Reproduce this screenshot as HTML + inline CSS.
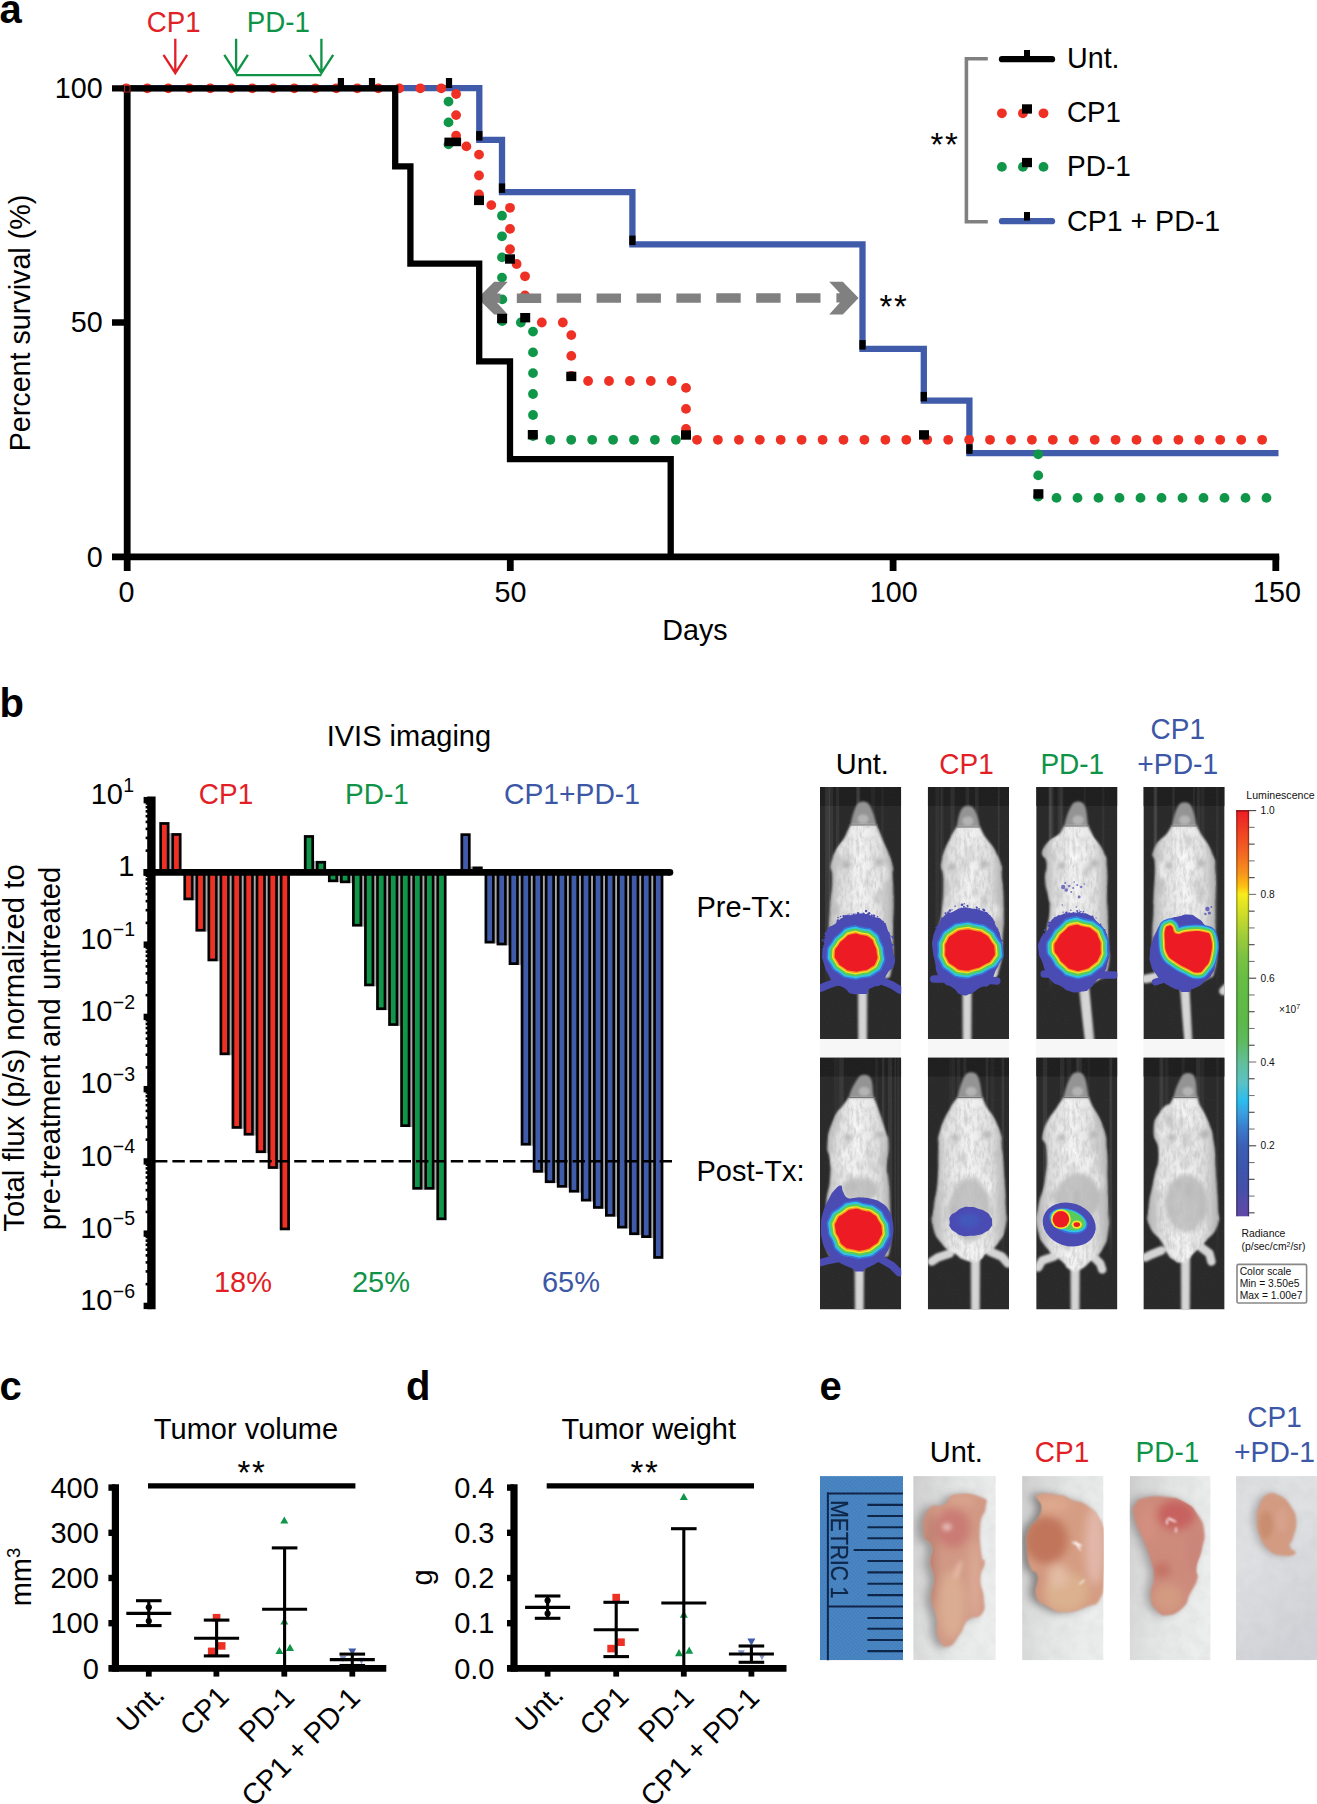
<!DOCTYPE html>
<html lang="en"><head><meta charset="utf-8"><title>Figure</title>
<style>
html,body{margin:0;padding:0;background:#fff;}
body{width:1317px;height:1804px;overflow:hidden;}
svg{display:block;font-family:"Liberation Sans",Arial,Helvetica,sans-serif;}
text{white-space:pre;}
</style></head><body>
<svg width="1317" height="1804" viewBox="0 0 1317 1804">
<defs>

<filter id="mblur" x="-10%" y="-10%" width="120%" height="120%"><feGaussianBlur stdDeviation="0.9"/></filter>
<filter id="mblur2" x="-20%" y="-20%" width="140%" height="140%"><feGaussianBlur stdDeviation="2.2"/></filter>
<filter id="lblur" x="-10%" y="-10%" width="120%" height="120%"><feGaussianBlur stdDeviation="0.5"/></filter>
<linearGradient id="bodyg" x1="0" y1="0" x2="1" y2="0"><stop offset="0" stop-color="#b0b0b0"/><stop offset="0.2" stop-color="#dedede"/><stop offset="0.5" stop-color="#f4f4f4"/><stop offset="0.8" stop-color="#dedede"/><stop offset="1" stop-color="#adadad"/></linearGradient>
<linearGradient id="stripe" x1="0" y1="0" x2="0" y2="1"><stop offset="0" stop-color="#fff"/><stop offset="0.8" stop-color="#fff"/><stop offset="1" stop-color="#fff" stop-opacity="0"/></linearGradient>
<filter id="fur" x="0" y="0" width="100%" height="100%"><feTurbulence type="fractalNoise" baseFrequency="0.3 0.12" numOctaves="3" seed="4" result="n"/><feColorMatrix type="matrix" values="0 0 0 0 0.5  0 0 0 0 0.5  0 0 0 0 0.5  3 0 0 0 -1.2"/></filter>
<filter id="noise" x="0" y="0" width="100%" height="100%"><feTurbulence type="fractalNoise" baseFrequency="0.5" numOctaves="2" seed="9"/><feColorMatrix type="matrix" values="0 0 0 0 1  0 0 0 0 1  0 0 0 0 1  0.5 0 0 0 -0.2"/></filter>
<linearGradient id="tailg" x1="0" y1="0" x2="1" y2="0"><stop offset="0" stop-color="#b4b4b4"/><stop offset="0.3" stop-color="#d6d6d6"/><stop offset="0.7" stop-color="#d6d6d6"/><stop offset="1" stop-color="#b4b4b4"/></linearGradient>
<linearGradient id="cbar" x1="0" y1="0" x2="0" y2="1"><stop offset="0" stop-color="#ed1c24"/><stop offset="0.104" stop-color="#f26522"/><stop offset="0.155" stop-color="#f7941d"/><stop offset="0.187" stop-color="#fdc010"/><stop offset="0.207" stop-color="#f8ec1c"/><stop offset="0.26" stop-color="#cadb2a"/><stop offset="0.31" stop-color="#a0cc3a"/><stop offset="0.36" stop-color="#7cc242"/><stop offset="0.4145" stop-color="#67bd45"/><stop offset="0.518" stop-color="#5cb848"/><stop offset="0.57" stop-color="#5dba60"/><stop offset="0.622" stop-color="#62bf9a"/><stop offset="0.67" stop-color="#5cc1c4"/><stop offset="0.715" stop-color="#2bbdee"/><stop offset="0.745" stop-color="#3aa0e0"/><stop offset="0.783" stop-color="#3a7ccc"/><stop offset="0.827" stop-color="#3c5fb4"/><stop offset="0.88" stop-color="#3c56ac"/><stop offset="0.93" stop-color="#4450a8"/><stop offset="0.98" stop-color="#5a4aa8"/><stop offset="1" stop-color="#5e48a6"/></linearGradient>

<filter id="eblur" x="-10%" y="-10%" width="120%" height="120%"><feGaussianBlur stdDeviation="1.0"/></filter>
<filter id="eblur2" x="-30%" y="-30%" width="160%" height="160%"><feGaussianBlur stdDeviation="2"/></filter>
<filter id="eblur3" x="-30%" y="-30%" width="160%" height="160%"><feGaussianBlur stdDeviation="4"/></filter>
<filter id="rblur" x="-5%" y="-5%" width="110%" height="110%"><feGaussianBlur stdDeviation="0.45"/></filter>
<linearGradient id="paper" x1="0" y1="0" x2="1" y2="0.3"><stop offset="0" stop-color="#cecece"/><stop offset="0.45" stop-color="#e2e3e3"/><stop offset="1" stop-color="#eceded"/></linearGradient>
<linearGradient id="paper4" x1="0" y1="0" x2="0.4" y2="1"><stop offset="0" stop-color="#dedfe1"/><stop offset="0.4" stop-color="#e0e1e3"/><stop offset="1" stop-color="#d2d3d8"/></linearGradient>
<pattern id="weave" width="2.6" height="2.6" patternUnits="userSpaceOnUse" patternTransform="rotate(38)"><rect width="2.6" height="2.6" fill="#4784c1"/><rect width="2.6" height="1.1" fill="#3f7ab8"/><rect width="1.1" height="2.6" fill="#5590ca" opacity="0.5"/></pattern>
<filter id="pnoise" x="0" y="0" width="100%" height="100%"><feTurbulence type="fractalNoise" baseFrequency="0.08" numOctaves="3" seed="3"/><feColorMatrix type="matrix" values="0 0 0 0 0.5  0 0 0 0 0.5  0 0 0 0 0.5  1.6 0 0 0 -0.6"/></filter>

</defs>
<rect width="1317" height="1804" fill="#ffffff"/>
<g id="pa">
<text x="-0.5" y="22.8" font-size="40" fill="#000" text-anchor="start" font-weight="bold">a</text>
<path d="M127,88.2 H479.3 V139.9 H502 V192.2 H632.4 V244.4 H862.5 V348.9 H923.8 V400.7 H969.4 V453.1 H1278.5" fill="none" stroke="#3f5ba9" stroke-width="6.3" stroke-linejoin="miter"/>
<circle cx="448.5" cy="101.6" r="4.9" fill="#0f9648"/>
<circle cx="448.5" cy="122.4" r="4.9" fill="#0f9648"/>
<circle cx="448.5" cy="144.4" r="4.9" fill="#0f9648"/>
<circle cx="502.0" cy="215.7" r="4.9" fill="#0f9648"/>
<circle cx="502.0" cy="236.3" r="4.9" fill="#0f9648"/>
<circle cx="502.0" cy="257.4" r="4.9" fill="#0f9648"/>
<circle cx="502.0" cy="277.6" r="4.9" fill="#0f9648"/>
<circle cx="502.3" cy="299.4" r="4.9" fill="#0f9648"/>
<circle cx="502.2" cy="321.0" r="4.9" fill="#0f9648"/>
<circle cx="520.9" cy="322.5" r="4.9" fill="#0f9648"/>
<circle cx="533.0" cy="331.6" r="4.9" fill="#0f9648"/>
<circle cx="533.0" cy="352.4" r="4.9" fill="#0f9648"/>
<circle cx="533.0" cy="373.1" r="4.9" fill="#0f9648"/>
<circle cx="533.0" cy="394.0" r="4.9" fill="#0f9648"/>
<circle cx="533.0" cy="415.0" r="4.9" fill="#0f9648"/>
<circle cx="533.0" cy="436.0" r="4.9" fill="#0f9648"/>
<circle cx="550.3" cy="439.8" r="4.9" fill="#0f9648"/>
<circle cx="571.2" cy="439.8" r="4.9" fill="#0f9648"/>
<circle cx="592.2" cy="439.8" r="4.9" fill="#0f9648"/>
<circle cx="613.1" cy="439.8" r="4.9" fill="#0f9648"/>
<circle cx="634.0" cy="439.8" r="4.9" fill="#0f9648"/>
<circle cx="654.9" cy="439.8" r="4.9" fill="#0f9648"/>
<circle cx="675.9" cy="439.8" r="4.9" fill="#0f9648"/>
<circle cx="1038.2" cy="454.3" r="4.9" fill="#0f9648"/>
<circle cx="1038.2" cy="475.4" r="4.9" fill="#0f9648"/>
<circle cx="1038.2" cy="496.5" r="4.9" fill="#0f9648"/>
<circle cx="1056.5" cy="497.9" r="4.9" fill="#0f9648"/>
<circle cx="1077.5" cy="497.9" r="4.9" fill="#0f9648"/>
<circle cx="1098.5" cy="497.9" r="4.9" fill="#0f9648"/>
<circle cx="1119.5" cy="497.9" r="4.9" fill="#0f9648"/>
<circle cx="1140.5" cy="497.9" r="4.9" fill="#0f9648"/>
<circle cx="1161.5" cy="497.9" r="4.9" fill="#0f9648"/>
<circle cx="1182.5" cy="497.9" r="4.9" fill="#0f9648"/>
<circle cx="1203.5" cy="497.9" r="4.9" fill="#0f9648"/>
<circle cx="1224.5" cy="497.9" r="4.9" fill="#0f9648"/>
<circle cx="1245.5" cy="497.9" r="4.9" fill="#0f9648"/>
<circle cx="1266.5" cy="497.9" r="4.9" fill="#0f9648"/>
<circle cx="126.3" cy="88.3" r="4.9" fill="#ee3124"/>
<circle cx="147.3" cy="88.3" r="4.9" fill="#ee3124"/>
<circle cx="168.3" cy="88.3" r="4.9" fill="#ee3124"/>
<circle cx="189.3" cy="88.3" r="4.9" fill="#ee3124"/>
<circle cx="210.3" cy="88.3" r="4.9" fill="#ee3124"/>
<circle cx="231.3" cy="88.3" r="4.9" fill="#ee3124"/>
<circle cx="252.3" cy="88.3" r="4.9" fill="#ee3124"/>
<circle cx="273.3" cy="88.3" r="4.9" fill="#ee3124"/>
<circle cx="294.3" cy="88.3" r="4.9" fill="#ee3124"/>
<circle cx="315.3" cy="88.3" r="4.9" fill="#ee3124"/>
<circle cx="336.3" cy="88.3" r="4.9" fill="#ee3124"/>
<circle cx="357.3" cy="88.3" r="4.9" fill="#ee3124"/>
<circle cx="378.3" cy="88.3" r="4.9" fill="#ee3124"/>
<circle cx="399.3" cy="88.3" r="4.9" fill="#ee3124"/>
<circle cx="420.3" cy="88.3" r="4.9" fill="#ee3124"/>
<circle cx="441.3" cy="88.3" r="4.9" fill="#ee3124"/>
<circle cx="456.1" cy="94.0" r="4.9" fill="#ee3124"/>
<circle cx="456.1" cy="115.1" r="4.9" fill="#ee3124"/>
<circle cx="456.1" cy="135.6" r="4.9" fill="#ee3124"/>
<circle cx="466.4" cy="146.4" r="4.9" fill="#ee3124"/>
<circle cx="479.0" cy="154.6" r="4.9" fill="#ee3124"/>
<circle cx="479.0" cy="175.5" r="4.9" fill="#ee3124"/>
<circle cx="479.0" cy="194.4" r="4.9" fill="#ee3124"/>
<circle cx="491.3" cy="205.1" r="4.9" fill="#ee3124"/>
<circle cx="510.0" cy="207.8" r="4.9" fill="#ee3124"/>
<circle cx="510.0" cy="228.9" r="4.9" fill="#ee3124"/>
<circle cx="510.0" cy="249.2" r="4.9" fill="#ee3124"/>
<circle cx="516.6" cy="264.0" r="4.9" fill="#ee3124"/>
<circle cx="525.0" cy="276.3" r="4.9" fill="#ee3124"/>
<circle cx="525.0" cy="295.4" r="4.9" fill="#ee3124"/>
<circle cx="541.8" cy="322.5" r="4.9" fill="#ee3124"/>
<circle cx="562.8" cy="322.5" r="4.9" fill="#ee3124"/>
<circle cx="571.3" cy="335.1" r="4.9" fill="#ee3124"/>
<circle cx="571.3" cy="355.9" r="4.9" fill="#ee3124"/>
<circle cx="571.3" cy="376.0" r="4.9" fill="#ee3124"/>
<circle cx="588.1" cy="381.0" r="4.9" fill="#ee3124"/>
<circle cx="609.0" cy="381.0" r="4.9" fill="#ee3124"/>
<circle cx="629.9" cy="381.0" r="4.9" fill="#ee3124"/>
<circle cx="650.8" cy="381.0" r="4.9" fill="#ee3124"/>
<circle cx="671.7" cy="381.0" r="4.9" fill="#ee3124"/>
<circle cx="686.0" cy="387.9" r="4.9" fill="#ee3124"/>
<circle cx="686.0" cy="408.9" r="4.9" fill="#ee3124"/>
<circle cx="686.0" cy="429.0" r="4.9" fill="#ee3124"/>
<circle cx="697.0" cy="439.8" r="4.9" fill="#ee3124"/>
<circle cx="717.9" cy="439.8" r="4.9" fill="#ee3124"/>
<circle cx="738.9" cy="439.8" r="4.9" fill="#ee3124"/>
<circle cx="759.8" cy="439.8" r="4.9" fill="#ee3124"/>
<circle cx="780.7" cy="439.8" r="4.9" fill="#ee3124"/>
<circle cx="801.6" cy="439.8" r="4.9" fill="#ee3124"/>
<circle cx="822.6" cy="439.8" r="4.9" fill="#ee3124"/>
<circle cx="843.5" cy="439.8" r="4.9" fill="#ee3124"/>
<circle cx="864.4" cy="439.8" r="4.9" fill="#ee3124"/>
<circle cx="885.4" cy="439.8" r="4.9" fill="#ee3124"/>
<circle cx="906.3" cy="439.8" r="4.9" fill="#ee3124"/>
<circle cx="927.2" cy="439.8" r="4.9" fill="#ee3124"/>
<circle cx="948.2" cy="439.8" r="4.9" fill="#ee3124"/>
<circle cx="969.1" cy="439.8" r="4.9" fill="#ee3124"/>
<circle cx="990.0" cy="439.8" r="4.9" fill="#ee3124"/>
<circle cx="1011.0" cy="439.8" r="4.9" fill="#ee3124"/>
<circle cx="1031.9" cy="439.8" r="4.9" fill="#ee3124"/>
<circle cx="1052.8" cy="439.8" r="4.9" fill="#ee3124"/>
<circle cx="1073.7" cy="439.8" r="4.9" fill="#ee3124"/>
<circle cx="1094.7" cy="439.8" r="4.9" fill="#ee3124"/>
<circle cx="1115.6" cy="439.8" r="4.9" fill="#ee3124"/>
<circle cx="1136.5" cy="439.8" r="4.9" fill="#ee3124"/>
<circle cx="1157.5" cy="439.8" r="4.9" fill="#ee3124"/>
<circle cx="1178.4" cy="439.8" r="4.9" fill="#ee3124"/>
<circle cx="1199.3" cy="439.8" r="4.9" fill="#ee3124"/>
<circle cx="1220.2" cy="439.8" r="4.9" fill="#ee3124"/>
<circle cx="1241.2" cy="439.8" r="4.9" fill="#ee3124"/>
<circle cx="1262.1" cy="439.8" r="4.9" fill="#ee3124"/>
<line x1="516.8" y1="298.2" x2="822" y2="298" stroke="#808080" stroke-width="9.4" stroke-dasharray="24.4 15.5"/>
<polygon points="477.6,298.2 494.2,281.8 507.8,281.8 497,293.5 500.5,293.5 500.5,302.8 497,302.8 507.8,314.6 494.2,314.6" fill="#808080"/>
<polygon points="858.6,298 842.8,281.8 829.2,281.8 840,293.3 836.4,293.3 836.4,302.6 840,302.6 829.2,314.6 842.8,314.6" fill="#808080"/>
<path d="M112,88.3 H395.2 V166.4 H410.4 V263.7 H479.2 V361.4 H510 V459.2 H670.7 V556.8" fill="none" stroke="#000" stroke-width="6.3" stroke-linejoin="miter"/>
<line x1="127.2" y1="85.1" x2="127.2" y2="571" stroke="#000" stroke-width="6.8" stroke-linecap="butt"/>
<line x1="112" y1="556.8" x2="1279.2" y2="556.8" stroke="#000" stroke-width="6.8" stroke-linecap="butt"/>
<line x1="112" y1="322.5" x2="127" y2="322.5" stroke="#000" stroke-width="6.5" stroke-linecap="butt"/>
<line x1="510.3" y1="556" x2="510.3" y2="571" stroke="#000" stroke-width="6.8" stroke-linecap="butt"/>
<line x1="893.1" y1="556" x2="893.1" y2="571" stroke="#000" stroke-width="6.8" stroke-linecap="butt"/>
<line x1="1275.8" y1="556" x2="1275.8" y2="571" stroke="#000" stroke-width="6.8" stroke-linecap="butt"/>
<rect x="337.80" y="78.00" width="6.20" height="10.00" fill="#000"/>
<rect x="368.90" y="78.00" width="6.20" height="10.00" fill="#000"/>
<rect x="445.90" y="78.00" width="6.20" height="10.00" fill="#000"/>
<rect x="476.15" y="131.10" width="6.30" height="9.50" fill="#000"/>
<rect x="498.85" y="183.40" width="6.30" height="9.50" fill="#000"/>
<rect x="629.25" y="235.60" width="6.30" height="9.50" fill="#000"/>
<rect x="859.35" y="340.10" width="6.30" height="9.50" fill="#000"/>
<rect x="920.65" y="391.90" width="6.30" height="9.50" fill="#000"/>
<rect x="966.25" y="444.30" width="6.30" height="9.50" fill="#000"/>
<rect x="444.40" y="137.60" width="16.70" height="8.60" fill="#000"/>
<rect x="474.00" y="195.70" width="10.00" height="9.40" fill="#000"/>
<rect x="505.00" y="254.30" width="10.00" height="9.40" fill="#000"/>
<rect x="497.10" y="313.80" width="10.00" height="9.40" fill="#000"/>
<rect x="520.20" y="313.00" width="10.00" height="9.40" fill="#000"/>
<rect x="566.30" y="371.70" width="10.00" height="9.40" fill="#000"/>
<rect x="527.80" y="430.00" width="10.00" height="9.40" fill="#000"/>
<rect x="681.00" y="430.30" width="10.00" height="9.40" fill="#000"/>
<rect x="919.00" y="430.20" width="10.00" height="9.40" fill="#000"/>
<rect x="1033.40" y="489.20" width="10.00" height="9.40" fill="#000"/>
<text x="102.6" y="98.2" font-size="28.7" fill="#000" text-anchor="end">100</text>
<text x="102.6" y="332.4" font-size="28.7" fill="#000" text-anchor="end">50</text>
<text x="102.6" y="566.6999999999999" font-size="28.7" fill="#000" text-anchor="end">0</text>
<text x="126.5" y="601.6" font-size="28.7" fill="#000" text-anchor="middle">0</text>
<text x="510.5" y="601.6" font-size="28.7" fill="#000" text-anchor="middle">50</text>
<text x="893.8" y="601.6" font-size="28.7" fill="#000" text-anchor="middle">100</text>
<text x="1277" y="601.6" font-size="28.7" fill="#000" text-anchor="middle">150</text>
<text x="695" y="640" font-size="28.7" fill="#000" text-anchor="middle">Days</text>
<text x="0" y="0" font-size="28.7" fill="#000" text-anchor="middle" transform="translate(29.5,323) rotate(-90)">Percent survival (%)</text>
<text x="146.8" y="31.8" font-size="28.7" fill="#e21f26" text-anchor="start" textLength="53.9" lengthAdjust="spacingAndGlyphs">CP1</text>
<text x="246.8" y="31.8" font-size="28.7" fill="#0f9347" text-anchor="start" textLength="63.1" lengthAdjust="spacingAndGlyphs">PD-1</text>
<path d="M175.3,38.8 V72.5 M163.5,54.8 L175.3,73.2 L187.10000000000002,54.8" fill="none" stroke="#e21f26" stroke-width="2.3"/>
<path d="M236.1,38.8 V72.5 M224.29999999999998,54.8 L236.1,73.2 L247.9,54.8" fill="none" stroke="#0f9347" stroke-width="2.3"/>
<path d="M321.4,38.8 V72.5 M309.59999999999997,54.8 L321.4,73.2 L333.2,54.8" fill="none" stroke="#0f9347" stroke-width="2.3"/>
<line x1="236.1" y1="75.2" x2="321.4" y2="75.2" stroke="#0f9347" stroke-width="2.3" stroke-linecap="butt"/>
<path d="M987.8,58.8 H966.4 V221.8 H987.8" fill="none" stroke="#808080" stroke-width="3.6"/>
<line x1="1002" y1="59.2" x2="1052" y2="59.2" stroke="#000" stroke-width="6.3" stroke-linecap="round"/>
<rect x="1024.00" y="50.00" width="6.00" height="8.00" fill="#000"/>
<circle cx="1001.9" cy="113.3" r="4.9" fill="#ee3124"/>
<circle cx="1001.9" cy="166.9" r="4.9" fill="#0f9648"/>
<circle cx="1022.9" cy="113.3" r="4.9" fill="#ee3124"/>
<circle cx="1022.9" cy="166.9" r="4.9" fill="#0f9648"/>
<circle cx="1043.5" cy="113.3" r="4.9" fill="#ee3124"/>
<circle cx="1043.5" cy="166.9" r="4.9" fill="#0f9648"/>
<rect x="1022.00" y="104.30" width="10.00" height="9.30" fill="#000"/>
<rect x="1022.00" y="157.90" width="10.00" height="9.30" fill="#000"/>
<line x1="1002" y1="221.2" x2="1052" y2="221.2" stroke="#3f5ba9" stroke-width="6.3" stroke-linecap="round"/>
<rect x="1024.00" y="212.00" width="6.00" height="8.60" fill="#000"/>
<text x="1067" y="67.9" font-size="28.7" fill="#000" text-anchor="start" textLength="52.6" lengthAdjust="spacingAndGlyphs">Unt.</text>
<text x="1067" y="122.2" font-size="28.7" fill="#000" text-anchor="start" textLength="53.9" lengthAdjust="spacingAndGlyphs">CP1</text>
<text x="1067" y="175.9" font-size="28.7" fill="#000" text-anchor="start" textLength="63.8" lengthAdjust="spacingAndGlyphs">PD-1</text>
<text x="1067" y="230.9" font-size="28.7" fill="#000" text-anchor="start" textLength="153.2" lengthAdjust="spacingAndGlyphs">CP1 + PD-1</text>
<text x="930.5" y="155.8" font-size="33" fill="#000" text-anchor="start" letter-spacing="1.6">**</text>
<text x="879.5" y="318.2" font-size="33" fill="#000" text-anchor="start" letter-spacing="1.6">**</text>
<rect x="124.6" y="85.6" width="5.4" height="6.4" fill="none" stroke="#ee3124" stroke-width="0.7"/>
</g><g id="pb">
<text x="-0.5" y="717.4" font-size="40" fill="#000" text-anchor="start" font-weight="bold">b</text>
<text x="408.9" y="745.8" font-size="29" fill="#000" text-anchor="middle">IVIS imaging</text>
<text x="226" y="804.2" font-size="29" fill="#e21f26" text-anchor="middle" textLength="54.4" lengthAdjust="spacingAndGlyphs">CP1</text>
<text x="377" y="804.2" font-size="29" fill="#0f9347" text-anchor="middle" textLength="63.8" lengthAdjust="spacingAndGlyphs">PD-1</text>
<text x="572" y="804.2" font-size="29" fill="#3c57a6" text-anchor="middle" textLength="135.9" lengthAdjust="spacingAndGlyphs">CP1+PD-1</text>
<text x="243" y="1291.5" font-size="29" fill="#e21f26" text-anchor="middle">18%</text>
<text x="381" y="1291.5" font-size="29" fill="#0f9347" text-anchor="middle">25%</text>
<text x="571" y="1291.5" font-size="29" fill="#3c57a6" text-anchor="middle">65%</text>
<rect x="169.20" y="833.10" width="2.45" height="39.30" fill="#a8a8a8"/>
<rect x="193.29" y="872.40" width="2.45" height="27.90" fill="#a8a8a8"/>
<rect x="205.34" y="872.40" width="2.45" height="59.20" fill="#a8a8a8"/>
<rect x="217.38" y="872.40" width="2.45" height="88.90" fill="#a8a8a8"/>
<rect x="229.43" y="872.40" width="2.45" height="182.80" fill="#a8a8a8"/>
<rect x="241.48" y="872.40" width="2.45" height="256.40" fill="#a8a8a8"/>
<rect x="253.52" y="872.40" width="2.45" height="263.20" fill="#a8a8a8"/>
<rect x="265.57" y="872.40" width="2.45" height="280.70" fill="#a8a8a8"/>
<rect x="277.61" y="872.40" width="2.45" height="296.50" fill="#a8a8a8"/>
<rect x="313.75" y="860.90" width="2.45" height="11.50" fill="#a8a8a8"/>
<rect x="337.84" y="872.40" width="2.45" height="9.80" fill="#a8a8a8"/>
<rect x="349.89" y="872.40" width="2.45" height="10.80" fill="#a8a8a8"/>
<rect x="361.94" y="872.40" width="2.45" height="54.20" fill="#a8a8a8"/>
<rect x="373.98" y="872.40" width="2.45" height="113.90" fill="#a8a8a8"/>
<rect x="386.03" y="872.40" width="2.45" height="137.70" fill="#a8a8a8"/>
<rect x="398.07" y="872.40" width="2.45" height="153.50" fill="#a8a8a8"/>
<rect x="410.12" y="872.40" width="2.45" height="254.60" fill="#a8a8a8"/>
<rect x="422.17" y="872.40" width="2.45" height="317.30" fill="#a8a8a8"/>
<rect x="434.21" y="872.40" width="2.45" height="317.30" fill="#a8a8a8"/>
<rect x="470.35" y="866.50" width="2.45" height="5.90" fill="#a8a8a8"/>
<rect x="494.44" y="872.40" width="2.45" height="71.10" fill="#a8a8a8"/>
<rect x="506.49" y="872.40" width="2.45" height="73.00" fill="#a8a8a8"/>
<rect x="518.53" y="872.40" width="2.45" height="92.60" fill="#a8a8a8"/>
<rect x="530.58" y="872.40" width="2.45" height="273.20" fill="#a8a8a8"/>
<rect x="542.63" y="872.40" width="2.45" height="300.30" fill="#a8a8a8"/>
<rect x="554.67" y="872.40" width="2.45" height="310.70" fill="#a8a8a8"/>
<rect x="566.72" y="872.40" width="2.45" height="315.30" fill="#a8a8a8"/>
<rect x="578.76" y="872.40" width="2.45" height="320.20" fill="#a8a8a8"/>
<rect x="590.81" y="872.40" width="2.45" height="329.10" fill="#a8a8a8"/>
<rect x="602.86" y="872.40" width="2.45" height="336.40" fill="#a8a8a8"/>
<rect x="614.90" y="872.40" width="2.45" height="344.30" fill="#a8a8a8"/>
<rect x="626.95" y="872.40" width="2.45" height="356.10" fill="#a8a8a8"/>
<rect x="638.99" y="872.40" width="2.45" height="362.70" fill="#a8a8a8"/>
<rect x="651.04" y="872.40" width="2.45" height="365.60" fill="#a8a8a8"/>
<rect x="160.65" y="823.45" width="7.50" height="48.95" fill="#ee3124" stroke="#000" stroke-width="2.7"/>
<rect x="172.70" y="834.45" width="7.50" height="37.95" fill="#ee3124" stroke="#000" stroke-width="2.7"/>
<rect x="184.74" y="872.40" width="7.50" height="26.55" fill="#ee3124" stroke="#000" stroke-width="2.7"/>
<rect x="196.79" y="872.40" width="7.50" height="57.85" fill="#ee3124" stroke="#000" stroke-width="2.7"/>
<rect x="208.83" y="872.40" width="7.50" height="87.55" fill="#ee3124" stroke="#000" stroke-width="2.7"/>
<rect x="220.88" y="872.40" width="7.50" height="181.45" fill="#ee3124" stroke="#000" stroke-width="2.7"/>
<rect x="232.93" y="872.40" width="7.50" height="255.05" fill="#ee3124" stroke="#000" stroke-width="2.7"/>
<rect x="244.97" y="872.40" width="7.50" height="261.85" fill="#ee3124" stroke="#000" stroke-width="2.7"/>
<rect x="257.02" y="872.40" width="7.50" height="279.35" fill="#ee3124" stroke="#000" stroke-width="2.7"/>
<rect x="269.06" y="872.40" width="7.50" height="295.15" fill="#ee3124" stroke="#000" stroke-width="2.7"/>
<rect x="281.11" y="872.40" width="7.50" height="356.55" fill="#ee3124" stroke="#000" stroke-width="2.7"/>
<rect x="305.20" y="836.45" width="7.50" height="35.95" fill="#0f9648" stroke="#000" stroke-width="2.7"/>
<rect x="317.25" y="862.25" width="7.50" height="10.15" fill="#0f9648" stroke="#000" stroke-width="2.7"/>
<rect x="329.29" y="872.40" width="7.50" height="8.45" fill="#0f9648" stroke="#000" stroke-width="2.7"/>
<rect x="341.34" y="872.40" width="7.50" height="9.45" fill="#0f9648" stroke="#000" stroke-width="2.7"/>
<rect x="353.39" y="872.40" width="7.50" height="52.85" fill="#0f9648" stroke="#000" stroke-width="2.7"/>
<rect x="365.43" y="872.40" width="7.50" height="112.55" fill="#0f9648" stroke="#000" stroke-width="2.7"/>
<rect x="377.48" y="872.40" width="7.50" height="136.35" fill="#0f9648" stroke="#000" stroke-width="2.7"/>
<rect x="389.52" y="872.40" width="7.50" height="152.15" fill="#0f9648" stroke="#000" stroke-width="2.7"/>
<rect x="401.57" y="872.40" width="7.50" height="253.25" fill="#0f9648" stroke="#000" stroke-width="2.7"/>
<rect x="413.62" y="872.40" width="7.50" height="315.95" fill="#0f9648" stroke="#000" stroke-width="2.7"/>
<rect x="425.66" y="872.40" width="7.50" height="315.95" fill="#0f9648" stroke="#000" stroke-width="2.7"/>
<rect x="437.71" y="872.40" width="7.50" height="346.45" fill="#0f9648" stroke="#000" stroke-width="2.7"/>
<rect x="461.80" y="834.65" width="7.50" height="37.75" fill="#3f5ba9" stroke="#000" stroke-width="2.7"/>
<rect x="473.85" y="867.85" width="7.50" height="4.55" fill="#3f5ba9" stroke="#000" stroke-width="2.7"/>
<rect x="485.89" y="872.40" width="7.50" height="69.75" fill="#3f5ba9" stroke="#000" stroke-width="2.7"/>
<rect x="497.94" y="872.40" width="7.50" height="71.65" fill="#3f5ba9" stroke="#000" stroke-width="2.7"/>
<rect x="509.98" y="872.40" width="7.50" height="91.25" fill="#3f5ba9" stroke="#000" stroke-width="2.7"/>
<rect x="522.03" y="872.40" width="7.50" height="271.85" fill="#3f5ba9" stroke="#000" stroke-width="2.7"/>
<rect x="534.08" y="872.40" width="7.50" height="298.95" fill="#3f5ba9" stroke="#000" stroke-width="2.7"/>
<rect x="546.12" y="872.40" width="7.50" height="309.35" fill="#3f5ba9" stroke="#000" stroke-width="2.7"/>
<rect x="558.17" y="872.40" width="7.50" height="313.95" fill="#3f5ba9" stroke="#000" stroke-width="2.7"/>
<rect x="570.21" y="872.40" width="7.50" height="318.85" fill="#3f5ba9" stroke="#000" stroke-width="2.7"/>
<rect x="582.26" y="872.40" width="7.50" height="327.75" fill="#3f5ba9" stroke="#000" stroke-width="2.7"/>
<rect x="594.31" y="872.40" width="7.50" height="335.05" fill="#3f5ba9" stroke="#000" stroke-width="2.7"/>
<rect x="606.35" y="872.40" width="7.50" height="342.95" fill="#3f5ba9" stroke="#000" stroke-width="2.7"/>
<rect x="618.40" y="872.40" width="7.50" height="354.75" fill="#3f5ba9" stroke="#000" stroke-width="2.7"/>
<rect x="630.44" y="872.40" width="7.50" height="361.35" fill="#3f5ba9" stroke="#000" stroke-width="2.7"/>
<rect x="642.49" y="872.40" width="7.50" height="364.25" fill="#3f5ba9" stroke="#000" stroke-width="2.7"/>
<rect x="654.54" y="872.40" width="7.50" height="385.05" fill="#3f5ba9" stroke="#000" stroke-width="2.7"/>
<line x1="155" y1="1161.2" x2="672" y2="1161.2" stroke="#000" stroke-width="2.6" stroke-dasharray="12.4 5" />
<line x1="143.6" y1="872.4" x2="670" y2="872.4" stroke="#000" stroke-width="6.6" stroke-linecap="butt"/>
<circle cx="670.0" cy="872.4" r="3.3" fill="#000"/>
<line x1="151.4" y1="796.6" x2="151.4" y2="1309.2" stroke="#000" stroke-width="8.4" stroke-linecap="butt"/>
<line x1="143.6" y1="800.15" x2="152" y2="800.15" stroke="#000" stroke-width="6.4" stroke-linecap="butt"/>
<line x1="145.6" y1="850.6505828132773" x2="152" y2="850.6505828132773" stroke="#000" stroke-width="2.6" stroke-linecap="butt"/>
<line x1="145.6" y1="837.9279893465043" x2="152" y2="837.9279893465043" stroke="#000" stroke-width="2.6" stroke-linecap="butt"/>
<line x1="145.6" y1="828.9011656265546" x2="152" y2="828.9011656265546" stroke="#000" stroke-width="2.6" stroke-linecap="butt"/>
<line x1="145.6" y1="821.8994171867226" x2="152" y2="821.8994171867226" stroke="#000" stroke-width="2.6" stroke-linecap="butt"/>
<line x1="145.6" y1="816.1785721597818" x2="152" y2="816.1785721597818" stroke="#000" stroke-width="2.6" stroke-linecap="butt"/>
<line x1="145.6" y1="811.34166660897" x2="152" y2="811.34166660897" stroke="#000" stroke-width="2.6" stroke-linecap="butt"/>
<line x1="145.6" y1="807.1517484398321" x2="152" y2="807.1517484398321" stroke="#000" stroke-width="2.6" stroke-linecap="butt"/>
<line x1="145.6" y1="803.4559786930088" x2="152" y2="803.4559786930088" stroke="#000" stroke-width="2.6" stroke-linecap="butt"/>
<line x1="143.6" y1="872.4" x2="152" y2="872.4" stroke="#000" stroke-width="6.4" stroke-linecap="butt"/>
<line x1="145.6" y1="922.9005828132773" x2="152" y2="922.9005828132773" stroke="#000" stroke-width="2.6" stroke-linecap="butt"/>
<line x1="145.6" y1="910.1779893465043" x2="152" y2="910.1779893465043" stroke="#000" stroke-width="2.6" stroke-linecap="butt"/>
<line x1="145.6" y1="901.1511656265546" x2="152" y2="901.1511656265546" stroke="#000" stroke-width="2.6" stroke-linecap="butt"/>
<line x1="145.6" y1="894.1494171867226" x2="152" y2="894.1494171867226" stroke="#000" stroke-width="2.6" stroke-linecap="butt"/>
<line x1="145.6" y1="888.4285721597818" x2="152" y2="888.4285721597818" stroke="#000" stroke-width="2.6" stroke-linecap="butt"/>
<line x1="145.6" y1="883.59166660897" x2="152" y2="883.59166660897" stroke="#000" stroke-width="2.6" stroke-linecap="butt"/>
<line x1="145.6" y1="879.4017484398321" x2="152" y2="879.4017484398321" stroke="#000" stroke-width="2.6" stroke-linecap="butt"/>
<line x1="145.6" y1="875.7059786930088" x2="152" y2="875.7059786930088" stroke="#000" stroke-width="2.6" stroke-linecap="butt"/>
<line x1="143.6" y1="944.65" x2="152" y2="944.65" stroke="#000" stroke-width="6.4" stroke-linecap="butt"/>
<line x1="145.6" y1="995.1505828132773" x2="152" y2="995.1505828132773" stroke="#000" stroke-width="2.6" stroke-linecap="butt"/>
<line x1="145.6" y1="982.4279893465043" x2="152" y2="982.4279893465043" stroke="#000" stroke-width="2.6" stroke-linecap="butt"/>
<line x1="145.6" y1="973.4011656265546" x2="152" y2="973.4011656265546" stroke="#000" stroke-width="2.6" stroke-linecap="butt"/>
<line x1="145.6" y1="966.3994171867226" x2="152" y2="966.3994171867226" stroke="#000" stroke-width="2.6" stroke-linecap="butt"/>
<line x1="145.6" y1="960.6785721597818" x2="152" y2="960.6785721597818" stroke="#000" stroke-width="2.6" stroke-linecap="butt"/>
<line x1="145.6" y1="955.84166660897" x2="152" y2="955.84166660897" stroke="#000" stroke-width="2.6" stroke-linecap="butt"/>
<line x1="145.6" y1="951.6517484398321" x2="152" y2="951.6517484398321" stroke="#000" stroke-width="2.6" stroke-linecap="butt"/>
<line x1="145.6" y1="947.9559786930088" x2="152" y2="947.9559786930088" stroke="#000" stroke-width="2.6" stroke-linecap="butt"/>
<line x1="143.6" y1="1016.9" x2="152" y2="1016.9" stroke="#000" stroke-width="6.4" stroke-linecap="butt"/>
<line x1="145.6" y1="1067.4005828132774" x2="152" y2="1067.4005828132774" stroke="#000" stroke-width="2.6" stroke-linecap="butt"/>
<line x1="145.6" y1="1054.6779893465043" x2="152" y2="1054.6779893465043" stroke="#000" stroke-width="2.6" stroke-linecap="butt"/>
<line x1="145.6" y1="1045.6511656265548" x2="152" y2="1045.6511656265548" stroke="#000" stroke-width="2.6" stroke-linecap="butt"/>
<line x1="145.6" y1="1038.6494171867225" x2="152" y2="1038.6494171867225" stroke="#000" stroke-width="2.6" stroke-linecap="butt"/>
<line x1="145.6" y1="1032.9285721597817" x2="152" y2="1032.9285721597817" stroke="#000" stroke-width="2.6" stroke-linecap="butt"/>
<line x1="145.6" y1="1028.09166660897" x2="152" y2="1028.09166660897" stroke="#000" stroke-width="2.6" stroke-linecap="butt"/>
<line x1="145.6" y1="1023.9017484398321" x2="152" y2="1023.9017484398321" stroke="#000" stroke-width="2.6" stroke-linecap="butt"/>
<line x1="145.6" y1="1020.2059786930088" x2="152" y2="1020.2059786930088" stroke="#000" stroke-width="2.6" stroke-linecap="butt"/>
<line x1="143.6" y1="1089.15" x2="152" y2="1089.15" stroke="#000" stroke-width="6.4" stroke-linecap="butt"/>
<line x1="145.6" y1="1139.6505828132772" x2="152" y2="1139.6505828132772" stroke="#000" stroke-width="2.6" stroke-linecap="butt"/>
<line x1="145.6" y1="1126.9279893465043" x2="152" y2="1126.9279893465043" stroke="#000" stroke-width="2.6" stroke-linecap="butt"/>
<line x1="145.6" y1="1117.9011656265548" x2="152" y2="1117.9011656265548" stroke="#000" stroke-width="2.6" stroke-linecap="butt"/>
<line x1="145.6" y1="1110.8994171867225" x2="152" y2="1110.8994171867225" stroke="#000" stroke-width="2.6" stroke-linecap="butt"/>
<line x1="145.6" y1="1105.1785721597817" x2="152" y2="1105.1785721597817" stroke="#000" stroke-width="2.6" stroke-linecap="butt"/>
<line x1="145.6" y1="1100.34166660897" x2="152" y2="1100.34166660897" stroke="#000" stroke-width="2.6" stroke-linecap="butt"/>
<line x1="145.6" y1="1096.151748439832" x2="152" y2="1096.151748439832" stroke="#000" stroke-width="2.6" stroke-linecap="butt"/>
<line x1="145.6" y1="1092.4559786930088" x2="152" y2="1092.4559786930088" stroke="#000" stroke-width="2.6" stroke-linecap="butt"/>
<line x1="143.6" y1="1161.4" x2="152" y2="1161.4" stroke="#000" stroke-width="6.4" stroke-linecap="butt"/>
<line x1="145.6" y1="1211.9005828132772" x2="152" y2="1211.9005828132772" stroke="#000" stroke-width="2.6" stroke-linecap="butt"/>
<line x1="145.6" y1="1199.1779893465043" x2="152" y2="1199.1779893465043" stroke="#000" stroke-width="2.6" stroke-linecap="butt"/>
<line x1="145.6" y1="1190.1511656265548" x2="152" y2="1190.1511656265548" stroke="#000" stroke-width="2.6" stroke-linecap="butt"/>
<line x1="145.6" y1="1183.1494171867225" x2="152" y2="1183.1494171867225" stroke="#000" stroke-width="2.6" stroke-linecap="butt"/>
<line x1="145.6" y1="1177.4285721597817" x2="152" y2="1177.4285721597817" stroke="#000" stroke-width="2.6" stroke-linecap="butt"/>
<line x1="145.6" y1="1172.59166660897" x2="152" y2="1172.59166660897" stroke="#000" stroke-width="2.6" stroke-linecap="butt"/>
<line x1="145.6" y1="1168.401748439832" x2="152" y2="1168.401748439832" stroke="#000" stroke-width="2.6" stroke-linecap="butt"/>
<line x1="145.6" y1="1164.7059786930088" x2="152" y2="1164.7059786930088" stroke="#000" stroke-width="2.6" stroke-linecap="butt"/>
<line x1="143.6" y1="1233.65" x2="152" y2="1233.65" stroke="#000" stroke-width="6.4" stroke-linecap="butt"/>
<line x1="145.6" y1="1284.1505828132772" x2="152" y2="1284.1505828132772" stroke="#000" stroke-width="2.6" stroke-linecap="butt"/>
<line x1="145.6" y1="1271.4279893465043" x2="152" y2="1271.4279893465043" stroke="#000" stroke-width="2.6" stroke-linecap="butt"/>
<line x1="145.6" y1="1262.4011656265548" x2="152" y2="1262.4011656265548" stroke="#000" stroke-width="2.6" stroke-linecap="butt"/>
<line x1="145.6" y1="1255.3994171867225" x2="152" y2="1255.3994171867225" stroke="#000" stroke-width="2.6" stroke-linecap="butt"/>
<line x1="145.6" y1="1249.6785721597817" x2="152" y2="1249.6785721597817" stroke="#000" stroke-width="2.6" stroke-linecap="butt"/>
<line x1="145.6" y1="1244.84166660897" x2="152" y2="1244.84166660897" stroke="#000" stroke-width="2.6" stroke-linecap="butt"/>
<line x1="145.6" y1="1240.651748439832" x2="152" y2="1240.651748439832" stroke="#000" stroke-width="2.6" stroke-linecap="butt"/>
<line x1="145.6" y1="1236.9559786930088" x2="152" y2="1236.9559786930088" stroke="#000" stroke-width="2.6" stroke-linecap="butt"/>
<line x1="143.6" y1="1305.9" x2="152" y2="1305.9" stroke="#000" stroke-width="6.4" stroke-linecap="butt"/>
<text x="123" y="804.4" font-size="29" text-anchor="end">10</text>
<text x="123.3" y="791.8" font-size="19.5" text-anchor="start">1</text>
<text x="134.5" y="876.2" font-size="29" fill="#000" text-anchor="end">1</text>
<text x="112.5" y="948.9" font-size="29" text-anchor="end">10</text>
<text x="112.8" y="936.2" font-size="19.5" text-anchor="start">−1</text>
<text x="112.5" y="1021.1" font-size="29" text-anchor="end">10</text>
<text x="112.8" y="1008.5" font-size="19.5" text-anchor="start">−2</text>
<text x="112.5" y="1093.4" font-size="29" text-anchor="end">10</text>
<text x="112.8" y="1080.8" font-size="19.5" text-anchor="start">−3</text>
<text x="112.5" y="1165.6" font-size="29" text-anchor="end">10</text>
<text x="112.8" y="1153.0" font-size="19.5" text-anchor="start">−4</text>
<text x="112.5" y="1237.9" font-size="29" text-anchor="end">10</text>
<text x="112.8" y="1225.3" font-size="19.5" text-anchor="start">−5</text>
<text x="112.5" y="1310.1" font-size="29" text-anchor="end">10</text>
<text x="112.8" y="1297.5" font-size="19.5" text-anchor="start">−6</text>
<text x="0" y="0" font-size="29.4" fill="#000" text-anchor="middle" transform="translate(24.1,1048) rotate(-90)">Total flux (p/s) normalized to</text>
<text x="0" y="0" font-size="29.2" fill="#000" text-anchor="middle" transform="translate(59.5,1048.5) rotate(-90)">pre-treatment and untreated</text>
<text x="696.5" y="916.9" font-size="29" fill="#000" text-anchor="start">Pre-Tx:</text>
<text x="696.5" y="1180.9" font-size="29" fill="#000" text-anchor="start">Post-Tx:</text>
</g><g id="pmice">
<rect x="820.00" y="1039.00" width="81.20" height="18.50" fill="#f7f7f7"/>
<rect x="927.80" y="1039.00" width="81.20" height="18.50" fill="#f7f7f7"/>
<rect x="1036.20" y="1039.00" width="81.20" height="18.50" fill="#f7f7f7"/>
<rect x="1143.40" y="1039.00" width="81.20" height="18.50" fill="#f7f7f7"/>
<clipPath id="mc820_787"><rect x="0" y="0" width="81.2" height="252"/></clipPath>
<clipPath id="mc820_787b"><path d="M25.0,50.0 C21.1,56.9 15.8,60.1 12.0,73.0 C8.2,85.9 13.1,78.0 12.5,93.0 C11.9,108.0 11.1,105.9 10.0,123.0 C8.9,140.1 9.0,132.9 9.0,150.0 C9.0,167.1 6.1,167.1 10.0,180.0 C13.9,192.9 12.4,187.9 22.0,193.0 C31.6,198.1 30.0,197.0 42.0,197.0 C54.0,197.0 53.0,198.1 62.0,193.0 C71.0,187.9 68.7,195.9 72.0,180.0 C75.3,164.1 72.5,161.0 73.0,140.0 C73.5,119.0 73.7,125.0 73.5,110.0 C73.3,95.0 73.0,100.0 72.5,90.0 C72.0,80.0 74.7,87.0 72.0,76.5 C69.3,66.0 66.0,61.5 63.5,55.0 L56.5,38 L30.5,38 Z"/></clipPath>
<g transform="translate(820,787)" clip-path="url(#mc820_787)">
<rect x="0" y="0" width="81.2" height="252" fill="#2a2a2a"/>
<rect x="0" y="0" width="81.2" height="19" fill="#1f1f1f"/>
<rect x="0" y="0" width="81.2" height="252" filter="url(#noise)" opacity="0.10"/>
<rect x="36.0" y="0" width="3.5" height="205" fill="url(#stripe)" opacity="0.076"/>
<rect x="37.0" y="0" width="3.3" height="205" fill="url(#stripe)" opacity="0.059"/>
<rect x="15.9" y="0" width="3.3" height="205" fill="url(#stripe)" opacity="0.061"/>
<rect x="61.6" y="0" width="1.8" height="205" fill="url(#stripe)" opacity="0.045"/>
<rect x="8.8" y="0" width="4.3" height="205" fill="url(#stripe)" opacity="0.065"/>
<rect x="5.1" y="0" width="4.9" height="205" fill="url(#stripe)" opacity="0.078"/>
<rect x="51.2" y="0" width="3.7" height="205" fill="url(#stripe)" opacity="0.038"/>
<g filter="url(#mblur)">
<polygon points="37.8,200 47.4,200 47.099999999999994,254 38.1,254" fill="url(#tailg)"/>
<path d="M25.0,50.0 C21.1,56.9 15.8,60.1 12.0,73.0 C8.2,85.9 13.1,78.0 12.5,93.0 C11.9,108.0 11.1,105.9 10.0,123.0 C8.9,140.1 9.0,132.9 9.0,150.0 C9.0,167.1 6.1,167.1 10.0,180.0 C13.9,192.9 12.4,187.9 22.0,193.0 C31.6,198.1 30.0,197.0 42.0,197.0 C54.0,197.0 53.0,198.1 62.0,193.0 C71.0,187.9 68.7,195.9 72.0,180.0 C75.3,164.1 72.5,161.0 73.0,140.0 C73.5,119.0 73.7,125.0 73.5,110.0 C73.3,95.0 73.0,100.0 72.5,90.0 C72.0,80.0 74.7,87.0 72.0,76.5 C69.3,66.0 66.0,61.5 63.5,55.0 L56.5,38 L30.5,38 Z" fill="url(#bodyg)"/>
<path d="M30.5,38 C32,30 34.1,21.9 37.1,17.4 C39.1,13.4 47.1,13.4 49.1,17.4 C52.1,21.9 55,30 56.5,38 Z" fill="#949494"/>
<ellipse cx="43.1" cy="32" rx="5.5" ry="4.5" fill="#b4b4b4"/>
</g>
<line x1="29" y1="38" x2="58" y2="38" stroke="#6a6a6a" stroke-width="0.9"/>
<g filter="url(#mblur2)" clip-path="url(#mc820_787b)">
<ellipse cx="15.8" cy="131.9" rx="2.2" ry="4.1" fill="#ffffff" opacity="0.31"/>
<ellipse cx="16.6" cy="121.9" rx="3.2" ry="6.1" fill="#a8a8a8" opacity="0.38"/>
<ellipse cx="48.6" cy="127.5" rx="3.9" ry="7.2" fill="#ffffff" opacity="0.32"/>
<ellipse cx="67.4" cy="204.3" rx="4.4" ry="8.2" fill="#a8a8a8" opacity="0.33"/>
<ellipse cx="27.1" cy="94.8" rx="2.2" ry="4.1" fill="#a8a8a8" opacity="0.35"/>
<ellipse cx="59.4" cy="109.9" rx="4.7" ry="8.8" fill="#a8a8a8" opacity="0.25"/>
<ellipse cx="26.0" cy="191.1" rx="3.3" ry="6.2" fill="#a8a8a8" opacity="0.35"/>
<ellipse cx="18.8" cy="147.6" rx="4.2" ry="7.8" fill="#ffffff" opacity="0.27"/>
<ellipse cx="32.5" cy="199.4" rx="4.1" ry="7.7" fill="#ffffff" opacity="0.31"/>
<ellipse cx="20.3" cy="59.3" rx="4.2" ry="7.9" fill="#ffffff" opacity="0.39"/>
<ellipse cx="38.5" cy="79.6" rx="4.0" ry="7.6" fill="#ffffff" opacity="0.41"/>
<ellipse cx="21.1" cy="115.2" rx="2.6" ry="4.9" fill="#ffffff" opacity="0.49"/>
<ellipse cx="57.2" cy="97.1" rx="4.5" ry="8.4" fill="#ffffff" opacity="0.35"/>
<ellipse cx="59.9" cy="149.5" rx="2.3" ry="4.3" fill="#a8a8a8" opacity="0.30"/>
<ellipse cx="28.6" cy="169.8" rx="2.9" ry="5.5" fill="#ffffff" opacity="0.27"/>
<ellipse cx="19.7" cy="140.3" rx="2.7" ry="5.0" fill="#a8a8a8" opacity="0.34"/>
<ellipse cx="38.8" cy="198.7" rx="3.4" ry="6.3" fill="#a8a8a8" opacity="0.47"/>
<ellipse cx="24.6" cy="73.9" rx="4.5" ry="8.5" fill="#a8a8a8" opacity="0.31"/>
<ellipse cx="25.0" cy="164.6" rx="4.6" ry="8.7" fill="#ffffff" opacity="0.49"/>
<ellipse cx="61.3" cy="143.5" rx="3.2" ry="6.0" fill="#ffffff" opacity="0.26"/>
<ellipse cx="65.5" cy="87.0" rx="4.0" ry="7.4" fill="#ffffff" opacity="0.46"/>
<ellipse cx="46.3" cy="95.5" rx="2.5" ry="4.7" fill="#a8a8a8" opacity="0.27"/>
<ellipse cx="27.0" cy="136.7" rx="4.4" ry="8.2" fill="#a8a8a8" opacity="0.32"/>
<ellipse cx="63.2" cy="81.6" rx="2.0" ry="3.8" fill="#ffffff" opacity="0.36"/>
<ellipse cx="18.2" cy="77.3" rx="3.0" ry="5.7" fill="#a8a8a8" opacity="0.28"/>
<ellipse cx="34.0" cy="188.1" rx="4.7" ry="8.9" fill="#a8a8a8" opacity="0.42"/>
<ellipse cx="27.1" cy="78" rx="4" ry="3.4" fill="#9c9c9c" opacity="0.7"/>
<ellipse cx="59.1" cy="75" rx="4" ry="3.4" fill="#9c9c9c" opacity="0.7"/>
</g>
<g clip-path="url(#mc820_787b)"><rect x="0" y="0" width="81.2" height="252" filter="url(#fur)" opacity="0.5"/></g>
<path d="M73.3,165.5 C74.3,173.0 76.4,170.4 74.4,177.3 C72.5,184.2 71.5,180.0 67.5,186.3 C63.4,192.7 67.3,191.7 62.4,196.3 C57.4,201.0 59.0,197.8 52.6,200.4 C46.3,203.0 49.9,201.9 43.3,204.1 C36.7,206.3 39.4,208.2 32.9,207.1 C26.4,206.0 30.0,204.5 23.8,200.8 C17.6,197.2 19.6,200.8 14.4,196.2 C9.2,191.6 11.6,193.5 8.1,187.0 C4.6,180.6 5.9,183.9 3.9,176.7 C2.0,169.5 2.0,172.9 2.3,165.5 C2.6,158.1 3.3,162.0 4.8,154.6 C6.4,147.1 3.4,149.2 7.0,143.2 C10.6,137.1 10.1,140.9 15.7,136.5 C21.3,132.2 17.8,133.0 23.7,130.1 C29.7,127.2 26.9,128.9 33.4,127.8 C39.9,126.7 36.7,126.3 43.3,126.8 C49.9,127.4 46.6,127.0 53.1,129.5 C59.6,131.9 57.8,129.2 62.8,134.1 C67.9,138.9 65.3,137.3 68.2,144.1 C71.1,151.0 69.8,147.5 71.5,154.7 C73.2,161.8 72.3,158.0 73.3,165.5Z" fill="#4b4bb4"/>
<path d="M20.5,185 Q36.5,199 38.0,207 L47.0,207 Q48.5,199 64.5,185 Z" fill="#4b4bb4"/>
<circle cx="46.0" cy="124.0" r="1.2" fill="#4b4bb4"/>
<circle cx="35.0" cy="127.0" r="0.7" fill="#4b4bb4"/>
<circle cx="18.0" cy="133.5" r="1.3" fill="#4b4bb4"/>
<circle cx="6.5" cy="152.2" r="1.1" fill="#4b4bb4"/>
<circle cx="25.3" cy="129.0" r="1.0" fill="#4b4bb4"/>
<circle cx="29.2" cy="127.1" r="0.7" fill="#4b4bb4"/>
<circle cx="5.6" cy="146.9" r="1.0" fill="#4b4bb4"/>
<circle cx="69.0" cy="146.9" r="0.8" fill="#4b4bb4"/>
<circle cx="28.7" cy="129.2" r="0.9" fill="#4b4bb4"/>
<circle cx="41.7" cy="128.0" r="1.1" fill="#4b4bb4"/>
<circle cx="3.3" cy="158.5" r="0.5" fill="#4b4bb4"/>
<circle cx="12.1" cy="141.7" r="1.0" fill="#4b4bb4"/>
<circle cx="59.2" cy="132.8" r="0.9" fill="#4b4bb4"/>
<circle cx="38.1" cy="126.3" r="1.2" fill="#4b4bb4"/>
<circle cx="56.9" cy="133.2" r="0.6" fill="#4b4bb4"/>
<circle cx="4.7" cy="155.1" r="1.2" fill="#4b4bb4"/>
<circle cx="65.8" cy="141.7" r="1.1" fill="#4b4bb4"/>
<circle cx="66.3" cy="140.9" r="0.6" fill="#4b4bb4"/>
<circle cx="65.0" cy="136.9" r="0.9" fill="#4b4bb4"/>
<circle cx="68.4" cy="146.2" r="1.2" fill="#4b4bb4"/>
<circle cx="23.5" cy="129.2" r="1.1" fill="#4b4bb4"/>
<circle cx="24.6" cy="129.9" r="1.2" fill="#4b4bb4"/>
<circle cx="4.3" cy="149.9" r="0.7" fill="#4b4bb4"/>
<circle cx="5.1" cy="146.2" r="0.8" fill="#4b4bb4"/>
<circle cx="5.6" cy="148.0" r="0.5" fill="#4b4bb4"/>
<circle cx="51.8" cy="128.3" r="1.0" fill="#4b4bb4"/>
<circle cx="64.2" cy="140.1" r="1.0" fill="#4b4bb4"/>
<circle cx="43.5" cy="126.6" r="1.2" fill="#4b4bb4"/>
<circle cx="18.0" cy="130.6" r="0.8" fill="#4b4bb4"/>
<circle cx="5.9" cy="153.9" r="0.6" fill="#4b4bb4"/>
<circle cx="7.9" cy="146.6" r="0.9" fill="#4b4bb4"/>
<circle cx="54.5" cy="128.7" r="0.8" fill="#4b4bb4"/>
<circle cx="54.1" cy="131.2" r="0.9" fill="#4b4bb4"/>
<circle cx="20.6" cy="129.4" r="0.7" fill="#4b4bb4"/>
<circle cx="31.9" cy="127.0" r="0.5" fill="#4b4bb4"/>
<circle cx="2.5" cy="153.4" r="0.9" fill="#4b4bb4"/>
<circle cx="53.9" cy="128.7" r="1.3" fill="#4b4bb4"/>
<circle cx="62.8" cy="134.9" r="1.2" fill="#4b4bb4"/>
<circle cx="5.2" cy="152.9" r="0.7" fill="#4b4bb4"/>
<circle cx="49.2" cy="126.2" r="1.2" fill="#4b4bb4"/>
<circle cx="4.2" cy="152.8" r="1.0" fill="#4b4bb4"/>
<circle cx="57.5" cy="129.7" r="0.8" fill="#4b4bb4"/>
<circle cx="58.7" cy="132.6" r="0.8" fill="#4b4bb4"/>
<circle cx="17.3" cy="135.0" r="1.1" fill="#4b4bb4"/>
<circle cx="7.3" cy="149.5" r="0.6" fill="#4b4bb4"/>
<circle cx="59.9" cy="132.8" r="1.2" fill="#4b4bb4"/>
<circle cx="33.5" cy="127.3" r="0.9" fill="#4b4bb4"/>
<circle cx="59.5" cy="132.5" r="0.7" fill="#4b4bb4"/>
<circle cx="47.9" cy="127.5" r="1.2" fill="#4b4bb4"/>
<circle cx="70.7" cy="148.8" r="0.6" fill="#4b4bb4"/>
<circle cx="8.6" cy="147.1" r="1.1" fill="#4b4bb4"/>
<circle cx="73.5" cy="158.0" r="0.8" fill="#4b4bb4"/>
<circle cx="9.6" cy="145.5" r="0.9" fill="#4b4bb4"/>
<circle cx="72.0" cy="157.9" r="1.1" fill="#4b4bb4"/>
<circle cx="27.3" cy="129.0" r="1.2" fill="#4b4bb4"/>
<circle cx="72.0" cy="149.5" r="0.8" fill="#4b4bb4"/>
<circle cx="4.9" cy="155.1" r="0.9" fill="#4b4bb4"/>
<circle cx="13.0" cy="140.0" r="0.9" fill="#4b4bb4"/>
<circle cx="72.8" cy="150.6" r="1.1" fill="#4b4bb4"/>
<circle cx="10.3" cy="140.6" r="0.9" fill="#4b4bb4"/>
<polyline points="20,194 8,198 1,201" fill="none" stroke="#4b4bb4" stroke-width="7.5" stroke-linecap="round" stroke-linejoin="round"/>
<polyline points="62,194 72,198 80,203" fill="none" stroke="#4b4bb4" stroke-width="7.5" stroke-linecap="round" stroke-linejoin="round"/>

<path d="M64.6,166.0 C65.4,173.7 66.9,170.9 63.7,178.0 C60.6,185.2 62.1,183.0 55.2,187.5 C48.2,192.0 51.2,190.0 42.8,191.5 C34.4,193.0 38.2,193.7 30.0,192.1 C21.9,190.6 25.1,191.6 18.4,186.8 C11.6,182.1 13.8,184.8 9.8,177.8 C5.8,170.9 6.0,173.7 6.5,166.0 C6.9,158.3 7.0,161.5 11.3,154.8 C15.5,148.2 13.0,151.3 19.2,146.0 C25.3,140.8 21.9,141.0 29.8,139.0 C37.7,137.0 34.5,138.2 43.0,140.0 C51.4,141.9 49.0,139.5 55.2,144.5 C61.4,149.5 58.3,147.8 61.5,155.0 C64.6,162.1 63.9,158.3 64.6,166.0Z" fill="#3b6fd6"/>
<path d="M63.1,166.0 C63.8,173.2 65.2,170.6 62.2,177.3 C59.3,184.1 60.7,182.0 54.2,186.2 C47.6,190.4 50.4,188.5 42.5,190.0 C34.6,191.4 38.1,192.0 30.4,190.6 C22.7,189.1 25.7,190.1 19.4,185.6 C13.0,181.1 15.0,183.6 11.3,177.1 C7.5,170.6 7.6,173.2 8.1,166.0 C8.6,158.8 8.6,161.8 12.6,155.5 C16.6,149.3 14.3,152.2 20.1,147.2 C25.9,142.3 22.7,142.5 30.2,140.6 C37.7,138.7 34.6,139.9 42.6,141.6 C50.6,143.3 48.3,141.1 54.2,145.8 C60.0,150.5 57.2,148.9 60.1,155.6 C63.1,162.4 62.4,158.8 63.1,166.0Z" fill="#30c4e4"/>
<path d="M61.4,166.0 C62.0,172.7 63.3,170.2 60.6,176.5 C57.8,182.8 59.2,180.9 53.0,184.8 C46.9,188.7 49.5,186.9 42.1,188.3 C34.7,189.6 38.0,190.2 30.8,188.8 C23.6,187.5 26.4,188.4 20.5,184.2 C14.5,180.0 16.4,182.4 12.9,176.3 C9.4,170.2 9.5,172.7 10.0,166.0 C10.4,159.3 10.5,162.1 14.2,156.3 C17.9,150.4 15.7,153.2 21.2,148.6 C26.6,144.0 23.6,144.2 30.6,142.4 C37.6,140.7 34.7,141.7 42.2,143.3 C49.7,144.9 47.5,142.9 53.0,147.2 C58.5,151.6 55.8,150.1 58.6,156.4 C61.4,162.6 60.7,159.3 61.4,166.0Z" fill="#58cc5a"/>
<path d="M59.2,166.0 C59.8,172.1 61.0,169.8 58.5,175.5 C56.0,181.2 57.2,179.5 51.6,183.0 C46.0,186.6 48.4,184.9 41.6,186.2 C34.8,187.4 37.8,187.9 31.3,186.7 C24.7,185.4 27.3,186.3 21.9,182.5 C16.4,178.7 18.1,180.8 14.9,175.3 C11.7,169.8 11.8,172.1 12.2,166.0 C12.6,159.9 12.7,162.4 16.1,157.2 C19.5,151.9 17.5,154.4 22.5,150.2 C27.5,146.0 24.7,146.2 31.1,144.6 C37.5,143.1 34.9,144.0 41.7,145.5 C48.6,146.9 46.6,145.1 51.6,149.0 C56.6,152.9 54.2,151.6 56.7,157.3 C59.2,162.9 58.6,159.9 59.2,166.0Z" fill="#f2e526"/>
<path d="M58.0,166.0 C58.6,171.7 59.7,169.6 57.3,174.9 C54.9,180.3 56.1,178.6 50.8,182.0 C45.5,185.3 47.8,183.8 41.3,184.9 C34.9,186.1 37.8,186.5 31.5,185.4 C25.3,184.2 27.8,185.0 22.7,181.5 C17.5,177.9 19.1,179.9 16.1,174.8 C13.1,169.6 13.2,171.7 13.6,166.0 C13.9,160.3 14.0,162.7 17.2,157.7 C20.5,152.8 18.5,155.1 23.3,151.2 C28.0,147.3 25.3,147.4 31.4,145.9 C37.4,144.5 35.0,145.4 41.4,146.7 C47.9,148.1 46.0,146.3 50.8,150.0 C55.5,153.7 53.2,152.5 55.6,157.8 C58.0,163.1 57.4,160.3 58.0,166.0Z" fill="#f7941d"/>
<path d="M56.7,166.0 C57.3,171.3 58.3,169.4 56.1,174.4 C53.8,179.3 54.9,177.8 49.9,180.9 C44.9,184.0 47.1,182.6 41.1,183.7 C35.0,184.8 37.7,185.2 31.8,184.1 C26.0,183.1 28.3,183.8 23.5,180.5 C18.6,177.2 20.2,179.0 17.3,174.2 C14.4,169.4 14.5,171.3 14.9,166.0 C15.2,160.7 15.3,162.9 18.3,158.3 C21.4,153.6 19.6,155.8 24.0,152.1 C28.5,148.5 26.0,148.6 31.7,147.3 C37.4,145.9 35.1,146.7 41.1,148.0 C47.2,149.3 45.5,147.6 49.9,151.1 C54.4,154.5 52.2,153.4 54.5,158.3 C56.7,163.3 56.2,160.7 56.7,166.0Z" fill="#ed1c24"/>
</g>
<clipPath id="mc927_787"><rect x="0" y="0" width="81.2" height="252"/></clipPath>
<clipPath id="mc927_787b"><path d="M24.0,48.0 C21.1,55.5 16.7,59.5 14.2,73.0 C11.7,86.5 15.8,78.0 15.8,93.0 C15.8,108.0 15.9,105.9 14.2,123.0 C12.5,140.1 11.3,132.9 10.0,150.0 C8.7,167.1 6.4,167.1 10.0,180.0 C13.6,192.9 12.4,187.9 22.0,193.0 C31.6,198.1 30.0,197.0 42.0,197.0 C54.0,197.0 53.0,198.1 62.0,193.0 C71.0,187.9 68.1,192.9 72.0,180.0 C75.9,167.1 73.8,167.1 75.0,150.0 C76.2,132.9 76.2,140.1 76.0,123.0 C75.8,105.9 75.8,108.5 74.3,93.0 C72.8,77.5 76.5,85.0 71.0,71.5 C65.5,58.0 60.5,55.0 56.0,48.0 L52.1,40 L28.9,40 Z"/></clipPath>
<g transform="translate(927.8,787)" clip-path="url(#mc927_787)">
<rect x="0" y="0" width="81.2" height="252" fill="#2a2a2a"/>
<rect x="0" y="0" width="81.2" height="19" fill="#1f1f1f"/>
<rect x="0" y="0" width="81.2" height="252" filter="url(#noise)" opacity="0.10"/>
<rect x="37.7" y="0" width="3.8" height="205" fill="url(#stripe)" opacity="0.063"/>
<rect x="12.7" y="0" width="1.5" height="205" fill="url(#stripe)" opacity="0.049"/>
<rect x="22.6" y="0" width="4.3" height="205" fill="url(#stripe)" opacity="0.065"/>
<rect x="47.2" y="0" width="3.5" height="205" fill="url(#stripe)" opacity="0.063"/>
<rect x="12.9" y="0" width="3.0" height="205" fill="url(#stripe)" opacity="0.038"/>
<rect x="70.1" y="0" width="1.7" height="205" fill="url(#stripe)" opacity="0.071"/>
<rect x="7.6" y="0" width="3.9" height="205" fill="url(#stripe)" opacity="0.047"/>
<g filter="url(#mblur)">
<polygon points="34.5,200 44.0,200 43.699999999999996,254 34.800000000000004,254" fill="url(#tailg)"/>
<path d="M24.0,48.0 C21.1,55.5 16.7,59.5 14.2,73.0 C11.7,86.5 15.8,78.0 15.8,93.0 C15.8,108.0 15.9,105.9 14.2,123.0 C12.5,140.1 11.3,132.9 10.0,150.0 C8.7,167.1 6.4,167.1 10.0,180.0 C13.6,192.9 12.4,187.9 22.0,193.0 C31.6,198.1 30.0,197.0 42.0,197.0 C54.0,197.0 53.0,198.1 62.0,193.0 C71.0,187.9 68.1,192.9 72.0,180.0 C75.9,167.1 73.8,167.1 75.0,150.0 C76.2,132.9 76.2,140.1 76.0,123.0 C75.8,105.9 75.8,108.5 74.3,93.0 C72.8,77.5 76.5,85.0 71.0,71.5 C65.5,58.0 60.5,55.0 56.0,48.0 L52.1,40 L28.9,40 Z" fill="url(#bodyg)"/>
<path d="M28.9,40 C30.4,32 31.1,26.3 34.1,21.8 C36.1,17.8 44.1,17.8 46.1,21.8 C49.1,26.3 50.6,32 52.1,40 Z" fill="#949494"/>
<ellipse cx="40.1" cy="34" rx="5.5" ry="4.5" fill="#b4b4b4"/>
</g>
<line x1="27.4" y1="40" x2="53.6" y2="40" stroke="#6a6a6a" stroke-width="0.9"/>
<g filter="url(#mblur2)" clip-path="url(#mc927_787b)">
<ellipse cx="37.8" cy="180.9" rx="2.1" ry="3.8" fill="#ffffff" opacity="0.48"/>
<ellipse cx="43.5" cy="65.9" rx="4.8" ry="8.9" fill="#a8a8a8" opacity="0.28"/>
<ellipse cx="38.9" cy="72.7" rx="2.9" ry="5.4" fill="#a8a8a8" opacity="0.29"/>
<ellipse cx="53.6" cy="59.9" rx="2.5" ry="4.6" fill="#a8a8a8" opacity="0.35"/>
<ellipse cx="38.6" cy="143.2" rx="3.3" ry="6.3" fill="#ffffff" opacity="0.26"/>
<ellipse cx="55.2" cy="200.0" rx="4.7" ry="8.9" fill="#a8a8a8" opacity="0.34"/>
<ellipse cx="35.6" cy="157.6" rx="3.9" ry="7.3" fill="#ffffff" opacity="0.31"/>
<ellipse cx="35.6" cy="130.2" rx="4.3" ry="8.0" fill="#ffffff" opacity="0.26"/>
<ellipse cx="60.4" cy="117.8" rx="3.5" ry="6.5" fill="#ffffff" opacity="0.36"/>
<ellipse cx="37.0" cy="170.1" rx="2.3" ry="4.3" fill="#ffffff" opacity="0.29"/>
<ellipse cx="53.6" cy="57.6" rx="2.8" ry="5.2" fill="#ffffff" opacity="0.41"/>
<ellipse cx="18.8" cy="122.3" rx="2.6" ry="4.8" fill="#ffffff" opacity="0.37"/>
<ellipse cx="67.8" cy="125.6" rx="4.7" ry="8.8" fill="#ffffff" opacity="0.48"/>
<ellipse cx="35.7" cy="81.0" rx="4.1" ry="7.7" fill="#a8a8a8" opacity="0.25"/>
<ellipse cx="30.5" cy="169.9" rx="3.0" ry="5.5" fill="#ffffff" opacity="0.25"/>
<ellipse cx="18.2" cy="146.7" rx="4.8" ry="8.9" fill="#a8a8a8" opacity="0.38"/>
<ellipse cx="17.3" cy="101.3" rx="4.2" ry="7.9" fill="#a8a8a8" opacity="0.41"/>
<ellipse cx="28.4" cy="132.7" rx="3.3" ry="6.3" fill="#a8a8a8" opacity="0.32"/>
<ellipse cx="67.1" cy="188.8" rx="2.5" ry="4.6" fill="#ffffff" opacity="0.47"/>
<ellipse cx="31.0" cy="196.4" rx="3.4" ry="6.5" fill="#a8a8a8" opacity="0.43"/>
<ellipse cx="27.6" cy="95.6" rx="2.7" ry="5.1" fill="#a8a8a8" opacity="0.42"/>
<ellipse cx="23.1" cy="187.6" rx="3.2" ry="6.0" fill="#ffffff" opacity="0.36"/>
<ellipse cx="68.9" cy="137.7" rx="3.7" ry="7.0" fill="#a8a8a8" opacity="0.49"/>
<ellipse cx="57.1" cy="115.9" rx="3.6" ry="6.8" fill="#a8a8a8" opacity="0.45"/>
<ellipse cx="47.3" cy="105.2" rx="3.0" ry="5.7" fill="#a8a8a8" opacity="0.39"/>
<ellipse cx="16.9" cy="160.7" rx="4.5" ry="8.5" fill="#a8a8a8" opacity="0.47"/>
<ellipse cx="24.1" cy="80" rx="4" ry="3.4" fill="#9c9c9c" opacity="0.7"/>
<ellipse cx="56.1" cy="77" rx="4" ry="3.4" fill="#9c9c9c" opacity="0.7"/>
</g>
<g clip-path="url(#mc927_787b)"><rect x="0" y="0" width="81.2" height="252" filter="url(#fur)" opacity="0.5"/></g>
<path d="M73.4,163.0 C72.9,171.2 73.8,167.5 71.7,175.1 C69.6,182.7 70.1,178.3 67.0,185.7 C63.9,193.0 67.2,192.1 62.4,197.1 C57.6,202.1 58.8,197.6 52.6,200.6 C46.5,203.6 50.2,203.7 43.9,206.1 C37.7,208.5 40.1,209.5 33.9,207.8 C27.7,206.1 31.1,204.8 25.3,200.9 C19.4,197.0 21.5,200.8 16.3,196.1 C11.1,191.3 12.6,193.9 9.6,186.8 C6.7,179.7 9.0,182.6 7.4,174.7 C5.8,166.8 5.6,171.1 4.9,163.0 C4.2,154.9 3.5,158.3 5.2,150.5 C7.0,142.7 6.6,146.6 10.1,139.6 C13.7,132.6 10.9,134.3 15.9,129.4 C20.9,124.4 19.1,127.6 25.2,124.8 C31.3,122.0 28.0,122.1 34.2,121.1 C40.4,120.0 37.3,120.8 43.7,121.6 C50.1,122.4 47.1,121.0 53.3,123.4 C59.6,125.8 57.6,123.4 62.6,128.7 C67.5,134.0 64.8,132.0 68.3,139.3 C71.8,146.5 71.3,142.5 73.0,150.4 C74.7,158.3 73.8,154.8 73.4,163.0Z" fill="#4b4bb4"/>
<path d="M17.200000000000003,185 Q33.2,199 34.7,207 L43.7,207 Q45.2,199 61.2,185 Z" fill="#4b4bb4"/>
<circle cx="10.2" cy="140.2" r="1.1" fill="#4b4bb4"/>
<circle cx="49.0" cy="120.7" r="1.0" fill="#4b4bb4"/>
<circle cx="6.4" cy="150.8" r="0.9" fill="#4b4bb4"/>
<circle cx="69.6" cy="142.5" r="0.7" fill="#4b4bb4"/>
<circle cx="8.5" cy="140.8" r="1.0" fill="#4b4bb4"/>
<circle cx="33.5" cy="121.4" r="0.9" fill="#4b4bb4"/>
<circle cx="10.1" cy="139.1" r="1.0" fill="#4b4bb4"/>
<circle cx="17.9" cy="130.8" r="1.1" fill="#4b4bb4"/>
<circle cx="40.0" cy="119.7" r="0.8" fill="#4b4bb4"/>
<circle cx="68.6" cy="145.9" r="1.0" fill="#4b4bb4"/>
<circle cx="51.2" cy="122.0" r="0.9" fill="#4b4bb4"/>
<circle cx="55.3" cy="122.5" r="1.0" fill="#4b4bb4"/>
<circle cx="36.0" cy="119.7" r="1.0" fill="#4b4bb4"/>
<circle cx="68.8" cy="141.3" r="1.1" fill="#4b4bb4"/>
<circle cx="48.9" cy="120.4" r="0.9" fill="#4b4bb4"/>
<circle cx="72.0" cy="153.1" r="1.3" fill="#4b4bb4"/>
<circle cx="69.9" cy="150.2" r="1.2" fill="#4b4bb4"/>
<circle cx="68.4" cy="143.1" r="1.0" fill="#4b4bb4"/>
<circle cx="69.9" cy="149.1" r="1.0" fill="#4b4bb4"/>
<circle cx="15.2" cy="133.6" r="0.9" fill="#4b4bb4"/>
<circle cx="16.8" cy="131.9" r="0.6" fill="#4b4bb4"/>
<circle cx="10.5" cy="142.5" r="0.8" fill="#4b4bb4"/>
<circle cx="59.1" cy="129.2" r="0.7" fill="#4b4bb4"/>
<circle cx="20.1" cy="127.7" r="0.9" fill="#4b4bb4"/>
<circle cx="65.8" cy="134.9" r="1.2" fill="#4b4bb4"/>
<circle cx="51.8" cy="124.9" r="0.6" fill="#4b4bb4"/>
<circle cx="63.4" cy="131.9" r="1.3" fill="#4b4bb4"/>
<circle cx="70.2" cy="147.6" r="0.7" fill="#4b4bb4"/>
<circle cx="14.4" cy="131.6" r="1.2" fill="#4b4bb4"/>
<circle cx="58.6" cy="125.8" r="0.9" fill="#4b4bb4"/>
<circle cx="65.8" cy="136.7" r="1.1" fill="#4b4bb4"/>
<circle cx="66.5" cy="141.7" r="1.3" fill="#4b4bb4"/>
<circle cx="10.5" cy="139.5" r="0.9" fill="#4b4bb4"/>
<circle cx="70.4" cy="142.5" r="0.6" fill="#4b4bb4"/>
<circle cx="70.0" cy="146.6" r="0.6" fill="#4b4bb4"/>
<circle cx="5.4" cy="155.3" r="0.9" fill="#4b4bb4"/>
<circle cx="70.4" cy="146.2" r="0.6" fill="#4b4bb4"/>
<circle cx="62.2" cy="128.5" r="0.5" fill="#4b4bb4"/>
<circle cx="39.6" cy="118.7" r="0.9" fill="#4b4bb4"/>
<circle cx="17.8" cy="126.3" r="1.1" fill="#4b4bb4"/>
<circle cx="71.8" cy="151.9" r="1.1" fill="#4b4bb4"/>
<circle cx="7.7" cy="143.5" r="0.7" fill="#4b4bb4"/>
<circle cx="12.4" cy="139.8" r="1.3" fill="#4b4bb4"/>
<circle cx="14.4" cy="133.1" r="0.8" fill="#4b4bb4"/>
<circle cx="36.4" cy="116.8" r="0.7" fill="#4b4bb4"/>
<circle cx="37.5" cy="121.5" r="1.1" fill="#4b4bb4"/>
<circle cx="24.2" cy="122.7" r="0.6" fill="#4b4bb4"/>
<circle cx="6.1" cy="148.8" r="0.5" fill="#4b4bb4"/>
<circle cx="34.2" cy="117.8" r="1.3" fill="#4b4bb4"/>
<circle cx="41.9" cy="121.9" r="0.9" fill="#4b4bb4"/>
<circle cx="66.8" cy="139.0" r="0.9" fill="#4b4bb4"/>
<circle cx="27.3" cy="119.3" r="0.7" fill="#4b4bb4"/>
<circle cx="22.1" cy="123.5" r="1.2" fill="#4b4bb4"/>
<circle cx="56.5" cy="123.2" r="1.0" fill="#4b4bb4"/>
<circle cx="20.6" cy="125.5" r="1.2" fill="#4b4bb4"/>
<circle cx="68.4" cy="142.8" r="1.2" fill="#4b4bb4"/>
<circle cx="15.5" cy="134.7" r="0.7" fill="#4b4bb4"/>
<circle cx="56.1" cy="123.2" r="1.1" fill="#4b4bb4"/>
<circle cx="73.9" cy="153.6" r="1.2" fill="#4b4bb4"/>
<circle cx="58.0" cy="127.0" r="0.6" fill="#4b4bb4"/>
<polyline points="22,192 6,192" fill="none" stroke="#4b4bb4" stroke-width="7.5" stroke-linecap="round" stroke-linejoin="round"/>
<polyline points="58,193 69,194" fill="none" stroke="#4b4bb4" stroke-width="7.5" stroke-linecap="round" stroke-linejoin="round"/>

<path d="M75.4,162.8 C75.9,171.2 76.9,168.6 72.0,175.7 C67.1,182.7 68.7,179.5 60.8,184.0 C52.9,188.6 57.3,186.9 48.3,189.3 C39.4,191.8 43.1,192.7 33.9,191.4 C24.7,190.1 28.1,190.9 20.7,185.5 C13.2,180.2 15.3,182.9 11.6,175.3 C7.9,167.8 9.5,171.1 9.5,162.8 C9.6,154.5 8.0,157.8 11.8,150.3 C15.6,142.9 13.5,145.5 20.9,140.4 C28.4,135.2 25.0,136.3 34.1,134.9 C43.3,133.5 39.2,134.1 48.4,136.1 C57.5,138.0 54.2,135.9 61.5,140.7 C68.9,145.6 65.8,143.3 70.4,150.6 C75.0,158.0 74.8,154.4 75.4,162.8Z" fill="#3b6fd6"/>
<path d="M73.7,162.8 C74.2,170.7 75.1,168.3 70.5,174.9 C65.9,181.6 67.3,178.5 59.8,182.8 C52.3,187.1 56.5,185.5 48.0,187.8 C39.5,190.2 43.1,191.0 34.3,189.8 C25.5,188.6 28.7,189.3 21.7,184.2 C14.6,179.2 16.6,181.8 13.1,174.6 C9.6,167.5 11.0,170.7 11.1,162.8 C11.2,154.9 9.7,158.1 13.3,151.0 C16.9,144.0 14.9,146.5 21.9,141.6 C29.0,136.8 25.8,137.8 34.5,136.5 C43.2,135.1 39.4,135.7 48.0,137.6 C56.7,139.4 53.6,137.4 60.5,142.0 C67.5,146.6 64.6,144.4 68.9,151.3 C73.3,158.2 73.2,154.9 73.7,162.8Z" fill="#30c4e4"/>
<path d="M71.8,162.8 C72.3,170.2 73.2,167.9 68.8,174.1 C64.4,180.4 65.8,177.5 58.7,181.5 C51.7,185.5 55.6,184.0 47.6,186.2 C39.6,188.3 43.0,189.1 34.7,188.0 C26.4,186.9 29.5,187.5 22.8,182.8 C16.2,178.1 18.1,180.5 14.7,173.8 C11.4,167.2 12.8,170.1 12.9,162.8 C12.9,155.5 11.5,158.4 14.9,151.8 C18.3,145.3 16.4,147.6 23.1,143.0 C29.7,138.5 26.7,139.5 34.9,138.2 C43.1,137.0 39.5,137.5 47.7,139.3 C55.8,141.0 52.9,139.1 59.4,143.4 C66.0,147.7 63.2,145.6 67.3,152.1 C71.5,158.5 71.3,155.4 71.8,162.8Z" fill="#58cc5a"/>
<path d="M69.5,162.8 C70.0,169.5 70.8,167.5 66.7,173.1 C62.7,178.8 64.0,176.2 57.4,179.8 C50.9,183.5 54.5,182.1 47.1,184.1 C39.7,186.1 42.8,186.8 35.2,185.8 C27.6,184.8 30.4,185.4 24.2,181.0 C18.1,176.7 19.8,178.9 16.8,172.9 C13.7,166.8 15.0,169.5 15.0,162.8 C15.1,156.1 13.8,158.8 16.9,152.8 C20.1,146.8 18.3,148.9 24.4,144.8 C30.6,140.6 27.8,141.5 35.4,140.4 C42.9,139.2 39.6,139.8 47.2,141.3 C54.7,142.9 52.0,141.2 58.1,145.1 C64.1,149.0 61.6,147.1 65.4,153.0 C69.2,158.9 69.1,156.1 69.5,162.8Z" fill="#f2e526"/>
<path d="M68.2,162.8 C68.6,169.1 69.3,167.2 65.5,172.5 C61.7,177.9 62.9,175.4 56.7,178.9 C50.4,182.3 53.9,181.0 46.9,182.9 C39.8,184.8 42.8,185.4 35.5,184.5 C28.2,183.5 30.9,184.1 25.1,180.0 C19.2,175.9 20.9,178.0 17.9,172.3 C15.0,166.6 16.2,169.1 16.3,162.8 C16.3,156.5 15.1,159.0 18.1,153.4 C21.1,147.7 19.4,149.7 25.3,145.8 C31.1,141.9 28.4,142.8 35.7,141.7 C42.9,140.6 39.7,141.1 46.9,142.6 C54.1,144.0 51.5,142.4 57.3,146.1 C63.0,149.8 60.6,148.0 64.2,153.6 C67.9,159.1 67.7,156.5 68.2,162.8Z" fill="#f7941d"/>
<path d="M66.8,162.8 C67.2,168.7 67.9,166.9 64.3,172.0 C60.6,177.0 61.8,174.7 55.9,177.9 C50.0,181.1 53.3,179.9 46.6,181.7 C39.9,183.4 42.7,184.1 35.8,183.2 C28.9,182.3 31.5,182.8 25.9,179.0 C20.3,175.2 21.9,177.1 19.1,171.7 C16.4,166.3 17.5,168.7 17.6,162.8 C17.6,156.9 16.4,159.3 19.3,153.9 C22.1,148.6 20.5,150.5 26.1,146.8 C31.6,143.2 29.1,144.0 35.9,142.9 C42.8,141.9 39.8,142.4 46.6,143.8 C53.5,145.2 51.0,143.7 56.4,147.1 C61.9,150.6 59.6,148.9 63.1,154.1 C66.5,159.4 66.4,156.9 66.8,162.8Z" fill="#ed1c24"/>
</g>
<clipPath id="mc1036_787"><rect x="0" y="0" width="81.2" height="252"/></clipPath>
<clipPath id="mc1036_787b"><path d="M23.9,46.5 C18.8,51.1 11.0,53.0 7.0,62.0 C3.0,71.0 9.9,67.2 10.5,76.5 C11.1,85.8 8.4,83.0 8.9,93.0 C9.4,103.0 10.7,101.0 12.2,110.0 C13.7,119.0 14.6,111.0 13.9,123.0 C13.2,135.0 11.2,132.9 10.0,150.0 C8.8,167.1 6.4,167.1 10.0,180.0 C13.6,192.9 12.4,187.9 22.0,193.0 C31.6,198.1 30.0,197.0 42.0,197.0 C54.0,197.0 53.0,198.1 62.0,193.0 C71.0,187.9 69.0,192.9 72.0,180.0 C75.0,167.1 72.2,167.1 72.0,150.0 C71.8,132.9 71.9,135.0 71.5,123.0 C71.1,111.0 70.9,122.9 70.7,110.0 C70.5,97.1 71.7,93.5 70.7,80.0 C69.7,66.5 71.3,74.0 67.3,65.0 C63.3,56.0 60.3,54.5 57.3,50.0 L52.1,39 L28.1,39 Z"/></clipPath>
<g transform="translate(1036.2,787)" clip-path="url(#mc1036_787)">
<rect x="0" y="0" width="81.2" height="252" fill="#2a2a2a"/>
<rect x="0" y="0" width="81.2" height="19" fill="#1f1f1f"/>
<rect x="0" y="0" width="81.2" height="252" filter="url(#noise)" opacity="0.10"/>
<rect x="21.5" y="0" width="3.9" height="205" fill="url(#stripe)" opacity="0.064"/>
<rect x="65.9" y="0" width="2.2" height="205" fill="url(#stripe)" opacity="0.042"/>
<rect x="13.1" y="0" width="2.3" height="205" fill="url(#stripe)" opacity="0.067"/>
<rect x="11.8" y="0" width="3.4" height="205" fill="url(#stripe)" opacity="0.041"/>
<rect x="24.2" y="0" width="3.0" height="205" fill="url(#stripe)" opacity="0.072"/>
<rect x="47.8" y="0" width="1.6" height="205" fill="url(#stripe)" opacity="0.044"/>
<rect x="13.0" y="0" width="4.5" height="205" fill="url(#stripe)" opacity="0.070"/>
<g filter="url(#mblur)">
<polygon points="42.5,200 52.9,200 58.3,254 48.7,254" fill="url(#tailg)"/>
<path d="M23.9,46.5 C18.8,51.1 11.0,53.0 7.0,62.0 C3.0,71.0 9.9,67.2 10.5,76.5 C11.1,85.8 8.4,83.0 8.9,93.0 C9.4,103.0 10.7,101.0 12.2,110.0 C13.7,119.0 14.6,111.0 13.9,123.0 C13.2,135.0 11.2,132.9 10.0,150.0 C8.8,167.1 6.4,167.1 10.0,180.0 C13.6,192.9 12.4,187.9 22.0,193.0 C31.6,198.1 30.0,197.0 42.0,197.0 C54.0,197.0 53.0,198.1 62.0,193.0 C71.0,187.9 69.0,192.9 72.0,180.0 C75.0,167.1 72.2,167.1 72.0,150.0 C71.8,132.9 71.9,135.0 71.5,123.0 C71.1,111.0 70.9,122.9 70.7,110.0 C70.5,97.1 71.7,93.5 70.7,80.0 C69.7,66.5 71.3,74.0 67.3,65.0 C63.3,56.0 60.3,54.5 57.3,50.0 L52.1,39 L28.1,39 Z" fill="url(#bodyg)"/>
<path d="M28.1,39 C29.6,31 32.9,21.9 35.9,17.4 C37.9,13.4 45.9,13.4 47.9,17.4 C50.9,21.9 50.6,31 52.1,39 Z" fill="#949494"/>
<ellipse cx="41.9" cy="33" rx="5.5" ry="4.5" fill="#b4b4b4"/>
</g>
<line x1="26.6" y1="39" x2="53.6" y2="39" stroke="#6a6a6a" stroke-width="0.9"/>
<g filter="url(#mblur2)" clip-path="url(#mc1036_787b)">
<ellipse cx="55.7" cy="178.3" rx="4.1" ry="7.7" fill="#a8a8a8" opacity="0.45"/>
<ellipse cx="26.6" cy="181.9" rx="3.4" ry="6.3" fill="#a8a8a8" opacity="0.39"/>
<ellipse cx="35.8" cy="107.1" rx="3.2" ry="6.0" fill="#ffffff" opacity="0.28"/>
<ellipse cx="56.4" cy="173.9" rx="4.8" ry="8.9" fill="#a8a8a8" opacity="0.39"/>
<ellipse cx="52.7" cy="71.8" rx="3.9" ry="7.3" fill="#ffffff" opacity="0.29"/>
<ellipse cx="23.7" cy="131.5" rx="2.7" ry="5.1" fill="#ffffff" opacity="0.40"/>
<ellipse cx="34.0" cy="71.1" rx="3.4" ry="6.3" fill="#ffffff" opacity="0.31"/>
<ellipse cx="23.3" cy="107.4" rx="2.2" ry="4.1" fill="#a8a8a8" opacity="0.49"/>
<ellipse cx="33.7" cy="161.7" rx="4.6" ry="8.6" fill="#ffffff" opacity="0.29"/>
<ellipse cx="55.7" cy="180.1" rx="3.8" ry="7.1" fill="#ffffff" opacity="0.35"/>
<ellipse cx="59.0" cy="187.5" rx="4.2" ry="8.0" fill="#ffffff" opacity="0.46"/>
<ellipse cx="32.9" cy="161.3" rx="2.4" ry="4.5" fill="#a8a8a8" opacity="0.40"/>
<ellipse cx="51.3" cy="83.6" rx="3.7" ry="7.0" fill="#a8a8a8" opacity="0.40"/>
<ellipse cx="32.0" cy="163.1" rx="3.0" ry="5.5" fill="#ffffff" opacity="0.29"/>
<ellipse cx="49.3" cy="68.3" rx="2.6" ry="4.9" fill="#ffffff" opacity="0.41"/>
<ellipse cx="42.5" cy="134.7" rx="2.1" ry="4.0" fill="#ffffff" opacity="0.34"/>
<ellipse cx="17.9" cy="51.5" rx="4.8" ry="9.0" fill="#ffffff" opacity="0.33"/>
<ellipse cx="27.3" cy="143.0" rx="2.2" ry="4.2" fill="#ffffff" opacity="0.34"/>
<ellipse cx="57.2" cy="51.9" rx="2.9" ry="5.5" fill="#ffffff" opacity="0.49"/>
<ellipse cx="40.4" cy="124.0" rx="3.9" ry="7.3" fill="#ffffff" opacity="0.26"/>
<ellipse cx="39.6" cy="191.2" rx="4.1" ry="7.6" fill="#ffffff" opacity="0.42"/>
<ellipse cx="58.0" cy="90.8" rx="3.6" ry="6.8" fill="#ffffff" opacity="0.31"/>
<ellipse cx="28.2" cy="82.4" rx="3.0" ry="5.6" fill="#ffffff" opacity="0.35"/>
<ellipse cx="17.6" cy="167.8" rx="3.7" ry="6.9" fill="#ffffff" opacity="0.44"/>
<ellipse cx="23.1" cy="125.0" rx="3.6" ry="6.7" fill="#ffffff" opacity="0.32"/>
<ellipse cx="36.1" cy="72.1" rx="4.4" ry="8.3" fill="#ffffff" opacity="0.46"/>
<ellipse cx="25.9" cy="79" rx="4" ry="3.4" fill="#9c9c9c" opacity="0.7"/>
<ellipse cx="57.9" cy="76" rx="4" ry="3.4" fill="#9c9c9c" opacity="0.7"/>
</g>
<g clip-path="url(#mc1036_787b)"><rect x="0" y="0" width="81.2" height="252" filter="url(#fur)" opacity="0.5"/></g>
<circle cx="27" cy="100" r="2.2" fill="#5a55b8" opacity="0.8"/><circle cx="30" cy="103" r="1.8" fill="#5a55b8" opacity="0.8"/><circle cx="33" cy="99" r="1.2" fill="#5a55b8" opacity="0.8"/><circle cx="37" cy="101" r="1" fill="#5a55b8" opacity="0.8"/><circle cx="41" cy="98" r="1" fill="#5a55b8" opacity="0.8"/><circle cx="45" cy="100" r="1.2" fill="#5a55b8" opacity="0.8"/><circle cx="43" cy="110" r="1.4" fill="#5a55b8" opacity="0.8"/><circle cx="38" cy="95" r="0.8" fill="#5a55b8" opacity="0.8"/><circle cx="48" cy="97" r="0.8" fill="#5a55b8" opacity="0.8"/><circle cx="29" cy="96" r="1" fill="#5a55b8" opacity="0.8"/><circle cx="35" cy="105" r="0.9" fill="#5a55b8" opacity="0.8"/><circle cx="26" cy="118" r="0.8" fill="#5a55b8" opacity="0.8"/><circle cx="40" cy="120" r="0.8" fill="#5a55b8" opacity="0.8"/><path d="M73.2,164.5 C73.0,172.0 73.2,168.4 71.4,175.5 C69.5,182.7 71.4,180.0 67.7,186.0 C64.1,192.0 65.3,188.3 60.4,193.5 C55.6,198.7 58.9,197.8 53.3,201.6 C47.7,205.4 50.2,204.0 43.6,204.9 C37.0,205.7 39.8,206.1 33.5,204.2 C27.2,202.3 30.5,202.5 24.7,199.2 C18.8,195.9 20.8,199.0 15.9,194.4 C11.0,189.8 13.2,191.8 10.0,185.5 C6.8,179.1 8.7,182.3 6.2,175.4 C3.7,168.4 3.3,172.0 2.4,164.5 C1.6,157.0 1.0,159.6 3.8,152.8 C6.5,146.0 7.0,150.5 10.8,144.1 C14.6,137.7 10.7,138.9 15.1,133.6 C19.5,128.3 17.8,130.8 24.0,128.2 C30.2,125.6 27.2,126.5 33.6,125.9 C40.1,125.2 36.8,125.6 43.3,126.2 C49.8,126.9 47.2,125.1 53.1,127.9 C59.0,130.8 56.0,129.8 61.0,134.8 C66.0,139.7 64.3,136.6 68.1,142.7 C71.8,148.9 70.4,145.9 72.1,153.2 C73.9,160.4 73.5,157.0 73.2,164.5Z" fill="#4b4bb4"/>
<path d="M24.5,182 Q40.5,196 42.0,204 L51.0,204 Q52.5,196 68.5,182 Z" fill="#4b4bb4"/>
<circle cx="71.3" cy="155.7" r="1.1" fill="#4b4bb4"/>
<circle cx="15.4" cy="136.7" r="0.6" fill="#4b4bb4"/>
<circle cx="26.9" cy="125.2" r="0.6" fill="#4b4bb4"/>
<circle cx="8.3" cy="148.8" r="0.5" fill="#4b4bb4"/>
<circle cx="15.9" cy="137.6" r="0.9" fill="#4b4bb4"/>
<circle cx="12.4" cy="138.9" r="1.1" fill="#4b4bb4"/>
<circle cx="30.2" cy="125.6" r="1.2" fill="#4b4bb4"/>
<circle cx="16.8" cy="134.1" r="1.3" fill="#4b4bb4"/>
<circle cx="49.6" cy="128.2" r="0.7" fill="#4b4bb4"/>
<circle cx="12.7" cy="135.6" r="1.2" fill="#4b4bb4"/>
<circle cx="41.3" cy="126.0" r="0.9" fill="#4b4bb4"/>
<circle cx="10.3" cy="143.8" r="0.6" fill="#4b4bb4"/>
<circle cx="68.3" cy="149.0" r="1.1" fill="#4b4bb4"/>
<circle cx="7.6" cy="147.6" r="1.3" fill="#4b4bb4"/>
<circle cx="44.7" cy="124.4" r="0.7" fill="#4b4bb4"/>
<circle cx="43.3" cy="125.7" r="1.2" fill="#4b4bb4"/>
<circle cx="33.0" cy="127.5" r="0.9" fill="#4b4bb4"/>
<circle cx="5.4" cy="152.9" r="0.9" fill="#4b4bb4"/>
<circle cx="44.8" cy="126.8" r="0.8" fill="#4b4bb4"/>
<circle cx="46.1" cy="126.4" r="0.9" fill="#4b4bb4"/>
<circle cx="22.8" cy="128.5" r="0.8" fill="#4b4bb4"/>
<circle cx="56.1" cy="129.9" r="1.3" fill="#4b4bb4"/>
<circle cx="20.3" cy="131.8" r="0.8" fill="#4b4bb4"/>
<circle cx="63.4" cy="139.3" r="1.2" fill="#4b4bb4"/>
<circle cx="71.4" cy="152.4" r="0.8" fill="#4b4bb4"/>
<circle cx="50.1" cy="129.8" r="1.2" fill="#4b4bb4"/>
<circle cx="49.9" cy="127.7" r="0.7" fill="#4b4bb4"/>
<circle cx="67.0" cy="144.0" r="1.1" fill="#4b4bb4"/>
<circle cx="22.4" cy="129.8" r="0.8" fill="#4b4bb4"/>
<circle cx="47.2" cy="124.7" r="0.8" fill="#4b4bb4"/>
<circle cx="8.6" cy="143.0" r="1.0" fill="#4b4bb4"/>
<circle cx="43.1" cy="122.9" r="0.5" fill="#4b4bb4"/>
<circle cx="37.4" cy="125.7" r="0.7" fill="#4b4bb4"/>
<circle cx="34.7" cy="123.2" r="0.7" fill="#4b4bb4"/>
<circle cx="3.3" cy="156.7" r="0.9" fill="#4b4bb4"/>
<circle cx="10.1" cy="145.3" r="0.9" fill="#4b4bb4"/>
<circle cx="68.3" cy="143.0" r="1.1" fill="#4b4bb4"/>
<circle cx="17.5" cy="134.3" r="1.1" fill="#4b4bb4"/>
<circle cx="64.3" cy="137.5" r="0.9" fill="#4b4bb4"/>
<circle cx="12.3" cy="138.2" r="0.9" fill="#4b4bb4"/>
<circle cx="59.9" cy="130.9" r="0.6" fill="#4b4bb4"/>
<circle cx="19.1" cy="131.0" r="0.7" fill="#4b4bb4"/>
<circle cx="70.1" cy="150.3" r="0.5" fill="#4b4bb4"/>
<circle cx="19.9" cy="131.1" r="0.9" fill="#4b4bb4"/>
<circle cx="71.3" cy="153.4" r="0.8" fill="#4b4bb4"/>
<circle cx="27.2" cy="129.1" r="1.0" fill="#4b4bb4"/>
<circle cx="21.6" cy="129.2" r="0.7" fill="#4b4bb4"/>
<circle cx="32.9" cy="126.3" r="1.0" fill="#4b4bb4"/>
<circle cx="8.2" cy="148.6" r="1.0" fill="#4b4bb4"/>
<circle cx="19.2" cy="131.2" r="1.0" fill="#4b4bb4"/>
<circle cx="40.9" cy="123.9" r="1.0" fill="#4b4bb4"/>
<circle cx="7.2" cy="154.5" r="0.8" fill="#4b4bb4"/>
<circle cx="72.0" cy="155.2" r="1.1" fill="#4b4bb4"/>
<circle cx="71.8" cy="153.7" r="0.8" fill="#4b4bb4"/>
<circle cx="18.8" cy="134.1" r="1.2" fill="#4b4bb4"/>
<circle cx="52.3" cy="130.9" r="0.9" fill="#4b4bb4"/>
<circle cx="42.7" cy="127.6" r="0.7" fill="#4b4bb4"/>
<circle cx="68.9" cy="144.5" r="0.7" fill="#4b4bb4"/>
<circle cx="53.4" cy="130.1" r="1.3" fill="#4b4bb4"/>
<circle cx="14.6" cy="138.1" r="1.2" fill="#4b4bb4"/>
<polyline points="20,187 8,187" fill="none" stroke="#4b4bb4" stroke-width="7.5" stroke-linecap="round" stroke-linejoin="round"/>
<polyline points="62,188 78,188" fill="none" stroke="#4b4bb4" stroke-width="7.5" stroke-linecap="round" stroke-linejoin="round"/>

<path d="M72.4,161.0 C72.4,169.7 74.0,166.4 70.2,174.2 C66.5,181.9 68.3,178.8 61.2,184.3 C54.1,189.8 57.8,188.6 49.0,190.7 C40.3,192.9 43.5,193.2 35.0,190.8 C26.4,188.4 30.0,189.4 23.4,183.6 C16.8,177.8 19.8,181.0 15.3,173.5 C10.7,165.9 10.0,169.4 9.7,161.0 C9.5,152.6 10.1,155.9 14.6,148.2 C19.0,140.6 16.3,144.1 23.1,138.0 C29.8,132.0 26.1,132.2 34.7,130.1 C43.3,128.0 39.8,129.5 48.9,131.6 C58.1,133.8 55.1,131.2 62.1,136.6 C69.1,142.0 66.6,139.8 70.0,147.9 C73.5,156.1 72.3,152.3 72.4,161.0Z" fill="#3b6fd6"/>
<path d="M70.8,161.0 C70.9,169.3 72.3,166.1 68.8,173.5 C65.3,180.8 66.9,177.8 60.2,183.1 C53.5,188.3 56.9,187.1 48.7,189.2 C40.4,191.2 43.4,191.5 35.3,189.2 C27.2,187.0 30.6,187.9 24.3,182.4 C18.1,176.9 20.9,179.9 16.6,172.8 C12.3,165.7 11.6,169.0 11.4,161.0 C11.2,153.0 11.8,156.1 16.0,148.9 C20.2,141.6 17.7,145.0 24.0,139.2 C30.4,133.5 26.9,133.7 35.1,131.7 C43.3,129.7 39.9,131.1 48.6,133.2 C57.2,135.3 54.4,132.7 61.1,137.9 C67.8,143.0 65.4,140.9 68.6,148.6 C71.9,156.3 70.8,152.7 70.8,161.0Z" fill="#30c4e4"/>
<path d="M69.1,161.0 C69.1,168.8 70.5,165.8 67.2,172.7 C63.8,179.6 65.4,176.8 59.1,181.7 C52.8,186.6 56.0,185.5 48.3,187.4 C40.5,189.3 43.3,189.6 35.7,187.5 C28.1,185.3 31.3,186.2 25.4,181.0 C19.6,175.9 22.2,178.7 18.2,172.1 C14.1,165.4 13.5,168.5 13.3,161.0 C13.1,153.5 13.6,156.5 17.6,149.7 C21.5,142.9 19.1,146.0 25.1,140.6 C31.1,135.2 27.8,135.5 35.5,133.6 C43.2,131.7 40.0,133.0 48.2,134.9 C56.3,136.9 53.6,134.5 59.9,139.3 C66.2,144.2 63.9,142.2 67.0,149.4 C70.0,156.6 69.0,153.2 69.1,161.0Z" fill="#58cc5a"/>
<path d="M66.9,161.0 C67.0,168.1 68.2,165.4 65.2,171.7 C62.1,178.0 63.6,175.5 57.8,180.0 C52.0,184.5 54.9,183.5 47.8,185.2 C40.6,187.0 43.2,187.2 36.2,185.3 C29.2,183.3 32.1,184.1 26.7,179.4 C21.3,174.7 23.8,177.3 20.1,171.2 C16.3,165.0 15.7,167.9 15.5,161.0 C15.3,154.1 15.8,156.8 19.5,150.6 C23.1,144.3 21.0,147.2 26.5,142.3 C32.0,137.4 28.9,137.6 36.0,135.8 C43.1,134.1 40.2,135.3 47.7,137.1 C55.2,138.9 52.7,136.7 58.5,141.1 C64.3,145.5 62.2,143.7 65.0,150.4 C67.8,157.0 66.9,153.9 66.9,161.0Z" fill="#f2e526"/>
<path d="M65.7,161.0 C65.7,167.7 66.9,165.2 64.0,171.2 C61.1,177.1 62.5,174.7 57.0,179.0 C51.4,183.2 54.3,182.3 47.5,184.0 C40.7,185.6 43.2,185.8 36.5,184.0 C29.9,182.2 32.6,182.9 27.5,178.4 C22.4,174.0 24.7,176.4 21.2,170.6 C17.6,164.8 17.1,167.5 16.9,161.0 C16.7,154.5 17.2,157.0 20.6,151.1 C24.1,145.2 22.0,147.9 27.3,143.3 C32.5,138.6 29.6,138.8 36.3,137.2 C43.0,135.5 40.3,136.7 47.4,138.4 C54.5,140.0 52.2,138.0 57.7,142.2 C63.1,146.4 61.2,144.6 63.8,150.9 C66.5,157.2 65.6,154.3 65.7,161.0Z" fill="#f7941d"/>
<path d="M64.4,161.0 C64.4,167.4 65.6,164.9 62.8,170.6 C60.1,176.2 61.4,173.9 56.2,178.0 C50.9,182.0 53.6,181.1 47.2,182.7 C40.7,184.3 43.1,184.5 36.8,182.7 C30.5,181.0 33.1,181.7 28.3,177.5 C23.4,173.2 25.6,175.6 22.3,170.1 C18.9,164.6 18.4,167.1 18.2,161.0 C18.1,154.9 18.5,157.3 21.8,151.7 C25.0,146.1 23.1,148.7 28.0,144.3 C33.0,139.9 30.3,140.0 36.6,138.5 C43.0,136.9 40.4,138.0 47.1,139.6 C53.8,141.2 51.6,139.3 56.8,143.2 C62.0,147.2 60.1,145.6 62.7,151.5 C65.2,157.4 64.4,154.6 64.4,161.0Z" fill="#ed1c24"/>
</g>
<clipPath id="mc1143_787"><rect x="0" y="0" width="81.2" height="252"/></clipPath>
<clipPath id="mc1143_787b"><path d="M23.7,46.5 C19.7,51.5 13.8,53.0 10.3,63.0 C6.8,73.0 12.0,65.9 12.0,80.0 C12.0,94.1 10.8,97.1 10.3,110.0 C9.8,122.9 10.7,111.0 10.3,123.0 C9.9,135.0 9.1,132.9 9.0,150.0 C8.9,167.1 6.1,167.1 10.0,180.0 C13.9,192.9 12.4,187.9 22.0,193.0 C31.6,198.1 30.0,197.0 42.0,197.0 C54.0,197.0 53.0,198.1 62.0,193.0 C71.0,187.9 69.0,192.9 72.0,180.0 C75.0,167.1 71.9,167.1 72.0,150.0 C72.1,132.9 72.1,142.1 72.2,123.0 C72.3,104.0 73.2,103.5 72.2,86.5 C71.2,69.5 73.3,78.5 68.8,66.5 C64.3,54.5 60.6,52.5 57.1,46.5 L53.3,39 L28.4,39 Z"/></clipPath>
<g transform="translate(1143.4,787)" clip-path="url(#mc1143_787)">
<rect x="0" y="0" width="81.2" height="252" fill="#2a2a2a"/>
<rect x="0" y="0" width="81.2" height="19" fill="#1f1f1f"/>
<rect x="0" y="0" width="81.2" height="252" filter="url(#noise)" opacity="0.10"/>
<rect x="10.0" y="0" width="4.0" height="205" fill="url(#stripe)" opacity="0.063"/>
<rect x="72.7" y="0" width="2.4" height="205" fill="url(#stripe)" opacity="0.043"/>
<rect x="57.2" y="0" width="3.8" height="205" fill="url(#stripe)" opacity="0.045"/>
<rect x="53.5" y="0" width="2.9" height="205" fill="url(#stripe)" opacity="0.069"/>
<rect x="10.9" y="0" width="2.3" height="205" fill="url(#stripe)" opacity="0.075"/>
<rect x="28.9" y="0" width="2.4" height="205" fill="url(#stripe)" opacity="0.070"/>
<rect x="49.5" y="0" width="2.0" height="205" fill="url(#stripe)" opacity="0.058"/>
<g filter="url(#mblur)">
<polygon points="36.4,200 46.0,200 49.099999999999994,254 40.900000000000006,254" fill="url(#tailg)"/>
<polyline points="2,192 12,190" fill="none" stroke="#d4d4d4" stroke-width="8.5" stroke-linecap="round" stroke-linejoin="round"/>
<polyline points="80,204 84,200" fill="none" stroke="#d4d4d4" stroke-width="8.5" stroke-linecap="round" stroke-linejoin="round"/>
<path d="M23.7,46.5 C19.7,51.5 13.8,53.0 10.3,63.0 C6.8,73.0 12.0,65.9 12.0,80.0 C12.0,94.1 10.8,97.1 10.3,110.0 C9.8,122.9 10.7,111.0 10.3,123.0 C9.9,135.0 9.1,132.9 9.0,150.0 C8.9,167.1 6.1,167.1 10.0,180.0 C13.9,192.9 12.4,187.9 22.0,193.0 C31.6,198.1 30.0,197.0 42.0,197.0 C54.0,197.0 53.0,198.1 62.0,193.0 C71.0,187.9 69.0,192.9 72.0,180.0 C75.0,167.1 71.9,167.1 72.0,150.0 C72.1,132.9 72.1,142.1 72.2,123.0 C72.3,104.0 73.2,103.5 72.2,86.5 C71.2,69.5 73.3,78.5 68.8,66.5 C64.3,54.5 60.6,52.5 57.1,46.5 L53.3,39 L28.4,39 Z" fill="url(#bodyg)"/>
<path d="M28.4,39 C29.9,31 32.3,22.7 35.3,18.2 C37.3,14.2 45.3,14.2 47.3,18.2 C50.3,22.7 51.8,31 53.3,39 Z" fill="#949494"/>
<ellipse cx="41.3" cy="33" rx="5.5" ry="4.5" fill="#b4b4b4"/>
</g>
<line x1="26.9" y1="39" x2="54.8" y2="39" stroke="#6a6a6a" stroke-width="0.9"/>
<g filter="url(#mblur2)" clip-path="url(#mc1143_787b)">
<ellipse cx="49.0" cy="76.4" rx="3.8" ry="7.2" fill="#ffffff" opacity="0.33"/>
<ellipse cx="19.3" cy="82.5" rx="4.7" ry="8.9" fill="#ffffff" opacity="0.50"/>
<ellipse cx="37.5" cy="144.6" rx="4.4" ry="8.3" fill="#a8a8a8" opacity="0.28"/>
<ellipse cx="45.2" cy="148.6" rx="2.5" ry="4.7" fill="#ffffff" opacity="0.47"/>
<ellipse cx="41.3" cy="80.9" rx="3.3" ry="6.1" fill="#ffffff" opacity="0.45"/>
<ellipse cx="40.6" cy="66.8" rx="4.3" ry="8.0" fill="#ffffff" opacity="0.32"/>
<ellipse cx="16.4" cy="165.0" rx="2.3" ry="4.3" fill="#ffffff" opacity="0.27"/>
<ellipse cx="39.6" cy="156.5" rx="3.5" ry="6.6" fill="#ffffff" opacity="0.37"/>
<ellipse cx="37.4" cy="142.7" rx="2.3" ry="4.2" fill="#ffffff" opacity="0.31"/>
<ellipse cx="59.3" cy="195.6" rx="2.2" ry="4.1" fill="#ffffff" opacity="0.43"/>
<ellipse cx="44.3" cy="53.9" rx="4.0" ry="7.5" fill="#a8a8a8" opacity="0.36"/>
<ellipse cx="32.8" cy="138.7" rx="4.6" ry="8.7" fill="#ffffff" opacity="0.33"/>
<ellipse cx="24.7" cy="147.8" rx="3.3" ry="6.2" fill="#ffffff" opacity="0.35"/>
<ellipse cx="16.8" cy="99.1" rx="4.8" ry="8.9" fill="#a8a8a8" opacity="0.32"/>
<ellipse cx="62.9" cy="106.2" rx="2.7" ry="5.1" fill="#ffffff" opacity="0.29"/>
<ellipse cx="25.2" cy="86.4" rx="4.4" ry="8.3" fill="#ffffff" opacity="0.31"/>
<ellipse cx="45.9" cy="192.2" rx="2.8" ry="5.3" fill="#a8a8a8" opacity="0.34"/>
<ellipse cx="43.7" cy="142.8" rx="4.6" ry="8.7" fill="#a8a8a8" opacity="0.38"/>
<ellipse cx="58.1" cy="107.4" rx="3.1" ry="5.8" fill="#a8a8a8" opacity="0.39"/>
<ellipse cx="54.6" cy="99.4" rx="4.6" ry="8.6" fill="#a8a8a8" opacity="0.31"/>
<ellipse cx="62.8" cy="123.2" rx="3.0" ry="5.5" fill="#ffffff" opacity="0.28"/>
<ellipse cx="25.3" cy="157.6" rx="2.4" ry="4.5" fill="#ffffff" opacity="0.36"/>
<ellipse cx="42.9" cy="109.6" rx="4.2" ry="7.9" fill="#ffffff" opacity="0.34"/>
<ellipse cx="36.8" cy="70.8" rx="2.6" ry="4.9" fill="#ffffff" opacity="0.43"/>
<ellipse cx="22.5" cy="153.9" rx="2.6" ry="4.9" fill="#a8a8a8" opacity="0.41"/>
<ellipse cx="33.1" cy="194.7" rx="3.8" ry="7.2" fill="#a8a8a8" opacity="0.26"/>
<ellipse cx="25.299999999999997" cy="79" rx="4" ry="3.4" fill="#9c9c9c" opacity="0.7"/>
<ellipse cx="57.3" cy="76" rx="4" ry="3.4" fill="#9c9c9c" opacity="0.7"/>
</g>
<g clip-path="url(#mc1143_787b)"><rect x="0" y="0" width="81.2" height="252" filter="url(#fur)" opacity="0.5"/></g>
<circle cx="64" cy="122" r="2.2" fill="#5a55b8" opacity="0.85"/><circle cx="66" cy="126" r="1.6" fill="#5a55b8" opacity="0.85"/><circle cx="62" cy="127" r="1.2" fill="#5a55b8" opacity="0.85"/><circle cx="68" cy="120" r="1" fill="#5a55b8" opacity="0.85"/><path d="M73.2,166.0 C73.5,173.1 73.6,169.7 72.1,176.7 C70.6,183.7 72.3,181.2 68.7,187.0 C65.2,192.8 66.5,189.8 61.5,194.2 C56.5,198.5 59.3,197.2 53.8,200.0 C48.2,202.8 50.9,201.6 44.8,202.6 C38.7,203.5 41.6,203.7 35.6,202.7 C29.6,201.7 32.4,202.4 26.8,199.5 C21.3,196.7 23.8,198.5 18.9,194.1 C14.1,189.8 16.1,192.3 12.2,186.6 C8.4,180.9 9.3,183.9 7.4,177.0 C5.5,170.2 6.2,173.2 6.6,166.0 C7.0,158.8 6.6,162.2 8.6,155.4 C10.5,148.6 9.2,151.7 12.4,145.6 C15.6,139.4 13.5,141.5 18.2,137.0 C22.9,132.4 20.8,134.3 26.6,131.8 C32.3,129.3 29.4,130.7 35.6,129.3 C41.8,128.0 38.9,127.0 45.0,127.6 C51.2,128.2 48.6,127.7 54.1,131.2 C59.6,134.6 57.0,133.0 61.4,138.0 C65.9,142.9 64.1,140.1 67.4,146.0 C70.7,151.9 69.3,148.9 71.3,155.6 C73.2,162.2 72.9,158.9 73.2,166.0Z" fill="#4b4bb4"/><path d="M20,183 Q36,197 37.5,205 L46.5,205 Q48,197 64,183 Z" fill="#4b4bb4"/><polyline points="22,192 12,195" fill="none" stroke="#4b4bb4" stroke-width="7" stroke-linecap="round"/><path d="M21.9,142.5 C22.8,138.7 23.2,139.8 25.0,139.0 C26.8,138.2 26.4,137.4 28.5,139.5 C30.6,141.6 28.9,145.3 33.0,146.8 C37.1,148.3 36.5,145.5 43.7,145.0 C50.9,144.5 53.7,143.3 60.0,145.0 C66.3,146.7 65.6,144.8 67.5,151.4 C69.4,158.0 68.7,161.9 67.0,169.8 C65.3,177.7 64.5,176.8 61.0,181.0 C57.5,185.2 58.6,185.4 54.0,185.5 C49.4,185.6 49.6,184.4 43.7,181.5 C37.8,178.6 37.4,178.8 32.0,174.8 C26.6,170.8 26.4,172.3 23.6,166.5 C20.8,160.7 22.1,159.5 21.6,153.1 C21.1,146.7 21.0,146.3 21.9,142.5Z" fill="#3b6fd6" stroke="#3b6fd6" stroke-width="14" stroke-linejoin="round"/><path d="M21.9,142.5 C22.8,138.7 23.2,139.8 25.0,139.0 C26.8,138.2 26.4,137.4 28.5,139.5 C30.6,141.6 28.9,145.3 33.0,146.8 C37.1,148.3 36.5,145.5 43.7,145.0 C50.9,144.5 53.7,143.3 60.0,145.0 C66.3,146.7 65.6,144.8 67.5,151.4 C69.4,158.0 68.7,161.9 67.0,169.8 C65.3,177.7 64.5,176.8 61.0,181.0 C57.5,185.2 58.6,185.4 54.0,185.5 C49.4,185.6 49.6,184.4 43.7,181.5 C37.8,178.6 37.4,178.8 32.0,174.8 C26.6,170.8 26.4,172.3 23.6,166.5 C20.8,160.7 22.1,159.5 21.6,153.1 C21.1,146.7 21.0,146.3 21.9,142.5Z" fill="#30c4e4" stroke="#30c4e4" stroke-width="11.4" stroke-linejoin="round"/><path d="M21.9,142.5 C22.8,138.7 23.2,139.8 25.0,139.0 C26.8,138.2 26.4,137.4 28.5,139.5 C30.6,141.6 28.9,145.3 33.0,146.8 C37.1,148.3 36.5,145.5 43.7,145.0 C50.9,144.5 53.7,143.3 60.0,145.0 C66.3,146.7 65.6,144.8 67.5,151.4 C69.4,158.0 68.7,161.9 67.0,169.8 C65.3,177.7 64.5,176.8 61.0,181.0 C57.5,185.2 58.6,185.4 54.0,185.5 C49.4,185.6 49.6,184.4 43.7,181.5 C37.8,178.6 37.4,178.8 32.0,174.8 C26.6,170.8 26.4,172.3 23.6,166.5 C20.8,160.7 22.1,159.5 21.6,153.1 C21.1,146.7 21.0,146.3 21.9,142.5Z" fill="#58cc5a" stroke="#58cc5a" stroke-width="8.4" stroke-linejoin="round"/><path d="M21.9,142.5 C22.8,138.7 23.2,139.8 25.0,139.0 C26.8,138.2 26.4,137.4 28.5,139.5 C30.6,141.6 28.9,145.3 33.0,146.8 C37.1,148.3 36.5,145.5 43.7,145.0 C50.9,144.5 53.7,143.3 60.0,145.0 C66.3,146.7 65.6,144.8 67.5,151.4 C69.4,158.0 68.7,161.9 67.0,169.8 C65.3,177.7 64.5,176.8 61.0,181.0 C57.5,185.2 58.6,185.4 54.0,185.5 C49.4,185.6 49.6,184.4 43.7,181.5 C37.8,178.6 37.4,178.8 32.0,174.8 C26.6,170.8 26.4,172.3 23.6,166.5 C20.8,160.7 22.1,159.5 21.6,153.1 C21.1,146.7 21.0,146.3 21.9,142.5Z" fill="#f2e526" stroke="#f2e526" stroke-width="4.4" stroke-linejoin="round"/><path d="M21.9,142.5 C22.8,138.7 23.2,139.8 25.0,139.0 C26.8,138.2 26.4,137.4 28.5,139.5 C30.6,141.6 28.9,145.3 33.0,146.8 C37.1,148.3 36.5,145.5 43.7,145.0 C50.9,144.5 53.7,143.3 60.0,145.0 C66.3,146.7 65.6,144.8 67.5,151.4 C69.4,158.0 68.7,161.9 67.0,169.8 C65.3,177.7 64.5,176.8 61.0,181.0 C57.5,185.2 58.6,185.4 54.0,185.5 C49.4,185.6 49.6,184.4 43.7,181.5 C37.8,178.6 37.4,178.8 32.0,174.8 C26.6,170.8 26.4,172.3 23.6,166.5 C20.8,160.7 22.1,159.5 21.6,153.1 C21.1,146.7 21.0,146.3 21.9,142.5Z" fill="#f7941d" stroke="#f7941d" stroke-width="2.2" stroke-linejoin="round"/><path d="M21.9,142.5 C22.8,138.7 23.2,139.8 25.0,139.0 C26.8,138.2 26.4,137.4 28.5,139.5 C30.6,141.6 28.9,145.3 33.0,146.8 C37.1,148.3 36.5,145.5 43.7,145.0 C50.9,144.5 53.7,143.3 60.0,145.0 C66.3,146.7 65.6,144.8 67.5,151.4 C69.4,158.0 68.7,161.9 67.0,169.8 C65.3,177.7 64.5,176.8 61.0,181.0 C57.5,185.2 58.6,185.4 54.0,185.5 C49.4,185.6 49.6,184.4 43.7,181.5 C37.8,178.6 37.4,178.8 32.0,174.8 C26.6,170.8 26.4,172.3 23.6,166.5 C20.8,160.7 22.1,159.5 21.6,153.1 C21.1,146.7 21.0,146.3 21.9,142.5Z" fill="#ed1c24"/>
</g>
<clipPath id="mc820_1057"><rect x="0" y="0" width="81.2" height="252"/></clipPath>
<clipPath id="mc820_1057b"><path d="M23.4,47.6 C20.4,52.1 18.2,51.2 13.4,62.7 C8.6,74.2 8.5,74.0 7.5,86.0 C6.5,98.0 9.2,91.8 10.0,102.8 C10.8,113.8 11.2,108.3 10.0,122.5 C8.8,136.7 7.2,129.8 6.0,150.0 C4.8,170.2 1.2,175.0 6.0,190.0 C10.8,205.0 11.8,195.8 22.0,200.0 C32.2,204.2 28.6,204.0 40.0,204.0 C51.4,204.0 51.0,204.2 60.0,200.0 C69.0,195.8 67.0,205.0 70.0,190.0 C73.0,175.0 70.5,170.2 70.0,150.0 C69.5,129.8 69.5,134.7 68.5,122.5 C67.5,110.3 66.8,120.4 66.8,109.4 C66.8,98.5 69.0,97.0 68.5,86.0 C68.0,75.0 68.7,84.2 65.2,72.7 C61.7,61.2 59.3,55.1 56.8,47.6 L53.8,40 L28.9,40 Z"/></clipPath>
<g transform="translate(820,1057.5)" clip-path="url(#mc820_1057)">
<rect x="0" y="0" width="81.2" height="252" fill="#2a2a2a"/>
<rect x="0" y="0" width="81.2" height="19" fill="#1f1f1f"/>
<rect x="0" y="0" width="81.2" height="252" filter="url(#noise)" opacity="0.10"/>
<rect x="74.6" y="0" width="1.5" height="205" fill="url(#stripe)" opacity="0.067"/>
<rect x="13.9" y="0" width="5.0" height="205" fill="url(#stripe)" opacity="0.031"/>
<rect x="68.1" y="0" width="3.9" height="205" fill="url(#stripe)" opacity="0.073"/>
<rect x="77.2" y="0" width="2.3" height="205" fill="url(#stripe)" opacity="0.047"/>
<rect x="55.3" y="0" width="2.5" height="205" fill="url(#stripe)" opacity="0.043"/>
<rect x="19.2" y="0" width="4.5" height="205" fill="url(#stripe)" opacity="0.074"/>
<rect x="62.0" y="0" width="2.3" height="205" fill="url(#stripe)" opacity="0.076"/>
<g filter="url(#mblur)">
<polygon points="34.5,206 44.1,206 43.8,254 34.800000000000004,254" fill="url(#tailg)"/>
<path d="M23.4,47.6 C20.4,52.1 18.2,51.2 13.4,62.7 C8.6,74.2 8.5,74.0 7.5,86.0 C6.5,98.0 9.2,91.8 10.0,102.8 C10.8,113.8 11.2,108.3 10.0,122.5 C8.8,136.7 7.2,129.8 6.0,150.0 C4.8,170.2 1.2,175.0 6.0,190.0 C10.8,205.0 11.8,195.8 22.0,200.0 C32.2,204.2 28.6,204.0 40.0,204.0 C51.4,204.0 51.0,204.2 60.0,200.0 C69.0,195.8 67.0,205.0 70.0,190.0 C73.0,175.0 70.5,170.2 70.0,150.0 C69.5,129.8 69.5,134.7 68.5,122.5 C67.5,110.3 66.8,120.4 66.8,109.4 C66.8,98.5 69.0,97.0 68.5,86.0 C68.0,75.0 68.7,84.2 65.2,72.7 C61.7,61.2 59.3,55.1 56.8,47.6 L53.8,40 L28.9,40 Z" fill="url(#bodyg)"/>
<path d="M28.9,40 C30.4,32 35.3,24.7 38.3,20.2 C40.3,16.2 48.3,16.2 50.3,20.2 C53.3,24.7 52.3,32 53.8,40 Z" fill="#949494"/>
<ellipse cx="44.3" cy="34" rx="5.5" ry="4.5" fill="#b4b4b4"/>
</g>
<line x1="27.4" y1="40" x2="55.3" y2="40" stroke="#6a6a6a" stroke-width="0.9"/>
<g filter="url(#mblur2)" clip-path="url(#mc820_1057b)">
<ellipse cx="38.6" cy="87.4" rx="3.3" ry="6.1" fill="#ffffff" opacity="0.27"/>
<ellipse cx="41.4" cy="107.1" rx="3.6" ry="6.7" fill="#a8a8a8" opacity="0.41"/>
<ellipse cx="33.1" cy="184.1" rx="4.8" ry="9.0" fill="#ffffff" opacity="0.49"/>
<ellipse cx="13.0" cy="73.5" rx="2.5" ry="4.7" fill="#a8a8a8" opacity="0.42"/>
<ellipse cx="49.4" cy="95.9" rx="3.4" ry="6.3" fill="#a8a8a8" opacity="0.27"/>
<ellipse cx="18.0" cy="59.3" rx="3.3" ry="6.2" fill="#a8a8a8" opacity="0.39"/>
<ellipse cx="32.9" cy="128.8" rx="2.5" ry="4.7" fill="#a8a8a8" opacity="0.34"/>
<ellipse cx="24.2" cy="99.6" rx="4.3" ry="8.1" fill="#ffffff" opacity="0.48"/>
<ellipse cx="29.5" cy="119.6" rx="2.2" ry="4.1" fill="#a8a8a8" opacity="0.45"/>
<ellipse cx="36.7" cy="69.7" rx="3.4" ry="6.3" fill="#ffffff" opacity="0.46"/>
<ellipse cx="60.3" cy="165.4" rx="2.8" ry="5.3" fill="#ffffff" opacity="0.47"/>
<ellipse cx="61.1" cy="76.2" rx="3.4" ry="6.4" fill="#ffffff" opacity="0.49"/>
<ellipse cx="14.2" cy="61.4" rx="4.4" ry="8.2" fill="#a8a8a8" opacity="0.37"/>
<ellipse cx="52.4" cy="142.8" rx="3.9" ry="7.4" fill="#ffffff" opacity="0.27"/>
<ellipse cx="12.5" cy="103.0" rx="3.8" ry="7.2" fill="#ffffff" opacity="0.34"/>
<ellipse cx="44.2" cy="159.9" rx="3.7" ry="6.9" fill="#ffffff" opacity="0.46"/>
<ellipse cx="53.6" cy="188.7" rx="4.5" ry="8.4" fill="#ffffff" opacity="0.42"/>
<ellipse cx="30.1" cy="111.4" rx="3.5" ry="6.5" fill="#ffffff" opacity="0.31"/>
<ellipse cx="63.3" cy="102.6" rx="4.6" ry="8.5" fill="#a8a8a8" opacity="0.33"/>
<ellipse cx="28.6" cy="144.5" rx="4.0" ry="7.4" fill="#ffffff" opacity="0.26"/>
<ellipse cx="21.0" cy="183.7" rx="4.0" ry="7.6" fill="#ffffff" opacity="0.46"/>
<ellipse cx="41.9" cy="103.2" rx="4.5" ry="8.4" fill="#ffffff" opacity="0.27"/>
<ellipse cx="29.9" cy="164.9" rx="3.5" ry="6.6" fill="#ffffff" opacity="0.48"/>
<ellipse cx="32.5" cy="172.6" rx="2.0" ry="3.8" fill="#a8a8a8" opacity="0.29"/>
<ellipse cx="46.1" cy="180.3" rx="3.8" ry="7.2" fill="#a8a8a8" opacity="0.39"/>
<ellipse cx="51.1" cy="108.4" rx="2.7" ry="5.0" fill="#a8a8a8" opacity="0.38"/>
<ellipse cx="28.299999999999997" cy="80" rx="4" ry="3.4" fill="#9c9c9c" opacity="0.7"/>
<ellipse cx="60.3" cy="77" rx="4" ry="3.4" fill="#9c9c9c" opacity="0.7"/>
<ellipse cx="40" cy="132" rx="18" ry="12" fill="#a8a8a8" opacity="0.62"/>
</g>
<g clip-path="url(#mc820_1057b)"><rect x="0" y="0" width="81.2" height="252" filter="url(#fur)" opacity="0.5"/></g>
<path d="M69.9,173.0 C70.2,178.7 70.7,176.1 69.2,181.6 C67.6,187.1 69.0,185.1 65.2,189.5 C61.4,193.9 62.9,191.7 57.8,194.9 C52.8,198.0 55.4,196.5 50.0,199.0 C44.6,201.4 47.5,201.3 41.6,202.3 C35.8,203.3 38.7,202.4 32.4,202.0 C26.2,201.6 28.7,203.1 22.9,201.1 C17.1,199.2 19.6,200.0 15.0,196.1 C10.3,192.2 12.2,194.3 9.0,189.4 C5.7,184.5 7.0,187.0 5.2,181.5 C3.3,176.0 3.0,178.6 3.5,173.0 C3.9,167.4 4.5,170.2 6.5,164.8 C8.4,159.5 6.2,161.5 9.4,156.9 C12.6,152.3 11.7,155.2 16.1,151.1 C20.6,147.0 17.3,146.8 22.7,144.6 C28.2,142.4 26.1,145.4 32.5,144.6 C38.9,143.9 36.0,141.6 41.8,142.4 C47.7,143.1 44.4,144.4 50.1,146.9 C55.8,149.4 54.3,146.5 59.0,149.9 C63.7,153.3 61.2,152.1 64.3,157.0 C67.4,162.0 66.5,159.3 68.4,164.6 C70.2,169.9 69.6,167.3 69.9,173.0Z" fill="#4b4bb4"/>
<path d="M17.299999999999997,192 Q33.3,206 34.8,214 L43.8,214 Q45.3,206 61.3,192 Z" fill="#4b4bb4"/>
<circle cx="64.8" cy="158.0" r="1.3" fill="#4b4bb4"/>
<circle cx="20.1" cy="147.6" r="0.6" fill="#4b4bb4"/>
<circle cx="23.1" cy="146.8" r="1.0" fill="#4b4bb4"/>
<circle cx="24.3" cy="145.7" r="0.8" fill="#4b4bb4"/>
<circle cx="33.2" cy="141.4" r="0.7" fill="#4b4bb4"/>
<circle cx="69.2" cy="166.9" r="1.2" fill="#4b4bb4"/>
<circle cx="39.3" cy="141.3" r="1.3" fill="#4b4bb4"/>
<circle cx="47.7" cy="143.5" r="1.1" fill="#4b4bb4"/>
<circle cx="67.1" cy="157.7" r="1.1" fill="#4b4bb4"/>
<circle cx="27.3" cy="144.2" r="1.1" fill="#4b4bb4"/>
<circle cx="48.8" cy="144.7" r="1.0" fill="#4b4bb4"/>
<circle cx="69.4" cy="164.8" r="1.1" fill="#4b4bb4"/>
<circle cx="9.0" cy="158.7" r="0.7" fill="#4b4bb4"/>
<circle cx="10.2" cy="158.2" r="1.1" fill="#4b4bb4"/>
<circle cx="66.5" cy="157.5" r="0.5" fill="#4b4bb4"/>
<circle cx="13.6" cy="152.7" r="0.8" fill="#4b4bb4"/>
<circle cx="56.0" cy="148.4" r="1.2" fill="#4b4bb4"/>
<circle cx="50.2" cy="145.3" r="0.8" fill="#4b4bb4"/>
<circle cx="67.6" cy="166.5" r="1.2" fill="#4b4bb4"/>
<circle cx="29.6" cy="142.6" r="1.2" fill="#4b4bb4"/>
<circle cx="36.3" cy="141.4" r="0.8" fill="#4b4bb4"/>
<circle cx="16.9" cy="149.2" r="0.7" fill="#4b4bb4"/>
<circle cx="9.1" cy="158.2" r="1.3" fill="#4b4bb4"/>
<circle cx="13.1" cy="153.0" r="1.2" fill="#4b4bb4"/>
<circle cx="35.8" cy="141.6" r="0.9" fill="#4b4bb4"/>
<circle cx="34.5" cy="144.3" r="1.1" fill="#4b4bb4"/>
<circle cx="59.0" cy="152.0" r="1.1" fill="#4b4bb4"/>
<circle cx="65.2" cy="155.8" r="1.0" fill="#4b4bb4"/>
<circle cx="23.9" cy="146.6" r="1.0" fill="#4b4bb4"/>
<circle cx="22.2" cy="146.9" r="0.7" fill="#4b4bb4"/>
<circle cx="8.0" cy="160.9" r="1.2" fill="#4b4bb4"/>
<circle cx="65.2" cy="161.2" r="0.9" fill="#4b4bb4"/>
<circle cx="22.9" cy="144.9" r="0.8" fill="#4b4bb4"/>
<circle cx="62.8" cy="155.2" r="0.9" fill="#4b4bb4"/>
<circle cx="34.9" cy="141.7" r="0.7" fill="#4b4bb4"/>
<circle cx="32.6" cy="142.9" r="0.6" fill="#4b4bb4"/>
<circle cx="6.7" cy="165.4" r="1.0" fill="#4b4bb4"/>
<circle cx="55.0" cy="148.8" r="1.1" fill="#4b4bb4"/>
<circle cx="57.5" cy="151.1" r="0.8" fill="#4b4bb4"/>
<circle cx="69.3" cy="163.9" r="0.8" fill="#4b4bb4"/>
<circle cx="46.3" cy="144.2" r="1.2" fill="#4b4bb4"/>
<circle cx="42.5" cy="142.4" r="1.1" fill="#4b4bb4"/>
<circle cx="7.7" cy="159.2" r="1.0" fill="#4b4bb4"/>
<circle cx="52.2" cy="146.7" r="1.3" fill="#4b4bb4"/>
<circle cx="18.3" cy="149.7" r="0.9" fill="#4b4bb4"/>
<circle cx="51.7" cy="144.3" r="0.7" fill="#4b4bb4"/>
<circle cx="13.7" cy="153.0" r="1.2" fill="#4b4bb4"/>
<circle cx="13.3" cy="151.2" r="0.8" fill="#4b4bb4"/>
<circle cx="33.3" cy="143.7" r="0.8" fill="#4b4bb4"/>
<circle cx="61.8" cy="156.5" r="1.1" fill="#4b4bb4"/>
<circle cx="56.0" cy="148.8" r="0.9" fill="#4b4bb4"/>
<circle cx="16.6" cy="150.2" r="1.0" fill="#4b4bb4"/>
<circle cx="22.4" cy="147.6" r="1.3" fill="#4b4bb4"/>
<circle cx="5.4" cy="167.3" r="0.6" fill="#4b4bb4"/>
<circle cx="68.3" cy="166.3" r="0.8" fill="#4b4bb4"/>
<circle cx="12.0" cy="152.5" r="1.3" fill="#4b4bb4"/>
<circle cx="14.1" cy="151.0" r="1.1" fill="#4b4bb4"/>
<circle cx="11.8" cy="156.8" r="1.2" fill="#4b4bb4"/>
<circle cx="7.9" cy="163.9" r="0.5" fill="#4b4bb4"/>
<circle cx="9.8" cy="155.5" r="1.1" fill="#4b4bb4"/>
<polyline points="18,201 8,203 1,205" fill="none" stroke="#4b4bb4" stroke-width="7.5" stroke-linecap="round" stroke-linejoin="round"/>
<polyline points="58,200 72,208 79,215" fill="none" stroke="#4b4bb4" stroke-width="7.5" stroke-linecap="round" stroke-linejoin="round"/>
<path d="M1.0,168.0 C0.8,174.3 0.6,175.9 2.0,182.0 C3.4,188.1 3.7,189.1 7.0,194.0 C10.3,198.9 10.6,199.3 16.0,203.0 C21.4,206.7 24.6,207.7 30.0,210.0 C35.4,212.3 35.1,213.0 39.3,213.0 C43.5,213.0 43.2,212.3 48.0,210.0 C52.8,207.7 55.3,207.0 60.0,203.0 C64.7,199.0 65.1,198.4 68.0,193.0 C70.9,187.6 71.3,186.3 72.5,180.0 C73.7,173.7 73.8,172.3 73.0,166.0 C72.2,159.7 71.8,157.9 69.0,153.0 C66.2,148.1 65.4,147.8 61.0,145.0 C56.6,142.2 55.4,142.2 50.0,141.0 C44.6,139.8 43.1,140.1 38.0,140.0 C32.9,139.9 31.5,141.9 28.0,140.5 C24.5,139.1 24.6,136.9 23.0,134.0 C21.4,131.1 22.9,128.5 21.0,128.0 C19.1,127.5 17.8,129.0 15.0,132.0 C12.2,135.0 11.8,135.6 9.0,141.0 C6.2,146.4 4.9,148.7 3.0,155.0 C1.1,161.3 1.2,161.7 1.0,168.0Z" fill="#4b4bb4"/>
<path d="M70.1,172.0 C70.5,180.2 71.1,177.0 67.3,184.5 C63.4,192.1 65.7,189.3 58.5,194.7 C51.3,200.1 54.8,198.9 45.7,200.7 C36.7,202.5 40.6,202.1 31.4,200.2 C22.2,198.2 24.8,200.5 18.2,195.0 C11.7,189.5 15.3,191.3 11.7,183.7 C8.1,176.0 8.3,180.1 7.4,172.0 C6.6,163.9 5.4,166.7 9.1,159.2 C12.9,151.8 11.4,154.9 18.8,149.6 C26.1,144.4 22.5,144.8 31.3,143.4 C40.1,142.1 36.3,143.4 45.2,145.6 C54.0,147.8 51.0,145.2 57.9,150.0 C64.8,154.9 61.8,152.7 65.9,160.1 C70.0,167.4 69.6,163.8 70.1,172.0Z" fill="#3b6fd6"/>
<path d="M68.5,172.0 C68.9,179.7 69.5,176.7 65.8,183.8 C62.2,191.0 64.3,188.3 57.5,193.4 C50.7,198.5 54.0,197.4 45.4,199.1 C36.8,200.8 40.5,200.4 31.8,198.6 C23.1,196.8 25.5,198.9 19.3,193.7 C13.0,188.5 16.5,190.2 13.1,183.0 C9.7,175.8 9.8,179.7 9.0,172.0 C8.2,164.3 7.1,167.0 10.6,159.9 C14.2,152.9 12.8,155.9 19.8,150.9 C26.8,145.9 23.3,146.3 31.6,145.0 C40.0,143.8 36.4,145.0 44.8,147.1 C53.2,149.2 50.3,146.7 56.9,151.3 C63.5,155.8 60.6,153.8 64.5,160.8 C68.3,167.7 68.0,164.3 68.5,172.0Z" fill="#30c4e4"/>
<path d="M66.6,172.0 C67.1,179.2 67.6,176.4 64.2,183.0 C60.7,189.7 62.7,187.2 56.3,192.0 C49.9,196.7 53.0,195.6 45.0,197.2 C36.9,198.8 40.3,198.4 32.2,196.8 C24.0,195.1 26.3,197.0 20.4,192.2 C14.6,187.4 17.8,189.0 14.6,182.3 C11.4,175.5 11.6,179.2 10.8,172.0 C10.0,164.8 9.0,167.3 12.3,160.8 C15.7,154.2 14.3,157.0 20.9,152.3 C27.5,147.7 24.2,148.0 32.1,146.9 C39.9,145.7 36.5,146.8 44.4,148.8 C52.4,150.7 49.6,148.4 55.8,152.7 C61.9,156.9 59.3,155.1 62.9,161.5 C66.5,168.0 66.2,164.8 66.6,172.0Z" fill="#58cc5a"/>
<path d="M64.4,172.0 C64.8,178.5 65.3,176.0 62.1,182.0 C59.0,188.1 60.8,185.9 54.9,190.2 C49.0,194.5 51.9,193.6 44.4,195.0 C37.0,196.5 40.2,196.1 32.7,194.6 C25.1,193.0 27.2,194.8 21.9,190.4 C16.5,186.0 19.5,187.5 16.5,181.3 C13.6,175.2 13.7,178.5 13.0,172.0 C12.3,165.5 11.3,167.7 14.4,161.8 C17.5,155.8 16.2,158.3 22.3,154.1 C28.4,149.8 25.3,150.2 32.6,149.1 C39.8,148.0 36.7,149.1 44.0,150.8 C51.3,152.6 48.7,150.5 54.4,154.4 C60.1,158.3 57.6,156.6 61.0,162.4 C64.3,168.3 64.0,165.5 64.4,172.0Z" fill="#f2e526"/>
<path d="M63.1,172.0 C63.5,178.2 63.9,175.8 60.9,181.5 C57.9,187.2 59.7,185.1 54.1,189.1 C48.5,193.2 51.2,192.3 44.1,193.7 C37.1,195.1 40.1,194.7 33.0,193.3 C25.8,191.8 27.8,193.5 22.7,189.4 C17.6,185.2 20.4,186.6 17.6,180.8 C14.8,175.0 15.0,178.2 14.3,172.0 C13.6,165.8 12.7,168.0 15.6,162.3 C18.6,156.7 17.4,159.1 23.1,155.1 C28.9,151.1 26.0,151.4 32.9,150.4 C39.7,149.4 36.8,150.4 43.7,152.0 C50.6,153.7 48.2,151.7 53.6,155.4 C59.0,159.1 56.7,157.5 59.8,163.0 C63.0,168.5 62.7,165.8 63.1,172.0Z" fill="#f7941d"/>
<path d="M61.8,172.0 C62.1,177.8 62.6,175.5 59.7,180.9 C56.9,186.3 58.6,184.3 53.3,188.1 C48.0,191.9 50.5,191.1 43.8,192.4 C37.2,193.7 40.0,193.3 33.3,192.0 C26.5,190.6 28.4,192.2 23.6,188.3 C18.7,184.4 21.4,185.7 18.8,180.3 C16.1,174.8 16.2,177.8 15.6,172.0 C14.9,166.2 14.1,168.2 16.9,162.9 C19.6,157.6 18.5,159.9 23.9,156.1 C29.4,152.4 26.7,152.7 33.2,151.7 C39.7,150.8 36.9,151.7 43.4,153.3 C50.0,154.8 47.7,153.0 52.8,156.4 C57.9,159.8 55.7,158.3 58.7,163.5 C61.7,168.7 61.4,166.2 61.8,172.0Z" fill="#ed1c24"/>
</g>
<clipPath id="mc927_1057"><rect x="0" y="0" width="81.2" height="252"/></clipPath>
<clipPath id="mc927_1057b"><path d="M24.2,47.6 C20.7,55.1 16.5,59.2 12.5,72.7 C8.5,86.2 11.6,77.8 10.8,92.7 C10.1,107.6 11.4,105.3 10.0,122.5 C8.6,139.7 7.5,136.3 6.0,150.0 C4.5,163.7 2.6,157.2 5.0,168.0 C7.4,178.8 7.4,177.6 14.0,186.0 C20.6,194.4 20.4,191.2 27.0,196.0 C33.6,200.8 29.8,199.6 36.0,202.0 C42.2,204.4 42.2,204.3 47.6,204.0 C53.0,203.7 50.9,203.4 54.0,201.0 C57.1,198.6 53.2,200.5 58.0,196.0 C62.8,191.5 64.0,194.4 70.0,186.0 C76.0,177.6 75.6,178.8 78.0,168.0 C80.4,157.2 78.4,163.7 78.0,150.0 C77.6,136.3 77.9,139.7 76.8,122.5 C75.7,105.3 76.0,108.2 74.3,92.7 C72.6,77.2 76.0,84.5 71.0,71.0 C66.0,57.5 61.6,54.6 57.6,47.6 L54.6,40 L29.7,40 Z"/></clipPath>
<g transform="translate(927.8,1057.5)" clip-path="url(#mc927_1057)">
<rect x="0" y="0" width="81.2" height="252" fill="#2a2a2a"/>
<rect x="0" y="0" width="81.2" height="19" fill="#1f1f1f"/>
<rect x="0" y="0" width="81.2" height="252" filter="url(#noise)" opacity="0.10"/>
<rect x="29.2" y="0" width="3.2" height="205" fill="url(#stripe)" opacity="0.051"/>
<rect x="35.6" y="0" width="2.9" height="205" fill="url(#stripe)" opacity="0.063"/>
<rect x="21.5" y="0" width="3.7" height="205" fill="url(#stripe)" opacity="0.031"/>
<rect x="24.7" y="0" width="2.7" height="205" fill="url(#stripe)" opacity="0.037"/>
<rect x="57.9" y="0" width="2.6" height="205" fill="url(#stripe)" opacity="0.069"/>
<rect x="73.9" y="0" width="2.4" height="205" fill="url(#stripe)" opacity="0.075"/>
<rect x="62.7" y="0" width="3.8" height="205" fill="url(#stripe)" opacity="0.031"/>
<g filter="url(#mblur)">
<polygon points="42.8,200 52.4,200 52.099999999999994,254 43.1,254" fill="url(#tailg)"/>
<polyline points="22,196 10,200 4,204" fill="none" stroke="#d4d4d4" stroke-width="8.5" stroke-linecap="round" stroke-linejoin="round"/>
<polyline points="62,194 74,199 80,206" fill="none" stroke="#d4d4d4" stroke-width="8.5" stroke-linecap="round" stroke-linejoin="round"/>
<path d="M24.2,47.6 C20.7,55.1 16.5,59.2 12.5,72.7 C8.5,86.2 11.6,77.8 10.8,92.7 C10.1,107.6 11.4,105.3 10.0,122.5 C8.6,139.7 7.5,136.3 6.0,150.0 C4.5,163.7 2.6,157.2 5.0,168.0 C7.4,178.8 7.4,177.6 14.0,186.0 C20.6,194.4 20.4,191.2 27.0,196.0 C33.6,200.8 29.8,199.6 36.0,202.0 C42.2,204.4 42.2,204.3 47.6,204.0 C53.0,203.7 50.9,203.4 54.0,201.0 C57.1,198.6 53.2,200.5 58.0,196.0 C62.8,191.5 64.0,194.4 70.0,186.0 C76.0,177.6 75.6,178.8 78.0,168.0 C80.4,157.2 78.4,163.7 78.0,150.0 C77.6,136.3 77.9,139.7 76.8,122.5 C75.7,105.3 76.0,108.2 74.3,92.7 C72.6,77.2 76.0,84.5 71.0,71.0 C66.0,57.5 61.6,54.6 57.6,47.6 L54.6,40 L29.7,40 Z" fill="url(#bodyg)"/>
<path d="M29.7,40 C31.2,32 34.4,22.2 37.4,17.7 C39.4,13.7 47.4,13.7 49.4,17.7 C52.4,22.2 53.1,32 54.6,40 Z" fill="#949494"/>
<ellipse cx="43.4" cy="34" rx="5.5" ry="4.5" fill="#b4b4b4"/>
</g>
<line x1="28.2" y1="40" x2="56.1" y2="40" stroke="#6a6a6a" stroke-width="0.9"/>
<g filter="url(#mblur2)" clip-path="url(#mc927_1057b)">
<ellipse cx="38.9" cy="147.9" rx="2.8" ry="5.3" fill="#ffffff" opacity="0.33"/>
<ellipse cx="26.8" cy="172.5" rx="3.0" ry="5.6" fill="#ffffff" opacity="0.41"/>
<ellipse cx="68.9" cy="96.8" rx="2.1" ry="4.0" fill="#a8a8a8" opacity="0.46"/>
<ellipse cx="59.2" cy="132.1" rx="2.7" ry="5.0" fill="#ffffff" opacity="0.33"/>
<ellipse cx="39.1" cy="62.1" rx="4.0" ry="7.4" fill="#a8a8a8" opacity="0.25"/>
<ellipse cx="62.4" cy="127.2" rx="4.6" ry="8.6" fill="#ffffff" opacity="0.45"/>
<ellipse cx="38.7" cy="145.8" rx="3.4" ry="6.4" fill="#ffffff" opacity="0.29"/>
<ellipse cx="25.2" cy="114.2" rx="3.0" ry="5.7" fill="#ffffff" opacity="0.41"/>
<ellipse cx="35.4" cy="100.9" rx="3.4" ry="6.4" fill="#a8a8a8" opacity="0.45"/>
<ellipse cx="51.0" cy="177.0" rx="2.6" ry="4.9" fill="#ffffff" opacity="0.27"/>
<ellipse cx="18.4" cy="53.4" rx="3.8" ry="7.0" fill="#a8a8a8" opacity="0.28"/>
<ellipse cx="52.9" cy="195.9" rx="4.1" ry="7.8" fill="#ffffff" opacity="0.41"/>
<ellipse cx="26.6" cy="79.3" rx="2.0" ry="3.8" fill="#ffffff" opacity="0.48"/>
<ellipse cx="17.3" cy="74.5" rx="3.1" ry="5.8" fill="#ffffff" opacity="0.37"/>
<ellipse cx="55.5" cy="122.5" rx="2.1" ry="4.0" fill="#ffffff" opacity="0.30"/>
<ellipse cx="51.7" cy="193.5" rx="3.4" ry="6.4" fill="#ffffff" opacity="0.30"/>
<ellipse cx="36.4" cy="68.6" rx="2.3" ry="4.4" fill="#ffffff" opacity="0.46"/>
<ellipse cx="25.5" cy="187.1" rx="4.5" ry="8.3" fill="#ffffff" opacity="0.31"/>
<ellipse cx="22.3" cy="154.1" rx="4.3" ry="8.1" fill="#a8a8a8" opacity="0.30"/>
<ellipse cx="37.0" cy="55.4" rx="2.9" ry="5.3" fill="#ffffff" opacity="0.28"/>
<ellipse cx="15.6" cy="204.0" rx="2.9" ry="5.4" fill="#ffffff" opacity="0.38"/>
<ellipse cx="39.8" cy="142.2" rx="3.4" ry="6.4" fill="#ffffff" opacity="0.27"/>
<ellipse cx="49.6" cy="154.3" rx="4.0" ry="7.6" fill="#ffffff" opacity="0.37"/>
<ellipse cx="60.2" cy="163.4" rx="2.1" ry="4.0" fill="#ffffff" opacity="0.29"/>
<ellipse cx="54.4" cy="113.6" rx="3.1" ry="5.8" fill="#ffffff" opacity="0.36"/>
<ellipse cx="54.8" cy="148.6" rx="2.6" ry="4.9" fill="#ffffff" opacity="0.41"/>
<ellipse cx="27.4" cy="80" rx="4" ry="3.4" fill="#9c9c9c" opacity="0.7"/>
<ellipse cx="59.4" cy="77" rx="4" ry="3.4" fill="#9c9c9c" opacity="0.7"/>
<ellipse cx="42" cy="152" rx="20" ry="32" fill="#a8a8a8" opacity="0.62"/>
</g>
<g clip-path="url(#mc927_1057b)"><rect x="0" y="0" width="81.2" height="252" filter="url(#fur)" opacity="0.5"/></g>
<path d="M64.3,164.5 C64.4,168.3 65.1,166.9 62.8,170.3 C60.4,173.7 61.5,172.4 57.4,174.8 C53.3,177.2 55.3,176.5 50.4,177.6 C45.5,178.7 47.9,178.0 42.6,178.2 C37.3,178.4 39.3,179.4 34.4,178.3 C29.5,177.1 31.7,177.5 27.8,174.8 C23.9,172.1 24.6,173.7 22.6,170.3 C20.6,166.8 21.9,168.3 21.9,164.5 C21.9,160.7 20.5,162.1 22.6,158.7 C24.6,155.4 24.3,157.2 28.2,154.5 C32.1,151.7 29.5,152.2 34.3,150.5 C39.1,148.9 37.2,149.3 42.6,149.5 C48.0,149.7 45.6,149.6 50.6,151.2 C55.5,152.7 53.6,151.6 57.5,154.1 C61.5,156.7 60.2,155.3 62.4,158.8 C64.7,162.2 64.2,160.7 64.3,164.5Z" fill="#4b4bb4"/><ellipse cx="41" cy="163" rx="11" ry="7" fill="#4060c0" opacity="0.6" filter="url(#mblur2)"/>
</g>
<clipPath id="mc1036_1057"><rect x="0" y="0" width="81.2" height="252"/></clipPath>
<clipPath id="mc1036_1057b"><path d="M22.2,47.6 C17.7,55.6 10.7,60.9 7.2,74.4 C3.7,87.9 10.0,78.3 10.5,92.7 C11.0,107.1 11.5,105.3 8.9,122.5 C6.3,139.7 4.2,135.2 2.0,150.0 C-0.2,164.8 -1.5,159.4 1.5,172.0 C4.5,184.6 4.6,182.4 12.0,192.0 C19.4,201.6 20.0,198.3 26.0,204.0 C32.0,209.7 28.1,208.3 32.0,211.0 C35.9,213.7 34.8,213.0 39.0,213.0 C43.2,213.0 41.5,213.7 46.0,211.0 C50.5,208.3 48.0,209.7 54.0,204.0 C60.0,198.3 60.5,201.6 66.0,192.0 C71.5,182.4 70.5,184.6 72.3,172.0 C74.1,159.4 72.2,164.8 72.0,150.0 C71.8,135.2 71.9,139.7 71.5,122.5 C71.1,105.3 72.0,108.2 70.7,92.7 C69.4,77.2 71.8,84.5 67.3,71.0 C62.8,57.5 59.1,54.6 55.6,47.6 L52.6,40 L27.4,40 Z"/></clipPath>
<g transform="translate(1036.2,1057.5)" clip-path="url(#mc1036_1057)">
<rect x="0" y="0" width="81.2" height="252" fill="#2a2a2a"/>
<rect x="0" y="0" width="81.2" height="19" fill="#1f1f1f"/>
<rect x="0" y="0" width="81.2" height="252" filter="url(#noise)" opacity="0.10"/>
<rect x="41.3" y="0" width="4.3" height="205" fill="url(#stripe)" opacity="0.078"/>
<rect x="23.8" y="0" width="4.2" height="205" fill="url(#stripe)" opacity="0.065"/>
<rect x="51.7" y="0" width="1.9" height="205" fill="url(#stripe)" opacity="0.031"/>
<rect x="30.9" y="0" width="4.1" height="205" fill="url(#stripe)" opacity="0.043"/>
<rect x="39.7" y="0" width="2.6" height="205" fill="url(#stripe)" opacity="0.072"/>
<rect x="73.1" y="0" width="2.9" height="205" fill="url(#stripe)" opacity="0.080"/>
<rect x="6.7" y="0" width="4.3" height="205" fill="url(#stripe)" opacity="0.074"/>
<g filter="url(#mblur)">
<polygon points="34.1,208 43.7,208 43.4,254 34.400000000000006,254" fill="url(#tailg)"/>
<polyline points="18,199 6,203 2,210" fill="none" stroke="#d4d4d4" stroke-width="8.5" stroke-linecap="round" stroke-linejoin="round"/>
<polyline points="58,200 64,206 66,212" fill="none" stroke="#d4d4d4" stroke-width="8.5" stroke-linecap="round" stroke-linejoin="round"/>
<path d="M22.2,47.6 C17.7,55.6 10.7,60.9 7.2,74.4 C3.7,87.9 10.0,78.3 10.5,92.7 C11.0,107.1 11.5,105.3 8.9,122.5 C6.3,139.7 4.2,135.2 2.0,150.0 C-0.2,164.8 -1.5,159.4 1.5,172.0 C4.5,184.6 4.6,182.4 12.0,192.0 C19.4,201.6 20.0,198.3 26.0,204.0 C32.0,209.7 28.1,208.3 32.0,211.0 C35.9,213.7 34.8,213.0 39.0,213.0 C43.2,213.0 41.5,213.7 46.0,211.0 C50.5,208.3 48.0,209.7 54.0,204.0 C60.0,198.3 60.5,201.6 66.0,192.0 C71.5,182.4 70.5,184.6 72.3,172.0 C74.1,159.4 72.2,164.8 72.0,150.0 C71.8,135.2 71.9,139.7 71.5,122.5 C71.1,105.3 72.0,108.2 70.7,92.7 C69.4,77.2 71.8,84.5 67.3,71.0 C62.8,57.5 59.1,54.6 55.6,47.6 L52.6,40 L27.4,40 Z" fill="url(#bodyg)"/>
<path d="M27.4,40 C28.9,32 32.4,22.2 35.4,17.7 C37.4,13.7 45.4,13.7 47.4,17.7 C50.4,22.2 51.1,32 52.6,40 Z" fill="#949494"/>
<ellipse cx="41.4" cy="34" rx="5.5" ry="4.5" fill="#b4b4b4"/>
</g>
<line x1="25.9" y1="40" x2="54.1" y2="40" stroke="#6a6a6a" stroke-width="0.9"/>
<g filter="url(#mblur2)" clip-path="url(#mc1036_1057b)">
<ellipse cx="16.4" cy="160.0" rx="3.6" ry="6.7" fill="#a8a8a8" opacity="0.30"/>
<ellipse cx="39.2" cy="187.0" rx="3.8" ry="7.1" fill="#ffffff" opacity="0.27"/>
<ellipse cx="62.8" cy="124.5" rx="4.8" ry="9.0" fill="#ffffff" opacity="0.45"/>
<ellipse cx="55.3" cy="192.8" rx="2.0" ry="3.8" fill="#ffffff" opacity="0.26"/>
<ellipse cx="51.7" cy="106.3" rx="4.7" ry="8.8" fill="#ffffff" opacity="0.44"/>
<ellipse cx="58.5" cy="88.6" rx="3.6" ry="6.7" fill="#a8a8a8" opacity="0.38"/>
<ellipse cx="28.7" cy="92.9" rx="4.2" ry="7.9" fill="#ffffff" opacity="0.40"/>
<ellipse cx="40.2" cy="136.7" rx="2.4" ry="4.4" fill="#a8a8a8" opacity="0.48"/>
<ellipse cx="26.3" cy="102.8" rx="4.5" ry="8.5" fill="#a8a8a8" opacity="0.32"/>
<ellipse cx="8.1" cy="167.3" rx="3.0" ry="5.6" fill="#ffffff" opacity="0.32"/>
<ellipse cx="44.7" cy="163.5" rx="2.9" ry="5.4" fill="#ffffff" opacity="0.50"/>
<ellipse cx="61.0" cy="55.2" rx="3.6" ry="6.7" fill="#a8a8a8" opacity="0.35"/>
<ellipse cx="50.5" cy="198.9" rx="3.7" ry="6.8" fill="#ffffff" opacity="0.30"/>
<ellipse cx="22.3" cy="75.1" rx="2.3" ry="4.3" fill="#ffffff" opacity="0.46"/>
<ellipse cx="39.1" cy="175.2" rx="4.6" ry="8.6" fill="#a8a8a8" opacity="0.26"/>
<ellipse cx="61.9" cy="66.2" rx="4.2" ry="7.8" fill="#a8a8a8" opacity="0.41"/>
<ellipse cx="31.2" cy="63.5" rx="2.2" ry="4.2" fill="#a8a8a8" opacity="0.31"/>
<ellipse cx="38.8" cy="92.6" rx="2.5" ry="4.6" fill="#ffffff" opacity="0.43"/>
<ellipse cx="36.1" cy="112.1" rx="3.4" ry="6.3" fill="#a8a8a8" opacity="0.38"/>
<ellipse cx="33.7" cy="200.0" rx="4.1" ry="7.7" fill="#ffffff" opacity="0.33"/>
<ellipse cx="18.6" cy="107.7" rx="2.1" ry="3.9" fill="#a8a8a8" opacity="0.39"/>
<ellipse cx="32.4" cy="188.7" rx="2.9" ry="5.5" fill="#a8a8a8" opacity="0.48"/>
<ellipse cx="40.2" cy="145.8" rx="3.0" ry="5.7" fill="#a8a8a8" opacity="0.44"/>
<ellipse cx="25.3" cy="106.4" rx="3.7" ry="6.9" fill="#ffffff" opacity="0.38"/>
<ellipse cx="18.8" cy="140.1" rx="4.0" ry="7.4" fill="#a8a8a8" opacity="0.36"/>
<ellipse cx="33.7" cy="129.2" rx="3.5" ry="6.6" fill="#ffffff" opacity="0.25"/>
<ellipse cx="25.4" cy="80" rx="4" ry="3.4" fill="#9c9c9c" opacity="0.7"/>
<ellipse cx="57.4" cy="77" rx="4" ry="3.4" fill="#9c9c9c" opacity="0.7"/>
<ellipse cx="42" cy="140" rx="22" ry="24" fill="#a8a8a8" opacity="0.62"/>
</g>
<g clip-path="url(#mc1036_1057b)"><rect x="0" y="0" width="81.2" height="252" filter="url(#fur)" opacity="0.5"/></g>
<g transform="rotate(18 33 167)"><ellipse cx="33" cy="167" rx="27" ry="21.5" fill="#4b4bb4"/><ellipse cx="31" cy="164" rx="20" ry="12" fill="#3b6fd6"/><ellipse cx="31" cy="163.5" rx="18.6" ry="10.8" fill="#30c4e4"/><ellipse cx="31" cy="163" rx="17" ry="9.4" fill="#58cc5a"/></g><circle cx="24.7" cy="161.8" r="10" fill="#f2e526"/><circle cx="24.7" cy="161.8" r="8.3" fill="#ed1c24"/><ellipse cx="40.6" cy="167.1" rx="5.2" ry="4.2" fill="#f2e526"/><ellipse cx="40.6" cy="167.1" rx="3.2" ry="2.4" fill="#ed1c24"/>
</g>
<clipPath id="mc1143_1057"><rect x="0" y="0" width="81.2" height="252"/></clipPath>
<clipPath id="mc1143_1057b"><path d="M27.0,46.0 C24.0,48.5 22.0,46.3 17.0,54.3 C12.0,62.3 10.8,60.2 10.3,72.7 C9.8,85.2 15.4,81.1 15.4,96.0 C15.4,110.9 13.3,106.3 10.3,122.5 C7.3,138.7 6.6,136.3 5.3,150.0 C4.0,163.7 2.2,157.8 6.0,168.0 C9.8,178.2 12.6,175.6 18.0,184.0 C23.4,192.4 20.4,190.6 24.0,196.0 C27.6,201.4 25.8,199.3 30.0,202.0 C34.2,204.7 33.2,205.3 38.0,205.0 C42.8,204.7 42.4,203.7 46.0,201.0 C49.6,198.3 45.2,201.1 50.0,196.0 C54.8,190.9 54.8,192.4 62.0,184.0 C69.2,175.6 70.2,178.2 74.0,168.0 C77.8,157.8 74.8,163.7 74.5,150.0 C74.2,136.3 73.7,134.7 73.0,122.5 C72.3,110.3 73.0,120.4 72.2,109.4 C71.5,98.5 72.5,99.0 70.5,86.0 C68.5,73.0 70.0,78.0 65.5,66.0 C61.0,54.0 58.5,52.0 55.5,46.0 L54.1,40 L30.1,40 Z"/></clipPath>
<g transform="translate(1143.4,1057.5)" clip-path="url(#mc1143_1057)">
<rect x="0" y="0" width="81.2" height="252" fill="#2a2a2a"/>
<rect x="0" y="0" width="81.2" height="19" fill="#1f1f1f"/>
<rect x="0" y="0" width="81.2" height="252" filter="url(#noise)" opacity="0.10"/>
<rect x="15.6" y="0" width="3.8" height="205" fill="url(#stripe)" opacity="0.047"/>
<rect x="16.9" y="0" width="3.2" height="205" fill="url(#stripe)" opacity="0.055"/>
<rect x="38.1" y="0" width="3.1" height="205" fill="url(#stripe)" opacity="0.043"/>
<rect x="21.1" y="0" width="3.9" height="205" fill="url(#stripe)" opacity="0.046"/>
<rect x="52.7" y="0" width="4.3" height="205" fill="url(#stripe)" opacity="0.073"/>
<rect x="73.0" y="0" width="2.3" height="205" fill="url(#stripe)" opacity="0.042"/>
<rect x="57.3" y="0" width="3.5" height="205" fill="url(#stripe)" opacity="0.040"/>
<g filter="url(#mblur)">
<polygon points="37.3,198 46.9,198 46.599999999999994,254 37.6,254" fill="url(#tailg)"/>
<polyline points="18,193 8,197 2,200" fill="none" stroke="#d4d4d4" stroke-width="8.5" stroke-linecap="round" stroke-linejoin="round"/>
<polyline points="58,190 66,196 68,204" fill="none" stroke="#d4d4d4" stroke-width="8.5" stroke-linecap="round" stroke-linejoin="round"/>
<path d="M27.0,46.0 C24.0,48.5 22.0,46.3 17.0,54.3 C12.0,62.3 10.8,60.2 10.3,72.7 C9.8,85.2 15.4,81.1 15.4,96.0 C15.4,110.9 13.3,106.3 10.3,122.5 C7.3,138.7 6.6,136.3 5.3,150.0 C4.0,163.7 2.2,157.8 6.0,168.0 C9.8,178.2 12.6,175.6 18.0,184.0 C23.4,192.4 20.4,190.6 24.0,196.0 C27.6,201.4 25.8,199.3 30.0,202.0 C34.2,204.7 33.2,205.3 38.0,205.0 C42.8,204.7 42.4,203.7 46.0,201.0 C49.6,198.3 45.2,201.1 50.0,196.0 C54.8,190.9 54.8,192.4 62.0,184.0 C69.2,175.6 70.2,178.2 74.0,168.0 C77.8,157.8 74.8,163.7 74.5,150.0 C74.2,136.3 73.7,134.7 73.0,122.5 C72.3,110.3 73.0,120.4 72.2,109.4 C71.5,98.5 72.5,99.0 70.5,86.0 C68.5,73.0 70.0,78.0 65.5,66.0 C61.0,54.0 58.5,52.0 55.5,46.0 L54.1,40 L30.1,40 Z" fill="url(#bodyg)"/>
<path d="M30.1,40 C31.6,32 35.6,23 38.6,18.5 C40.6,14.5 48.6,14.5 50.6,18.5 C53.6,23 52.6,32 54.1,40 Z" fill="#949494"/>
<ellipse cx="44.6" cy="34" rx="5.5" ry="4.5" fill="#b4b4b4"/>
</g>
<line x1="28.6" y1="40" x2="55.6" y2="40" stroke="#6a6a6a" stroke-width="0.9"/>
<g filter="url(#mblur2)" clip-path="url(#mc1143_1057b)">
<ellipse cx="50.1" cy="185.6" rx="4.3" ry="8.1" fill="#ffffff" opacity="0.32"/>
<ellipse cx="11.7" cy="201.3" rx="2.6" ry="4.9" fill="#a8a8a8" opacity="0.38"/>
<ellipse cx="45.2" cy="132.6" rx="4.3" ry="8.1" fill="#a8a8a8" opacity="0.33"/>
<ellipse cx="17.9" cy="125.0" rx="4.6" ry="8.6" fill="#ffffff" opacity="0.42"/>
<ellipse cx="47.4" cy="76.5" rx="2.6" ry="4.8" fill="#a8a8a8" opacity="0.36"/>
<ellipse cx="34.6" cy="125.5" rx="2.3" ry="4.3" fill="#a8a8a8" opacity="0.40"/>
<ellipse cx="41.9" cy="104.0" rx="4.3" ry="8.0" fill="#a8a8a8" opacity="0.39"/>
<ellipse cx="16.4" cy="74.6" rx="2.4" ry="4.5" fill="#ffffff" opacity="0.41"/>
<ellipse cx="42.4" cy="83.2" rx="4.5" ry="8.5" fill="#a8a8a8" opacity="0.45"/>
<ellipse cx="58.1" cy="156.3" rx="3.5" ry="6.5" fill="#a8a8a8" opacity="0.28"/>
<ellipse cx="50.7" cy="187.3" rx="3.3" ry="6.3" fill="#a8a8a8" opacity="0.30"/>
<ellipse cx="35.1" cy="93.4" rx="3.1" ry="5.8" fill="#a8a8a8" opacity="0.29"/>
<ellipse cx="30.7" cy="181.4" rx="2.8" ry="5.3" fill="#ffffff" opacity="0.50"/>
<ellipse cx="42.3" cy="54.8" rx="3.6" ry="6.7" fill="#ffffff" opacity="0.29"/>
<ellipse cx="53.6" cy="151.8" rx="3.2" ry="6.0" fill="#ffffff" opacity="0.39"/>
<ellipse cx="37.6" cy="67.5" rx="4.2" ry="7.8" fill="#a8a8a8" opacity="0.36"/>
<ellipse cx="34.4" cy="145.4" rx="3.3" ry="6.2" fill="#ffffff" opacity="0.47"/>
<ellipse cx="63.1" cy="75.1" rx="2.5" ry="4.7" fill="#a8a8a8" opacity="0.49"/>
<ellipse cx="53.1" cy="97.4" rx="2.2" ry="4.1" fill="#a8a8a8" opacity="0.48"/>
<ellipse cx="54.7" cy="164.6" rx="4.7" ry="8.9" fill="#ffffff" opacity="0.48"/>
<ellipse cx="26.3" cy="63.7" rx="4.4" ry="8.2" fill="#a8a8a8" opacity="0.45"/>
<ellipse cx="18.8" cy="97.9" rx="3.6" ry="6.8" fill="#ffffff" opacity="0.33"/>
<ellipse cx="45.8" cy="195.3" rx="4.0" ry="7.5" fill="#ffffff" opacity="0.35"/>
<ellipse cx="40.6" cy="165.4" rx="4.8" ry="9.0" fill="#ffffff" opacity="0.48"/>
<ellipse cx="57.2" cy="59.0" rx="2.7" ry="5.1" fill="#ffffff" opacity="0.30"/>
<ellipse cx="20.6" cy="72.9" rx="3.9" ry="7.3" fill="#ffffff" opacity="0.28"/>
<ellipse cx="28.6" cy="80" rx="4" ry="3.4" fill="#9c9c9c" opacity="0.7"/>
<ellipse cx="60.6" cy="77" rx="4" ry="3.4" fill="#9c9c9c" opacity="0.7"/>
<ellipse cx="43" cy="146" rx="21" ry="29" fill="#a8a8a8" opacity="0.62"/>
</g>
<g clip-path="url(#mc1143_1057b)"><rect x="0" y="0" width="81.2" height="252" filter="url(#fur)" opacity="0.5"/></g>

</g>
<text x="862.3" y="774.2" font-size="29" fill="#000" text-anchor="middle">Unt.</text>
<text x="966.5" y="774.2" font-size="29" fill="#e21f26" text-anchor="middle" textLength="54.4" lengthAdjust="spacingAndGlyphs">CP1</text>
<text x="1072.3" y="774.2" font-size="29" fill="#0f9347" text-anchor="middle" textLength="63.8" lengthAdjust="spacingAndGlyphs">PD-1</text>
<text x="1177.8" y="739.2" font-size="29" fill="#3c57a6" text-anchor="middle" textLength="54.4" lengthAdjust="spacingAndGlyphs">CP1</text>
<text x="1177.8" y="774.2" font-size="29" fill="#3c57a6" text-anchor="middle" textLength="80.9" lengthAdjust="spacingAndGlyphs">+PD-1</text>
<rect x="1236.2" y="810.3" width="12.9" height="406" fill="url(#cbar)"/>
<rect x="1236.2" y="810.3" width="1.3" height="406" fill="#000" opacity="0.35"/>
<rect x="1247.8" y="810.3" width="1.3" height="406" fill="#000" opacity="0.35"/>
<rect x="1236.2" y="810" width="12.9" height="1.6" fill="#7a1010" opacity="0.8"/>
<line x1="1249" y1="810.6" x2="1256.2" y2="810.6" stroke="#444" stroke-width="1.1" stroke-linecap="butt"/>
<line x1="1249" y1="827.36" x2="1254.6" y2="827.36" stroke="#777" stroke-width="1.1" stroke-linecap="butt"/>
<line x1="1249" y1="844.12" x2="1254.6" y2="844.12" stroke="#444" stroke-width="1.1" stroke-linecap="butt"/>
<line x1="1249" y1="860.88" x2="1254.6" y2="860.88" stroke="#777" stroke-width="1.1" stroke-linecap="butt"/>
<line x1="1249" y1="877.64" x2="1254.6" y2="877.64" stroke="#444" stroke-width="1.1" stroke-linecap="butt"/>
<line x1="1249" y1="894.4000000000001" x2="1256.2" y2="894.4000000000001" stroke="#777" stroke-width="1.1" stroke-linecap="butt"/>
<line x1="1249" y1="911.1600000000001" x2="1254.6" y2="911.1600000000001" stroke="#444" stroke-width="1.1" stroke-linecap="butt"/>
<line x1="1249" y1="927.9200000000001" x2="1254.6" y2="927.9200000000001" stroke="#777" stroke-width="1.1" stroke-linecap="butt"/>
<line x1="1249" y1="944.6800000000001" x2="1254.6" y2="944.6800000000001" stroke="#444" stroke-width="1.1" stroke-linecap="butt"/>
<line x1="1249" y1="961.44" x2="1254.6" y2="961.44" stroke="#777" stroke-width="1.1" stroke-linecap="butt"/>
<line x1="1249" y1="978.2" x2="1256.2" y2="978.2" stroke="#444" stroke-width="1.1" stroke-linecap="butt"/>
<line x1="1249" y1="994.96" x2="1254.6" y2="994.96" stroke="#777" stroke-width="1.1" stroke-linecap="butt"/>
<line x1="1249" y1="1011.72" x2="1254.6" y2="1011.72" stroke="#444" stroke-width="1.1" stroke-linecap="butt"/>
<line x1="1249" y1="1028.48" x2="1254.6" y2="1028.48" stroke="#777" stroke-width="1.1" stroke-linecap="butt"/>
<line x1="1249" y1="1045.24" x2="1254.6" y2="1045.24" stroke="#444" stroke-width="1.1" stroke-linecap="butt"/>
<line x1="1249" y1="1062.0" x2="1256.2" y2="1062.0" stroke="#777" stroke-width="1.1" stroke-linecap="butt"/>
<line x1="1249" y1="1078.76" x2="1254.6" y2="1078.76" stroke="#444" stroke-width="1.1" stroke-linecap="butt"/>
<line x1="1249" y1="1095.52" x2="1254.6" y2="1095.52" stroke="#777" stroke-width="1.1" stroke-linecap="butt"/>
<line x1="1249" y1="1112.28" x2="1254.6" y2="1112.28" stroke="#444" stroke-width="1.1" stroke-linecap="butt"/>
<line x1="1249" y1="1129.04" x2="1254.6" y2="1129.04" stroke="#777" stroke-width="1.1" stroke-linecap="butt"/>
<line x1="1249" y1="1145.8000000000002" x2="1256.2" y2="1145.8000000000002" stroke="#444" stroke-width="1.1" stroke-linecap="butt"/>
<line x1="1249" y1="1162.56" x2="1254.6" y2="1162.56" stroke="#777" stroke-width="1.1" stroke-linecap="butt"/>
<line x1="1249" y1="1179.3200000000002" x2="1254.6" y2="1179.3200000000002" stroke="#444" stroke-width="1.1" stroke-linecap="butt"/>
<line x1="1249" y1="1196.08" x2="1254.6" y2="1196.08" stroke="#777" stroke-width="1.1" stroke-linecap="butt"/>
<line x1="1249" y1="1212.8400000000001" x2="1254.6" y2="1212.8400000000001" stroke="#444" stroke-width="1.1" stroke-linecap="butt"/>
<text x="1260.5" y="814.2" font-size="10.2" fill="#111" text-anchor="start">1.0</text>
<text x="1260.5" y="898.0000000000001" font-size="10.2" fill="#111" text-anchor="start">0.8</text>
<text x="1260.5" y="981.8000000000001" font-size="10.2" fill="#111" text-anchor="start">0.6</text>
<text x="1260.5" y="1065.6" font-size="10.2" fill="#111" text-anchor="start">0.4</text>
<text x="1260.5" y="1149.4" font-size="10.2" fill="#111" text-anchor="start">0.2</text>
<text x="1246.3" y="798.5" font-size="10.6" fill="#111" text-anchor="start">Luminescence</text>
<text x="1279" y="1013" font-size="10.2" fill="#111">×10<tspan dy="-4" font-size="7">7</tspan></text>
<text x="1241.5" y="1237.4" font-size="10.4" fill="#111" text-anchor="start">Radiance</text>
<text x="1241.5" y="1250.2" font-size="10.4" fill="#111">(p/sec/cm<tspan dy="-3.6" font-size="7">2</tspan><tspan dy="3.6">/sr)</tspan></text>
<rect x="1237" y="1264.4" width="69.6" height="38.6" rx="1.5" fill="#fff" stroke="#888" stroke-width="1.6"/>
<text x="1239.7" y="1275.1" font-size="10.3" fill="#111" text-anchor="start">Color scale</text>
<text x="1239.7" y="1286.9" font-size="10.3" fill="#111" text-anchor="start">Min = 3.50e5</text>
<text x="1239.7" y="1298.6" font-size="10.3" fill="#111" text-anchor="start">Max = 1.00e7</text>
</g><g id="pcd">
<text x="-0.5" y="1399.8" font-size="40" fill="#000" text-anchor="start" font-weight="bold">c</text>
<text x="406" y="1399.8" font-size="40" fill="#000" text-anchor="start" font-weight="bold">d</text>
<circle cx="148.8" cy="1607.3" r="3.1" fill="#000"/>
<circle cx="148.8" cy="1621.0" r="3.1" fill="#000"/>
<rect x="212.80" y="1613.90" width="7.60" height="7.60" fill="#ee3124"/>
<rect x="217.90" y="1642.10" width="7.60" height="7.60" fill="#ee3124"/>
<rect x="207.90" y="1647.60" width="7.60" height="7.60" fill="#ee3124"/>
<polygon points="280.3,1523.6 288.3,1523.6 284.3,1516.4" fill="#0f9648"/>
<polygon points="280.3,1624.6 288.3,1624.6 284.3,1617.4" fill="#0f9648"/>
<polygon points="275.4,1654.1 283.4,1654.1 279.4,1646.9" fill="#0f9648"/>
<polygon points="286.0,1651.0 294.0,1651.0 290.0,1643.8" fill="#0f9648"/>
<polygon points="348.3,1648.4 356.3,1648.4 352.3,1655.6" fill="#3f5ba9"/>
<polygon points="339.5,1655.8 346.5,1655.8 343.0,1662.2" fill="#8796c8"/>
<polygon points="358.0,1657.8 365.0,1657.8 361.5,1664.2" fill="#8796c8"/>
<line x1="126.30000000000001" y1="1613.4" x2="171.3" y2="1613.4" stroke="#000" stroke-width="3.1" stroke-linecap="butt"/><line x1="148.8" y1="1600.7" x2="148.8" y2="1625.6" stroke="#000" stroke-width="3.1" stroke-linecap="butt"/><line x1="136.0" y1="1600.7" x2="161.60000000000002" y2="1600.7" stroke="#000" stroke-width="3.1" stroke-linecap="butt"/><line x1="136.0" y1="1625.6" x2="161.60000000000002" y2="1625.6" stroke="#000" stroke-width="3.1" stroke-linecap="butt"/>
<line x1="194.1" y1="1638.3" x2="239.1" y2="1638.3" stroke="#000" stroke-width="3.1" stroke-linecap="butt"/><line x1="216.6" y1="1620.1" x2="216.6" y2="1655.9" stroke="#000" stroke-width="3.1" stroke-linecap="butt"/><line x1="203.79999999999998" y1="1620.1" x2="229.4" y2="1620.1" stroke="#000" stroke-width="3.1" stroke-linecap="butt"/><line x1="203.79999999999998" y1="1655.9" x2="229.4" y2="1655.9" stroke="#000" stroke-width="3.1" stroke-linecap="butt"/>
<line x1="262.1" y1="1609.2" x2="307.1" y2="1609.2" stroke="#000" stroke-width="3.1" stroke-linecap="butt"/><line x1="284.6" y1="1547.9" x2="284.6" y2="1668" stroke="#000" stroke-width="3.1" stroke-linecap="butt"/><line x1="271.8" y1="1547.9" x2="297.40000000000003" y2="1547.9" stroke="#000" stroke-width="3.1" stroke-linecap="butt"/><line x1="271.8" y1="1668" x2="297.40000000000003" y2="1668" stroke="#000" stroke-width="3.1" stroke-linecap="butt"/>
<line x1="329.8" y1="1659.6" x2="374.8" y2="1659.6" stroke="#000" stroke-width="3.1" stroke-linecap="butt"/><line x1="352.3" y1="1654.1" x2="352.3" y2="1665.5" stroke="#000" stroke-width="3.1" stroke-linecap="butt"/><line x1="339.5" y1="1654.1" x2="365.1" y2="1654.1" stroke="#000" stroke-width="3.1" stroke-linecap="butt"/><line x1="339.5" y1="1665.5" x2="365.1" y2="1665.5" stroke="#000" stroke-width="3.1" stroke-linecap="butt"/>
<line x1="115.4" y1="1484.2" x2="115.4" y2="1671.7" stroke="#000" stroke-width="7.2" stroke-linecap="butt"/>
<line x1="108.4" y1="1668.4" x2="386.3" y2="1668.4" stroke="#000" stroke-width="6.7" stroke-linecap="butt"/>
<line x1="108.4" y1="1623.2" x2="115.4" y2="1623.2" stroke="#000" stroke-width="6.4" stroke-linecap="butt"/>
<line x1="108.4" y1="1578.0" x2="115.4" y2="1578.0" stroke="#000" stroke-width="6.4" stroke-linecap="butt"/>
<line x1="108.4" y1="1532.8000000000002" x2="115.4" y2="1532.8000000000002" stroke="#000" stroke-width="6.4" stroke-linecap="butt"/>
<line x1="108.4" y1="1487.6000000000001" x2="115.4" y2="1487.6000000000001" stroke="#000" stroke-width="6.4" stroke-linecap="butt"/>
<line x1="148.8" y1="1668.4" x2="148.8" y2="1676.6000000000001" stroke="#000" stroke-width="5.8" stroke-linecap="butt"/>
<line x1="216.4" y1="1668.4" x2="216.4" y2="1676.6000000000001" stroke="#000" stroke-width="5.8" stroke-linecap="butt"/>
<line x1="284.3" y1="1668.4" x2="284.3" y2="1676.6000000000001" stroke="#000" stroke-width="5.8" stroke-linecap="butt"/>
<line x1="352.3" y1="1668.4" x2="352.3" y2="1676.6000000000001" stroke="#000" stroke-width="5.8" stroke-linecap="butt"/>
<text x="98.8" y="1678.6000000000001" font-size="29" fill="#000" text-anchor="end">0</text>
<text x="98.8" y="1633.4" font-size="29" fill="#000" text-anchor="end">100</text>
<text x="98.8" y="1588.2" font-size="29" fill="#000" text-anchor="end">200</text>
<text x="98.8" y="1543.0000000000002" font-size="29" fill="#000" text-anchor="end">300</text>
<text x="98.8" y="1497.8000000000002" font-size="29" fill="#000" text-anchor="end">400</text>
<text x="246" y="1438.6" font-size="29" fill="#000" text-anchor="middle">Tumor volume</text>
<line x1="148" y1="1485.8" x2="355.4" y2="1485.8" stroke="#000" stroke-width="5.2" stroke-linecap="butt"/>
<text x="252" y="1484" font-size="33" fill="#000" text-anchor="middle" letter-spacing="1.6">**</text>
<text font-size="29" text-anchor="end" textLength="53.2" lengthAdjust="spacingAndGlyphs" transform="translate(166.3,1696.5) rotate(-45)">Unt.</text>
<text font-size="29" text-anchor="end" textLength="54.4" lengthAdjust="spacingAndGlyphs" transform="translate(230.5,1698.5) rotate(-45)">CP1</text>
<text font-size="29" text-anchor="end" textLength="63.8" lengthAdjust="spacingAndGlyphs" transform="translate(296.1,1699.0) rotate(-45)">PD-1</text>
<text font-size="29" text-anchor="end" textLength="153.2" lengthAdjust="spacingAndGlyphs" transform="translate(361.8,1699.5) rotate(-45)">CP1 + PD-1</text>
<text font-size="29" text-anchor="middle" transform="translate(30.6,1577) rotate(-90)">mm<tspan dy="-11" font-size="18.5">3</tspan></text>
<circle cx="547.6" cy="1600.5" r="3.1" fill="#000"/>
<circle cx="547.6" cy="1613.5" r="3.1" fill="#000"/>
<rect x="612.40" y="1593.80" width="7.60" height="7.60" fill="#ee3124"/>
<rect x="617.20" y="1638.40" width="7.60" height="7.60" fill="#ee3124"/>
<rect x="607.30" y="1644.80" width="7.60" height="7.60" fill="#ee3124"/>
<polygon points="679.8,1500.1 687.8,1500.1 683.8,1492.9" fill="#0f9648"/>
<polygon points="679.8,1617.7 687.8,1617.7 683.8,1610.5" fill="#0f9648"/>
<polygon points="675.0,1656.3 683.0,1656.3 679.0,1649.1" fill="#0f9648"/>
<polygon points="685.2,1653.8 693.2,1653.8 689.2,1646.6" fill="#0f9648"/>
<polygon points="747.4,1638.6 755.4,1638.6 751.4,1645.8" fill="#3f5ba9"/>
<polygon points="737.8,1650.3 744.8,1650.3 741.3,1656.7" fill="#8796c8"/>
<polygon points="758.5,1653.8 765.5,1653.8 762.0,1660.2" fill="#8796c8"/>
<line x1="525.1" y1="1607.4" x2="570.1" y2="1607.4" stroke="#000" stroke-width="3.1" stroke-linecap="butt"/><line x1="547.6" y1="1596" x2="547.6" y2="1618.3" stroke="#000" stroke-width="3.1" stroke-linecap="butt"/><line x1="534.8000000000001" y1="1596" x2="560.4" y2="1596" stroke="#000" stroke-width="3.1" stroke-linecap="butt"/><line x1="534.8000000000001" y1="1618.3" x2="560.4" y2="1618.3" stroke="#000" stroke-width="3.1" stroke-linecap="butt"/>
<line x1="593.7" y1="1629.8" x2="638.7" y2="1629.8" stroke="#000" stroke-width="3.1" stroke-linecap="butt"/><line x1="616.2" y1="1602.3" x2="616.2" y2="1656.6" stroke="#000" stroke-width="3.1" stroke-linecap="butt"/><line x1="603.4000000000001" y1="1602.3" x2="629.0" y2="1602.3" stroke="#000" stroke-width="3.1" stroke-linecap="butt"/><line x1="603.4000000000001" y1="1656.6" x2="629.0" y2="1656.6" stroke="#000" stroke-width="3.1" stroke-linecap="butt"/>
<line x1="661.3" y1="1603" x2="706.3" y2="1603" stroke="#000" stroke-width="3.1" stroke-linecap="butt"/><line x1="683.8" y1="1528.7" x2="683.8" y2="1668" stroke="#000" stroke-width="3.1" stroke-linecap="butt"/><line x1="671.0" y1="1528.7" x2="696.5999999999999" y2="1528.7" stroke="#000" stroke-width="3.1" stroke-linecap="butt"/><line x1="671.0" y1="1668" x2="696.5999999999999" y2="1668" stroke="#000" stroke-width="3.1" stroke-linecap="butt"/>
<line x1="728.9" y1="1654" x2="773.9" y2="1654" stroke="#000" stroke-width="3.1" stroke-linecap="butt"/><line x1="751.4" y1="1646" x2="751.4" y2="1662.3" stroke="#000" stroke-width="3.1" stroke-linecap="butt"/><line x1="738.6" y1="1646" x2="764.1999999999999" y2="1646" stroke="#000" stroke-width="3.1" stroke-linecap="butt"/><line x1="738.6" y1="1662.3" x2="764.1999999999999" y2="1662.3" stroke="#000" stroke-width="3.1" stroke-linecap="butt"/>
<line x1="514" y1="1484.2" x2="514" y2="1671.7" stroke="#000" stroke-width="7.2" stroke-linecap="butt"/>
<line x1="507" y1="1668.4" x2="786.5" y2="1668.4" stroke="#000" stroke-width="6.7" stroke-linecap="butt"/>
<line x1="507" y1="1623.2" x2="514" y2="1623.2" stroke="#000" stroke-width="6.4" stroke-linecap="butt"/>
<line x1="507" y1="1578.0" x2="514" y2="1578.0" stroke="#000" stroke-width="6.4" stroke-linecap="butt"/>
<line x1="507" y1="1532.8000000000002" x2="514" y2="1532.8000000000002" stroke="#000" stroke-width="6.4" stroke-linecap="butt"/>
<line x1="507" y1="1487.6000000000001" x2="514" y2="1487.6000000000001" stroke="#000" stroke-width="6.4" stroke-linecap="butt"/>
<line x1="547.6" y1="1668.4" x2="547.6" y2="1676.6000000000001" stroke="#000" stroke-width="5.8" stroke-linecap="butt"/>
<line x1="616.2" y1="1668.4" x2="616.2" y2="1676.6000000000001" stroke="#000" stroke-width="5.8" stroke-linecap="butt"/>
<line x1="683.8" y1="1668.4" x2="683.8" y2="1676.6000000000001" stroke="#000" stroke-width="5.8" stroke-linecap="butt"/>
<line x1="751.4" y1="1668.4" x2="751.4" y2="1676.6000000000001" stroke="#000" stroke-width="5.8" stroke-linecap="butt"/>
<text x="494.5" y="1678.6000000000001" font-size="29" fill="#000" text-anchor="end">0.0</text>
<text x="494.5" y="1633.4" font-size="29" fill="#000" text-anchor="end">0.1</text>
<text x="494.5" y="1588.2" font-size="29" fill="#000" text-anchor="end">0.2</text>
<text x="494.5" y="1543.0000000000002" font-size="29" fill="#000" text-anchor="end">0.3</text>
<text x="494.5" y="1497.8000000000002" font-size="29" fill="#000" text-anchor="end">0.4</text>
<text x="648.7" y="1438.6" font-size="29" fill="#000" text-anchor="middle">Tumor weight</text>
<line x1="546.7" y1="1485.8" x2="754" y2="1485.8" stroke="#000" stroke-width="5.2" stroke-linecap="butt"/>
<text x="645" y="1484" font-size="33" fill="#000" text-anchor="middle" letter-spacing="1.6">**</text>
<text font-size="29" text-anchor="end" textLength="53.2" lengthAdjust="spacingAndGlyphs" transform="translate(565.1,1696.5) rotate(-45)">Unt.</text>
<text font-size="29" text-anchor="end" textLength="54.4" lengthAdjust="spacingAndGlyphs" transform="translate(630.3,1698.5) rotate(-45)">CP1</text>
<text font-size="29" text-anchor="end" textLength="63.8" lengthAdjust="spacingAndGlyphs" transform="translate(695.6,1699.0) rotate(-45)">PD-1</text>
<text font-size="29" text-anchor="end" textLength="153.2" lengthAdjust="spacingAndGlyphs" transform="translate(760.9,1699.5) rotate(-45)">CP1 + PD-1</text>
<text font-size="29" text-anchor="middle" transform="translate(431.5,1577.5) rotate(-90)">g</text>
</g><g id="pe">
<text x="819.5" y="1399.8" font-size="40" fill="#000" text-anchor="start" font-weight="bold">e</text>
<text x="956.3" y="1462.3" font-size="29" fill="#000" text-anchor="middle">Unt.</text>
<text x="1062" y="1462.3" font-size="29" fill="#e21f26" text-anchor="middle" textLength="54.4" lengthAdjust="spacingAndGlyphs">CP1</text>
<text x="1167.5" y="1462.3" font-size="29" fill="#0f9347" text-anchor="middle" textLength="63.8" lengthAdjust="spacingAndGlyphs">PD-1</text>
<text x="1274.5" y="1427.3" font-size="29" fill="#3c57a6" text-anchor="middle" textLength="54.4" lengthAdjust="spacingAndGlyphs">CP1</text>
<text x="1274.5" y="1462.3" font-size="29" fill="#3c57a6" text-anchor="middle" textLength="80.9" lengthAdjust="spacingAndGlyphs">+PD-1</text>
<clipPath id="rclip"><rect x="820" y="1476.1" width="83" height="184.2"/></clipPath>
<g clip-path="url(#rclip)">
<rect x="820.00" y="1476.10" width="83.00" height="184.20" fill="url(#weave)"/>
<g filter="url(#rblur)">
<line x1="827.9" y1="1492.5" x2="827.9" y2="1661" stroke="#0f2748" stroke-width="2.0" stroke-linecap="butt"/>
<line x1="827" y1="1493.5" x2="903.2" y2="1493.5" stroke="#0f2748" stroke-width="2.1" stroke-linecap="butt"/>
<line x1="867.4" y1="1504.9" x2="903.2" y2="1504.9" stroke="#0f2748" stroke-width="2.1" stroke-linecap="butt"/>
<line x1="867.4" y1="1516" x2="903.2" y2="1516" stroke="#0f2748" stroke-width="2.1" stroke-linecap="butt"/>
<line x1="867.4" y1="1527.3" x2="903.2" y2="1527.3" stroke="#0f2748" stroke-width="2.1" stroke-linecap="butt"/>
<line x1="867.4" y1="1538.3" x2="903.2" y2="1538.3" stroke="#0f2748" stroke-width="2.1" stroke-linecap="butt"/>
<line x1="853.7" y1="1550" x2="903.2" y2="1550" stroke="#0f2748" stroke-width="2.1" stroke-linecap="butt"/>
<line x1="867.4" y1="1561" x2="903.2" y2="1561" stroke="#0f2748" stroke-width="2.1" stroke-linecap="butt"/>
<line x1="867.4" y1="1572.4" x2="903.2" y2="1572.4" stroke="#0f2748" stroke-width="2.1" stroke-linecap="butt"/>
<line x1="867.4" y1="1583.7" x2="903.2" y2="1583.7" stroke="#0f2748" stroke-width="2.1" stroke-linecap="butt"/>
<line x1="867.4" y1="1595.1" x2="903.2" y2="1595.1" stroke="#0f2748" stroke-width="2.1" stroke-linecap="butt"/>
<line x1="827" y1="1606.5" x2="903.2" y2="1606.5" stroke="#0f2748" stroke-width="2.1" stroke-linecap="butt"/>
<line x1="867.4" y1="1618" x2="903.2" y2="1618" stroke="#0f2748" stroke-width="2.1" stroke-linecap="butt"/>
<line x1="867.4" y1="1628.8" x2="903.2" y2="1628.8" stroke="#0f2748" stroke-width="2.1" stroke-linecap="butt"/>
<line x1="867.4" y1="1640" x2="903.2" y2="1640" stroke="#0f2748" stroke-width="2.1" stroke-linecap="butt"/>
<line x1="867.4" y1="1651.1" x2="903.2" y2="1651.1" stroke="#0f2748" stroke-width="2.1" stroke-linecap="butt"/>
<text font-size="23.8" fill="#0f2748" stroke="#0f2748" stroke-width="0.35" transform="translate(831.4,1500.3) rotate(90) scale(0.885,1)">METRIC 1</text>
</g></g>
<clipPath id="ph1"><rect x="913.2" y="1476.1" width="82.6" height="184.2"/></clipPath><g clip-path="url(#ph1)"><rect x="913.2" y="1476.1" width="82.6" height="184.2" fill="url(#paper)"/><rect x="913.2" y="1476.1" width="82.6" height="184.2" filter="url(#pnoise)" opacity="0.18"/><path d="M956.1,1494.6 C966.1,1492.7 973.9,1494.1 981.8,1497.5 C989.7,1500.9 986.1,1500.0 985.7,1507.4 C985.3,1514.8 981.3,1512.5 980.2,1525.2 C979.0,1537.8 980.2,1544.8 981.4,1554.8 C982.6,1564.8 985.0,1556.3 984.7,1562.7 C984.4,1569.0 980.5,1569.0 980.2,1578.5 C979.9,1587.9 983.3,1588.7 983.7,1598.2 C984.2,1607.7 986.0,1608.2 981.8,1614.0 C977.6,1619.8 973.7,1614.7 967.9,1619.9 C962.2,1625.2 965.3,1626.6 960.0,1633.7 C954.8,1640.8 954.0,1645.5 948.2,1646.6 C942.4,1647.6 941.5,1645.3 938.3,1637.7 C935.2,1630.1 938.2,1628.5 936.4,1617.9 C934.5,1607.4 931.9,1608.7 931.4,1598.2 C930.9,1587.7 934.6,1587.9 934.4,1578.5 C934.1,1569.0 931.0,1571.1 930.4,1562.7 C929.9,1554.2 934.3,1554.8 932.4,1546.9 C930.6,1539.0 924.6,1543.1 923.5,1533.1 C922.5,1523.0 922.9,1517.0 928.5,1509.4 C934.0,1501.7 936.9,1508.4 944.3,1504.4 C951.6,1500.5 946.1,1496.4 956.1,1494.6Z" fill="#6e6a6a" opacity="0.6" filter="url(#eblur3)" transform="translate(-6,1)"/><clipPath id="t1"><path d="M956.1,1494.6 C966.1,1492.7 973.9,1494.1 981.8,1497.5 C989.7,1500.9 986.1,1500.0 985.7,1507.4 C985.3,1514.8 981.3,1512.5 980.2,1525.2 C979.0,1537.8 980.2,1544.8 981.4,1554.8 C982.6,1564.8 985.0,1556.3 984.7,1562.7 C984.4,1569.0 980.5,1569.0 980.2,1578.5 C979.9,1587.9 983.3,1588.7 983.7,1598.2 C984.2,1607.7 986.0,1608.2 981.8,1614.0 C977.6,1619.8 973.7,1614.7 967.9,1619.9 C962.2,1625.2 965.3,1626.6 960.0,1633.7 C954.8,1640.8 954.0,1645.5 948.2,1646.6 C942.4,1647.6 941.5,1645.3 938.3,1637.7 C935.2,1630.1 938.2,1628.5 936.4,1617.9 C934.5,1607.4 931.9,1608.7 931.4,1598.2 C930.9,1587.7 934.6,1587.9 934.4,1578.5 C934.1,1569.0 931.0,1571.1 930.4,1562.7 C929.9,1554.2 934.3,1554.8 932.4,1546.9 C930.6,1539.0 924.6,1543.1 923.5,1533.1 C922.5,1523.0 922.9,1517.0 928.5,1509.4 C934.0,1501.7 936.9,1508.4 944.3,1504.4 C951.6,1500.5 946.1,1496.4 956.1,1494.6Z"/></clipPath><g filter="url(#eblur)"><path d="M956.1,1494.6 C966.1,1492.7 973.9,1494.1 981.8,1497.5 C989.7,1500.9 986.1,1500.0 985.7,1507.4 C985.3,1514.8 981.3,1512.5 980.2,1525.2 C979.0,1537.8 980.2,1544.8 981.4,1554.8 C982.6,1564.8 985.0,1556.3 984.7,1562.7 C984.4,1569.0 980.5,1569.0 980.2,1578.5 C979.9,1587.9 983.3,1588.7 983.7,1598.2 C984.2,1607.7 986.0,1608.2 981.8,1614.0 C977.6,1619.8 973.7,1614.7 967.9,1619.9 C962.2,1625.2 965.3,1626.6 960.0,1633.7 C954.8,1640.8 954.0,1645.5 948.2,1646.6 C942.4,1647.6 941.5,1645.3 938.3,1637.7 C935.2,1630.1 938.2,1628.5 936.4,1617.9 C934.5,1607.4 931.9,1608.7 931.4,1598.2 C930.9,1587.7 934.6,1587.9 934.4,1578.5 C934.1,1569.0 931.0,1571.1 930.4,1562.7 C929.9,1554.2 934.3,1554.8 932.4,1546.9 C930.6,1539.0 924.6,1543.1 923.5,1533.1 C922.5,1523.0 922.9,1517.0 928.5,1509.4 C934.0,1501.7 936.9,1508.4 944.3,1504.4 C951.6,1500.5 946.1,1496.4 956.1,1494.6Z" fill="#d19985"/></g><g clip-path="url(#t1)"><g filter="url(#eblur3)"><ellipse cx="953" cy="1528" rx="17" ry="20" fill="#c97a74" opacity="0.95" transform="rotate(0 953 1528)"/><ellipse cx="930" cy="1560" rx="7" ry="50" fill="#b97a6c" opacity="0.7" transform="rotate(0 930 1560)"/><ellipse cx="962" cy="1500" rx="14" ry="8" fill="#d9a38c" opacity="0.9" transform="rotate(0 962 1500)"/><ellipse cx="952" cy="1605" rx="13" ry="34" fill="#dcb094" opacity="0.85" transform="rotate(0 952 1605)"/><ellipse cx="975" cy="1580" rx="6" ry="40" fill="#deb19c" opacity="0.7" transform="rotate(0 975 1580)"/></g><g filter="url(#eblur2)"><ellipse cx="947" cy="1527" rx="5" ry="4" fill="#e8c4c0" opacity="0.8" transform="rotate(0 947 1527)"/><ellipse cx="958" cy="1570" rx="3" ry="10" fill="#f0c8b8" opacity="0.6" transform="rotate(20 958 1570)"/></g></g></g>
<clipPath id="ph2"><rect x="1022.1" y="1476.1" width="81.4" height="184.2"/></clipPath><g clip-path="url(#ph2)"><rect x="1022.1" y="1476.1" width="81.4" height="184.2" fill="url(#paper)"/><rect x="1022.1" y="1476.1" width="81.4" height="184.2" filter="url(#pnoise)" opacity="0.18"/><path d="M1037.8,1495.1 C1042.8,1492.1 1051.2,1494.1 1060.6,1495.5 C1069.9,1496.9 1065.8,1497.9 1072.7,1500.4 C1079.6,1502.9 1079.1,1499.7 1086.4,1504.9 C1093.7,1510.2 1094.8,1510.0 1100.0,1520.1 C1105.3,1530.2 1104.9,1527.9 1106.1,1542.9 C1107.3,1557.9 1106.2,1561.3 1104.6,1576.3 C1103.0,1591.3 1104.9,1591.0 1100.0,1599.1 C1095.2,1607.2 1095.7,1603.2 1086.4,1606.7 C1077.1,1610.1 1075.2,1612.0 1065.1,1612.0 C1055.0,1612.0 1056.1,1610.9 1048.4,1606.7 C1040.7,1602.4 1039.1,1604.1 1036.3,1596.0 C1033.4,1587.9 1039.4,1584.0 1037.8,1576.3 C1036.2,1568.6 1033.0,1574.5 1030.2,1567.2 C1027.4,1559.9 1027.6,1558.7 1027.1,1549.0 C1026.7,1539.2 1025.8,1538.8 1028.7,1530.7 C1031.5,1522.6 1034.3,1525.1 1037.8,1518.6 C1041.2,1512.1 1041.6,1512.7 1041.6,1506.4 C1041.6,1500.2 1032.7,1498.0 1037.8,1495.1Z" fill="#5e5a5a" opacity="0.7" filter="url(#eblur3)" transform="translate(-6,0)"/><clipPath id="t2"><path d="M1037.8,1495.1 C1042.8,1492.1 1051.2,1494.1 1060.6,1495.5 C1069.9,1496.9 1065.8,1497.9 1072.7,1500.4 C1079.6,1502.9 1079.1,1499.7 1086.4,1504.9 C1093.7,1510.2 1094.8,1510.0 1100.0,1520.1 C1105.3,1530.2 1104.9,1527.9 1106.1,1542.9 C1107.3,1557.9 1106.2,1561.3 1104.6,1576.3 C1103.0,1591.3 1104.9,1591.0 1100.0,1599.1 C1095.2,1607.2 1095.7,1603.2 1086.4,1606.7 C1077.1,1610.1 1075.2,1612.0 1065.1,1612.0 C1055.0,1612.0 1056.1,1610.9 1048.4,1606.7 C1040.7,1602.4 1039.1,1604.1 1036.3,1596.0 C1033.4,1587.9 1039.4,1584.0 1037.8,1576.3 C1036.2,1568.6 1033.0,1574.5 1030.2,1567.2 C1027.4,1559.9 1027.6,1558.7 1027.1,1549.0 C1026.7,1539.2 1025.8,1538.8 1028.7,1530.7 C1031.5,1522.6 1034.3,1525.1 1037.8,1518.6 C1041.2,1512.1 1041.6,1512.7 1041.6,1506.4 C1041.6,1500.2 1032.7,1498.0 1037.8,1495.1Z"/></clipPath><g filter="url(#eblur)"><path d="M1037.8,1495.1 C1042.8,1492.1 1051.2,1494.1 1060.6,1495.5 C1069.9,1496.9 1065.8,1497.9 1072.7,1500.4 C1079.6,1502.9 1079.1,1499.7 1086.4,1504.9 C1093.7,1510.2 1094.8,1510.0 1100.0,1520.1 C1105.3,1530.2 1104.9,1527.9 1106.1,1542.9 C1107.3,1557.9 1106.2,1561.3 1104.6,1576.3 C1103.0,1591.3 1104.9,1591.0 1100.0,1599.1 C1095.2,1607.2 1095.7,1603.2 1086.4,1606.7 C1077.1,1610.1 1075.2,1612.0 1065.1,1612.0 C1055.0,1612.0 1056.1,1610.9 1048.4,1606.7 C1040.7,1602.4 1039.1,1604.1 1036.3,1596.0 C1033.4,1587.9 1039.4,1584.0 1037.8,1576.3 C1036.2,1568.6 1033.0,1574.5 1030.2,1567.2 C1027.4,1559.9 1027.6,1558.7 1027.1,1549.0 C1026.7,1539.2 1025.8,1538.8 1028.7,1530.7 C1031.5,1522.6 1034.3,1525.1 1037.8,1518.6 C1041.2,1512.1 1041.6,1512.7 1041.6,1506.4 C1041.6,1500.2 1032.7,1498.0 1037.8,1495.1Z" fill="#d59d83"/></g><g clip-path="url(#t2)"><g filter="url(#eblur3)"><ellipse cx="1046" cy="1540" rx="22" ry="24" fill="#c0745a" opacity="0.95" transform="rotate(0 1046 1540)"/><ellipse cx="1040" cy="1590" rx="8" ry="20" fill="#cf8f78" opacity="0.6" transform="rotate(0 1040 1590)"/><ellipse cx="1066" cy="1592" rx="22" ry="20" fill="#dcb490" opacity="0.9" transform="rotate(0 1066 1592)"/><ellipse cx="1095" cy="1545" rx="10" ry="40" fill="#e3b9ae" opacity="0.9" transform="rotate(0 1095 1545)"/><ellipse cx="1058" cy="1576" rx="10" ry="12" fill="#e4c0aa" opacity="0.8" transform="rotate(0 1058 1576)"/><ellipse cx="1052" cy="1505" rx="18" ry="8" fill="#e0ab8e" opacity="0.8" transform="rotate(0 1052 1505)"/></g><g filter="url(#eblur)"><ellipse cx="1077" cy="1544" rx="6" ry="1.2" fill="#fff" opacity="0.8" transform="rotate(20 1077 1544)"/><ellipse cx="1078" cy="1546" rx="1.2" ry="6" fill="#fff" opacity="0.7" transform="rotate(-30 1078 1546)"/><ellipse cx="1082" cy="1582" rx="4" ry="1" fill="#fff" opacity="0.6" transform="rotate(-40 1082 1582)"/></g></g></g>
<clipPath id="ph3"><rect x="1129.7" y="1476.1" width="80.9" height="184.2"/></clipPath><g clip-path="url(#ph3)"><rect x="1129.7" y="1476.1" width="80.9" height="184.2" fill="url(#paper)"/><rect x="1129.7" y="1476.1" width="80.9" height="184.2" filter="url(#pnoise)" opacity="0.18"/><path d="M1135.0,1504.9 C1137.8,1501.1 1135.6,1500.2 1144.1,1498.1 C1152.6,1496.0 1155.9,1495.8 1166.9,1497.0 C1177.8,1498.2 1177.0,1498.1 1185.1,1502.6 C1193.2,1507.2 1192.2,1506.5 1197.2,1514.0 C1202.3,1521.5 1202.9,1521.4 1204.1,1530.7 C1205.3,1540.1 1203.8,1539.2 1201.8,1549.0 C1199.8,1558.7 1197.7,1559.1 1196.5,1567.2 C1195.3,1575.3 1199.1,1572.1 1197.2,1579.3 C1195.4,1586.6 1193.3,1587.2 1189.6,1594.5 C1186.0,1601.8 1189.2,1601.2 1183.6,1606.7 C1177.9,1612.1 1175.7,1614.2 1168.4,1615.0 C1161.1,1615.8 1160.9,1614.8 1156.2,1609.7 C1151.6,1604.6 1151.5,1605.0 1150.9,1596.0 C1150.3,1587.1 1154.0,1585.6 1154.0,1576.3 C1154.0,1567.0 1153.5,1570.4 1150.9,1561.1 C1148.3,1551.8 1147.9,1551.1 1144.1,1541.4 C1140.2,1531.7 1139.3,1532.4 1136.5,1524.7 C1133.7,1517.0 1133.9,1517.8 1133.5,1512.5 C1133.0,1507.3 1132.1,1508.8 1135.0,1504.9Z" fill="#6e6a6a" opacity="0.55" filter="url(#eblur3)" transform="translate(-5,0)"/><clipPath id="t3"><path d="M1135.0,1504.9 C1137.8,1501.1 1135.6,1500.2 1144.1,1498.1 C1152.6,1496.0 1155.9,1495.8 1166.9,1497.0 C1177.8,1498.2 1177.0,1498.1 1185.1,1502.6 C1193.2,1507.2 1192.2,1506.5 1197.2,1514.0 C1202.3,1521.5 1202.9,1521.4 1204.1,1530.7 C1205.3,1540.1 1203.8,1539.2 1201.8,1549.0 C1199.8,1558.7 1197.7,1559.1 1196.5,1567.2 C1195.3,1575.3 1199.1,1572.1 1197.2,1579.3 C1195.4,1586.6 1193.3,1587.2 1189.6,1594.5 C1186.0,1601.8 1189.2,1601.2 1183.6,1606.7 C1177.9,1612.1 1175.7,1614.2 1168.4,1615.0 C1161.1,1615.8 1160.9,1614.8 1156.2,1609.7 C1151.6,1604.6 1151.5,1605.0 1150.9,1596.0 C1150.3,1587.1 1154.0,1585.6 1154.0,1576.3 C1154.0,1567.0 1153.5,1570.4 1150.9,1561.1 C1148.3,1551.8 1147.9,1551.1 1144.1,1541.4 C1140.2,1531.7 1139.3,1532.4 1136.5,1524.7 C1133.7,1517.0 1133.9,1517.8 1133.5,1512.5 C1133.0,1507.3 1132.1,1508.8 1135.0,1504.9Z"/></clipPath><g filter="url(#eblur)"><path d="M1135.0,1504.9 C1137.8,1501.1 1135.6,1500.2 1144.1,1498.1 C1152.6,1496.0 1155.9,1495.8 1166.9,1497.0 C1177.8,1498.2 1177.0,1498.1 1185.1,1502.6 C1193.2,1507.2 1192.2,1506.5 1197.2,1514.0 C1202.3,1521.5 1202.9,1521.4 1204.1,1530.7 C1205.3,1540.1 1203.8,1539.2 1201.8,1549.0 C1199.8,1558.7 1197.7,1559.1 1196.5,1567.2 C1195.3,1575.3 1199.1,1572.1 1197.2,1579.3 C1195.4,1586.6 1193.3,1587.2 1189.6,1594.5 C1186.0,1601.8 1189.2,1601.2 1183.6,1606.7 C1177.9,1612.1 1175.7,1614.2 1168.4,1615.0 C1161.1,1615.8 1160.9,1614.8 1156.2,1609.7 C1151.6,1604.6 1151.5,1605.0 1150.9,1596.0 C1150.3,1587.1 1154.0,1585.6 1154.0,1576.3 C1154.0,1567.0 1153.5,1570.4 1150.9,1561.1 C1148.3,1551.8 1147.9,1551.1 1144.1,1541.4 C1140.2,1531.7 1139.3,1532.4 1136.5,1524.7 C1133.7,1517.0 1133.9,1517.8 1133.5,1512.5 C1133.0,1507.3 1132.1,1508.8 1135.0,1504.9Z" fill="#cd8b7b"/></g><g clip-path="url(#t3)"><g filter="url(#eblur3)"><ellipse cx="1176" cy="1515" rx="19" ry="15" fill="#c6605e" opacity="0.95" transform="rotate(0 1176 1515)"/><ellipse cx="1148" cy="1525" rx="9" ry="18" fill="#d4907f" opacity="0.8" transform="rotate(0 1148 1525)"/><ellipse cx="1168" cy="1598" rx="15" ry="14" fill="#d49c82" opacity="0.9" transform="rotate(0 1168 1598)"/><ellipse cx="1162" cy="1570" rx="8" ry="8" fill="#b8584c" opacity="0.5" transform="rotate(0 1162 1570)"/><ellipse cx="1195" cy="1550" rx="8" ry="25" fill="#c98078" opacity="0.6" transform="rotate(0 1195 1550)"/></g><g filter="url(#eblur)"><ellipse cx="1172" cy="1520" rx="5" ry="1.2" fill="#fff" opacity="0.8" transform="rotate(25 1172 1520)"/><ellipse cx="1167" cy="1522" rx="1.2" ry="3" fill="#fff" opacity="0.7" transform="rotate(0 1167 1522)"/><ellipse cx="1176" cy="1530" rx="1.3" ry="3" fill="#fff" opacity="0.6" transform="rotate(0 1176 1530)"/></g></g></g>
<clipPath id="ph4"><rect x="1236" y="1476.1" width="81" height="184.2"/></clipPath><g clip-path="url(#ph4)"><rect x="1236" y="1476.1" width="81" height="184.2" fill="url(#paper4)"/><rect x="1236" y="1476.1" width="81" height="184.2" filter="url(#pnoise)" opacity="0.18"/><path d="M1266.4,1495.0 C1272.3,1491.5 1273.9,1493.0 1280.4,1496.1 C1286.9,1499.2 1286.7,1500.1 1290.9,1506.6 C1295.1,1513.1 1295.6,1512.5 1296.2,1520.6 C1296.9,1528.7 1295.0,1530.1 1293.2,1536.9 C1291.5,1543.8 1289.1,1541.9 1289.7,1546.2 C1290.3,1550.6 1297.4,1550.8 1295.5,1553.2 C1293.7,1555.7 1289.9,1556.5 1282.7,1555.6 C1275.6,1554.6 1275.0,1555.3 1268.7,1549.7 C1262.5,1544.1 1262.5,1543.0 1259.4,1534.6 C1256.3,1526.2 1257.4,1525.1 1257.1,1518.3 C1256.8,1511.4 1255.8,1515.2 1258.3,1509.0 C1260.7,1502.7 1260.5,1498.4 1266.4,1495.0Z" fill="#7a7676" opacity="0.5" filter="url(#eblur3)" transform="translate(-4,0)"/><clipPath id="t4"><path d="M1266.4,1495.0 C1272.3,1491.5 1273.9,1493.0 1280.4,1496.1 C1286.9,1499.2 1286.7,1500.1 1290.9,1506.6 C1295.1,1513.1 1295.6,1512.5 1296.2,1520.6 C1296.9,1528.7 1295.0,1530.1 1293.2,1536.9 C1291.5,1543.8 1289.1,1541.9 1289.7,1546.2 C1290.3,1550.6 1297.4,1550.8 1295.5,1553.2 C1293.7,1555.7 1289.9,1556.5 1282.7,1555.6 C1275.6,1554.6 1275.0,1555.3 1268.7,1549.7 C1262.5,1544.1 1262.5,1543.0 1259.4,1534.6 C1256.3,1526.2 1257.4,1525.1 1257.1,1518.3 C1256.8,1511.4 1255.8,1515.2 1258.3,1509.0 C1260.7,1502.7 1260.5,1498.4 1266.4,1495.0Z"/></clipPath><g filter="url(#eblur)"><path d="M1266.4,1495.0 C1272.3,1491.5 1273.9,1493.0 1280.4,1496.1 C1286.9,1499.2 1286.7,1500.1 1290.9,1506.6 C1295.1,1513.1 1295.6,1512.5 1296.2,1520.6 C1296.9,1528.7 1295.0,1530.1 1293.2,1536.9 C1291.5,1543.8 1289.1,1541.9 1289.7,1546.2 C1290.3,1550.6 1297.4,1550.8 1295.5,1553.2 C1293.7,1555.7 1289.9,1556.5 1282.7,1555.6 C1275.6,1554.6 1275.0,1555.3 1268.7,1549.7 C1262.5,1544.1 1262.5,1543.0 1259.4,1534.6 C1256.3,1526.2 1257.4,1525.1 1257.1,1518.3 C1256.8,1511.4 1255.8,1515.2 1258.3,1509.0 C1260.7,1502.7 1260.5,1498.4 1266.4,1495.0Z" fill="#d39b82"/></g><g clip-path="url(#t4)"><g filter="url(#eblur2)"><ellipse cx="1266" cy="1525" rx="7" ry="14" fill="#c68a68" opacity="0.75" transform="rotate(0 1266 1525)"/><ellipse cx="1282" cy="1520" rx="6" ry="12" fill="#d8a48e" opacity="0.7" transform="rotate(0 1282 1520)"/></g></g></g>
</g>
</svg>
</body></html>
